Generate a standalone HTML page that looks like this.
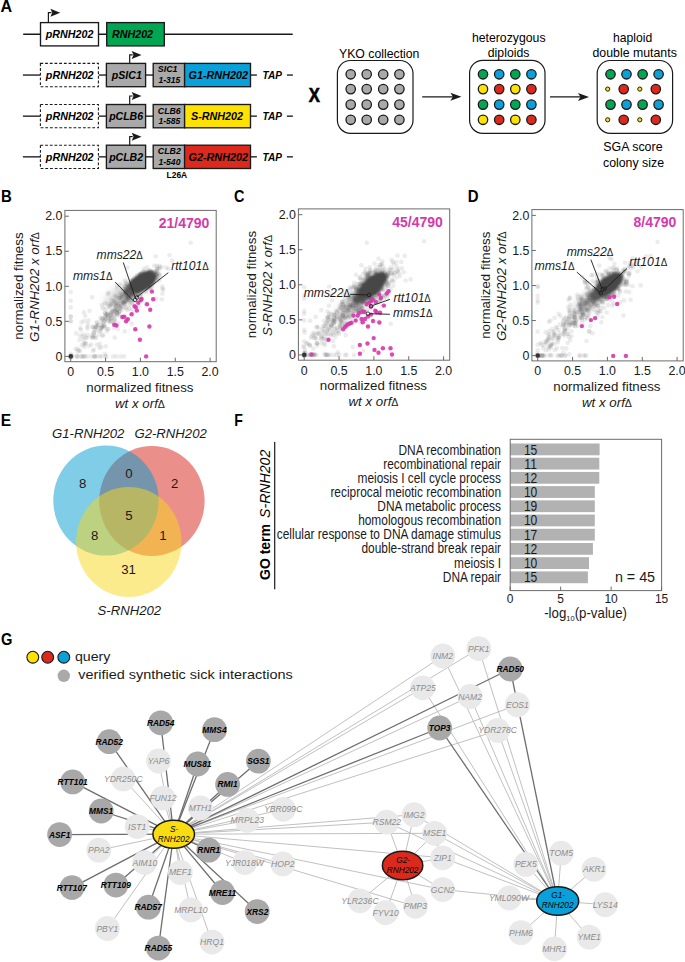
<!DOCTYPE html>
<html><head><meta charset="utf-8"><style>
html,body{margin:0;padding:0;background:#fff;}
svg{display:block;font-family:"Liberation Sans",sans-serif;}
</style></head><body>
<svg width="685" height="962" viewBox="0 0 685 962">
<text x="0.40" y="11.80" font-size="17.0" font-weight="bold" textLength="11.60" lengthAdjust="spacingAndGlyphs">A</text>
<line x1="23.20" y1="34.25" x2="292.70" y2="34.25" stroke="#1a1a1a" stroke-width="1.35" />
<rect x="40.50" y="22.60" width="58.00" height="23.30" fill="#fff" stroke="#1a1a1a" stroke-width="1.35" />
<rect x="106.70" y="22.60" width="57.60" height="23.30" fill="#00a651" stroke="#1a1a1a" stroke-width="1.35" />
<path d="M48.40 22.60V12.70H51.40" fill="none" stroke="#1a1a1a" stroke-width="1.2"/>
<path d="M50.40 8.70L60.20 12.70L50.40 16.70L52.20 12.70Z" fill="#1a1a1a"/>
<text x="45.84" y="37.90" font-size="11.2" font-weight="bold" font-style="italic" textLength="47.56" lengthAdjust="spacingAndGlyphs">pRNH202</text>
<text x="111.90" y="37.90" font-size="11.2" font-weight="bold" font-style="italic" textLength="41.20" lengthAdjust="spacingAndGlyphs">RNH202</text>
<line x1="22.90" y1="75.05" x2="40.40" y2="75.05" stroke="#1a1a1a" stroke-width="1.35" />
<line x1="98.40" y1="75.05" x2="106.50" y2="75.05" stroke="#1a1a1a" stroke-width="1.35" />
<line x1="145.60" y1="75.05" x2="153.20" y2="75.05" stroke="#1a1a1a" stroke-width="1.35" />
<line x1="250.50" y1="75.05" x2="256.90" y2="75.05" stroke="#1a1a1a" stroke-width="1.35" />
<line x1="286.90" y1="75.05" x2="292.90" y2="75.05" stroke="#1a1a1a" stroke-width="1.35" />
<rect x="40.40" y="63.40" width="58.00" height="23.30" fill="#fff" stroke="#1a1a1a" stroke-width="1.1" stroke-dasharray="2.8 1.9"/>
<rect x="106.40" y="63.40" width="39.20" height="23.30" fill="#a9a9a9" stroke="#1a1a1a" stroke-width="1.35" />
<rect x="153.20" y="63.40" width="31.40" height="23.30" fill="#a9a9a9" stroke="#1a1a1a" stroke-width="1.35" />
<rect x="184.60" y="63.40" width="65.90" height="23.30" fill="#0aa0da" stroke="#1a1a1a" stroke-width="1.35" />
<path d="M129.70 63.40V54.90H132.70" fill="none" stroke="#1a1a1a" stroke-width="1.2"/>
<path d="M131.70 50.90L141.50 54.90L131.70 58.90L133.50 54.90Z" fill="#1a1a1a"/>
<text x="45.84" y="78.80" font-size="11.2" font-weight="bold" font-style="italic" textLength="47.76" lengthAdjust="spacingAndGlyphs">pRNH202</text>
<text x="111.83" y="78.80" font-size="11.3" font-weight="bold" font-style="italic" textLength="29.97" lengthAdjust="spacingAndGlyphs">pSIC1</text>
<text x="157.80" y="72.40" font-size="9.0" font-weight="bold" font-style="italic" textLength="19.70" lengthAdjust="spacingAndGlyphs">SIC1</text>
<text x="158.50" y="83.20" font-size="9.0" font-weight="bold" font-style="italic" textLength="21.80" lengthAdjust="spacingAndGlyphs">1-315</text>
<text x="188.50" y="78.80" font-size="11.3" font-weight="bold" font-style="italic" textLength="59.50" lengthAdjust="spacingAndGlyphs">G1-RNH202</text>
<text x="262.60" y="78.80" font-size="11.2" font-weight="bold" font-style="italic" textLength="19.28" lengthAdjust="spacingAndGlyphs">TAP</text>
<line x1="22.90" y1="116.15" x2="40.40" y2="116.15" stroke="#1a1a1a" stroke-width="1.35" />
<line x1="98.40" y1="116.15" x2="106.50" y2="116.15" stroke="#1a1a1a" stroke-width="1.35" />
<line x1="145.60" y1="116.15" x2="153.20" y2="116.15" stroke="#1a1a1a" stroke-width="1.35" />
<line x1="250.50" y1="116.15" x2="256.90" y2="116.15" stroke="#1a1a1a" stroke-width="1.35" />
<line x1="286.90" y1="116.15" x2="292.90" y2="116.15" stroke="#1a1a1a" stroke-width="1.35" />
<rect x="40.40" y="104.50" width="58.00" height="23.30" fill="#fff" stroke="#1a1a1a" stroke-width="1.1" stroke-dasharray="2.8 1.9"/>
<rect x="106.40" y="104.50" width="39.20" height="23.30" fill="#a9a9a9" stroke="#1a1a1a" stroke-width="1.35" />
<rect x="153.20" y="104.50" width="31.40" height="23.30" fill="#a9a9a9" stroke="#1a1a1a" stroke-width="1.35" />
<rect x="184.60" y="104.50" width="65.90" height="23.30" fill="#ffe200" stroke="#1a1a1a" stroke-width="1.35" />
<path d="M129.70 104.50V96.00H132.70" fill="none" stroke="#1a1a1a" stroke-width="1.2"/>
<path d="M131.70 92.00L141.50 96.00L131.70 100.00L133.50 96.00Z" fill="#1a1a1a"/>
<text x="45.84" y="119.90" font-size="11.2" font-weight="bold" font-style="italic" textLength="47.76" lengthAdjust="spacingAndGlyphs">pRNH202</text>
<text x="109.13" y="119.90" font-size="11.3" font-weight="bold" font-style="italic" textLength="33.91" lengthAdjust="spacingAndGlyphs">pCLB6</text>
<text x="157.80" y="113.50" font-size="9.0" font-weight="bold" font-style="italic" textLength="22.95" lengthAdjust="spacingAndGlyphs">CLB6</text>
<text x="158.50" y="124.30" font-size="9.0" font-weight="bold" font-style="italic" textLength="21.80" lengthAdjust="spacingAndGlyphs">1-585</text>
<text x="191.00" y="119.90" font-size="11.3" font-weight="bold" font-style="italic" textLength="52.00" lengthAdjust="spacingAndGlyphs">S-RNH202</text>
<text x="262.60" y="119.90" font-size="11.2" font-weight="bold" font-style="italic" textLength="19.28" lengthAdjust="spacingAndGlyphs">TAP</text>
<line x1="22.90" y1="156.85" x2="40.40" y2="156.85" stroke="#1a1a1a" stroke-width="1.35" />
<line x1="98.40" y1="156.85" x2="106.50" y2="156.85" stroke="#1a1a1a" stroke-width="1.35" />
<line x1="145.60" y1="156.85" x2="153.20" y2="156.85" stroke="#1a1a1a" stroke-width="1.35" />
<line x1="250.50" y1="156.85" x2="256.90" y2="156.85" stroke="#1a1a1a" stroke-width="1.35" />
<line x1="286.90" y1="156.85" x2="292.90" y2="156.85" stroke="#1a1a1a" stroke-width="1.35" />
<rect x="40.40" y="145.20" width="58.00" height="23.30" fill="#fff" stroke="#1a1a1a" stroke-width="1.1" stroke-dasharray="2.8 1.9"/>
<rect x="106.40" y="145.20" width="39.20" height="23.30" fill="#a9a9a9" stroke="#1a1a1a" stroke-width="1.35" />
<rect x="153.20" y="145.20" width="31.40" height="23.30" fill="#a9a9a9" stroke="#1a1a1a" stroke-width="1.35" />
<rect x="184.60" y="145.20" width="65.90" height="23.30" fill="#db2a1d" stroke="#1a1a1a" stroke-width="1.35" />
<path d="M129.70 145.20V136.70H132.70" fill="none" stroke="#1a1a1a" stroke-width="1.2"/>
<path d="M131.70 132.70L141.50 136.70L131.70 140.70L133.50 136.70Z" fill="#1a1a1a"/>
<text x="45.84" y="160.60" font-size="11.2" font-weight="bold" font-style="italic" textLength="47.76" lengthAdjust="spacingAndGlyphs">pRNH202</text>
<text x="109.13" y="160.60" font-size="11.3" font-weight="bold" font-style="italic" textLength="33.97" lengthAdjust="spacingAndGlyphs">pCLB2</text>
<text x="157.80" y="154.20" font-size="9.0" font-weight="bold" font-style="italic" textLength="23.00" lengthAdjust="spacingAndGlyphs">CLB2</text>
<text x="158.50" y="165.00" font-size="9.0" font-weight="bold" font-style="italic" textLength="21.90" lengthAdjust="spacingAndGlyphs">1-540</text>
<text x="188.50" y="160.60" font-size="11.3" font-weight="bold" font-style="italic" textLength="59.50" lengthAdjust="spacingAndGlyphs">G2-RNH202</text>
<text x="262.60" y="160.60" font-size="11.2" font-weight="bold" font-style="italic" textLength="19.28" lengthAdjust="spacingAndGlyphs">TAP</text>
<text x="166.60" y="177.80" font-size="9.0" font-weight="bold" textLength="20.60" lengthAdjust="spacingAndGlyphs">L26A</text>
<text x="308.80" y="101.60" font-size="21.0" font-weight="bold" textLength="11.10" lengthAdjust="spacingAndGlyphs" stroke="#000" stroke-width="0.7">X</text>
<rect x="337.40" y="60.50" width="75.60" height="72.80" rx="13" ry="13" fill="#fff" stroke="#1a1a1a" stroke-width="1.2"/>
<rect x="469.60" y="60.30" width="75.40" height="73.00" rx="13" ry="13" fill="#fff" stroke="#1a1a1a" stroke-width="1.2"/>
<rect x="597.20" y="60.50" width="75.40" height="72.80" rx="13" ry="13" fill="#fff" stroke="#1a1a1a" stroke-width="1.2"/>
<circle cx="350.70" cy="74.30" r="4.70" fill="#a9a9a9" stroke="#1a1a1a" stroke-width="1.3" />
<circle cx="366.70" cy="74.30" r="4.70" fill="#a9a9a9" stroke="#1a1a1a" stroke-width="1.3" />
<circle cx="383.20" cy="74.30" r="4.70" fill="#a9a9a9" stroke="#1a1a1a" stroke-width="1.3" />
<circle cx="399.40" cy="74.30" r="4.70" fill="#a9a9a9" stroke="#1a1a1a" stroke-width="1.3" />
<circle cx="350.70" cy="89.10" r="4.70" fill="#a9a9a9" stroke="#1a1a1a" stroke-width="1.3" />
<circle cx="366.70" cy="89.10" r="4.70" fill="#a9a9a9" stroke="#1a1a1a" stroke-width="1.3" />
<circle cx="383.20" cy="89.10" r="4.70" fill="#a9a9a9" stroke="#1a1a1a" stroke-width="1.3" />
<circle cx="399.40" cy="89.10" r="4.70" fill="#a9a9a9" stroke="#1a1a1a" stroke-width="1.3" />
<circle cx="350.70" cy="104.60" r="4.70" fill="#a9a9a9" stroke="#1a1a1a" stroke-width="1.3" />
<circle cx="366.70" cy="104.60" r="4.70" fill="#a9a9a9" stroke="#1a1a1a" stroke-width="1.3" />
<circle cx="383.20" cy="104.60" r="4.70" fill="#a9a9a9" stroke="#1a1a1a" stroke-width="1.3" />
<circle cx="399.40" cy="104.60" r="4.70" fill="#a9a9a9" stroke="#1a1a1a" stroke-width="1.3" />
<circle cx="350.70" cy="119.80" r="4.70" fill="#a9a9a9" stroke="#1a1a1a" stroke-width="1.3" />
<circle cx="366.70" cy="119.80" r="4.70" fill="#a9a9a9" stroke="#1a1a1a" stroke-width="1.3" />
<circle cx="383.20" cy="119.80" r="4.70" fill="#a9a9a9" stroke="#1a1a1a" stroke-width="1.3" />
<circle cx="399.40" cy="119.80" r="4.70" fill="#a9a9a9" stroke="#1a1a1a" stroke-width="1.3" />
<circle cx="483.00" cy="74.30" r="4.70" fill="#00a651" stroke="#1a1a1a" stroke-width="1.3" />
<circle cx="499.20" cy="74.30" r="4.70" fill="#0aa0da" stroke="#1a1a1a" stroke-width="1.3" />
<circle cx="515.30" cy="74.30" r="4.70" fill="#00a651" stroke="#1a1a1a" stroke-width="1.3" />
<circle cx="531.40" cy="74.30" r="4.70" fill="#0aa0da" stroke="#1a1a1a" stroke-width="1.3" />
<circle cx="483.00" cy="89.10" r="4.70" fill="#ffe200" stroke="#1a1a1a" stroke-width="1.3" />
<circle cx="499.20" cy="89.10" r="4.70" fill="#db2a1d" stroke="#1a1a1a" stroke-width="1.3" />
<circle cx="515.30" cy="89.10" r="4.70" fill="#ffe200" stroke="#1a1a1a" stroke-width="1.3" />
<circle cx="531.40" cy="89.10" r="4.70" fill="#db2a1d" stroke="#1a1a1a" stroke-width="1.3" />
<circle cx="483.00" cy="104.60" r="4.70" fill="#00a651" stroke="#1a1a1a" stroke-width="1.3" />
<circle cx="499.20" cy="104.60" r="4.70" fill="#0aa0da" stroke="#1a1a1a" stroke-width="1.3" />
<circle cx="515.30" cy="104.60" r="4.70" fill="#00a651" stroke="#1a1a1a" stroke-width="1.3" />
<circle cx="531.40" cy="104.60" r="4.70" fill="#0aa0da" stroke="#1a1a1a" stroke-width="1.3" />
<circle cx="483.00" cy="119.80" r="4.70" fill="#ffe200" stroke="#1a1a1a" stroke-width="1.3" />
<circle cx="499.20" cy="119.80" r="4.70" fill="#db2a1d" stroke="#1a1a1a" stroke-width="1.3" />
<circle cx="515.30" cy="119.80" r="4.70" fill="#ffe200" stroke="#1a1a1a" stroke-width="1.3" />
<circle cx="531.40" cy="119.80" r="4.70" fill="#db2a1d" stroke="#1a1a1a" stroke-width="1.3" />
<circle cx="610.50" cy="74.30" r="4.70" fill="#00a651" stroke="#1a1a1a" stroke-width="1.3" />
<circle cx="626.50" cy="74.30" r="4.70" fill="#0aa0da" stroke="#1a1a1a" stroke-width="1.3" />
<circle cx="642.60" cy="74.30" r="4.70" fill="#00a651" stroke="#1a1a1a" stroke-width="1.3" />
<circle cx="658.60" cy="74.30" r="4.70" fill="#0aa0da" stroke="#1a1a1a" stroke-width="1.3" />
<circle cx="607.70" cy="89.10" r="2.10" fill="#ffe200" stroke="#1a1a1a" stroke-width="1.0" />
<circle cx="623.70" cy="89.10" r="4.70" fill="#db2a1d" stroke="#1a1a1a" stroke-width="1.3" />
<circle cx="639.80" cy="89.10" r="2.10" fill="#ffe200" stroke="#1a1a1a" stroke-width="1.0" />
<circle cx="655.80" cy="89.10" r="4.70" fill="#db2a1d" stroke="#1a1a1a" stroke-width="1.3" />
<circle cx="610.50" cy="104.60" r="4.70" fill="#00a651" stroke="#1a1a1a" stroke-width="1.3" />
<circle cx="626.50" cy="104.60" r="4.70" fill="#0aa0da" stroke="#1a1a1a" stroke-width="1.3" />
<circle cx="642.60" cy="104.60" r="4.70" fill="#00a651" stroke="#1a1a1a" stroke-width="1.3" />
<circle cx="658.60" cy="104.60" r="4.70" fill="#0aa0da" stroke="#1a1a1a" stroke-width="1.3" />
<circle cx="607.70" cy="119.80" r="2.10" fill="#ffe200" stroke="#1a1a1a" stroke-width="1.0" />
<circle cx="623.70" cy="119.80" r="4.70" fill="#db2a1d" stroke="#1a1a1a" stroke-width="1.3" />
<circle cx="639.80" cy="119.80" r="2.10" fill="#ffe200" stroke="#1a1a1a" stroke-width="1.0" />
<circle cx="655.80" cy="119.80" r="4.70" fill="#db2a1d" stroke="#1a1a1a" stroke-width="1.3" />
<line x1="422.20" y1="96.80" x2="455.40" y2="96.80" stroke="#1a1a1a" stroke-width="1.3" />
<path d="M450.40 92.80L461.40 96.80L450.40 100.80L452.90 96.80Z" fill="#1a1a1a"/>
<line x1="550.00" y1="96.90" x2="583.00" y2="96.90" stroke="#1a1a1a" stroke-width="1.3" />
<path d="M578.00 92.90L589.00 96.90L578.00 100.90L580.50 96.90Z" fill="#1a1a1a"/>
<text x="339.00" y="57.70" font-size="12.8" textLength="80.40" lengthAdjust="spacingAndGlyphs">YKO collection</text>
<text x="471.90" y="41.80" font-size="12.8" textLength="73.70" lengthAdjust="spacingAndGlyphs">heterozygous</text>
<text x="487.80" y="57.20" font-size="12.8" textLength="41.60" lengthAdjust="spacingAndGlyphs">diploids</text>
<text x="612.90" y="41.50" font-size="12.8" textLength="39.30" lengthAdjust="spacingAndGlyphs">haploid</text>
<text x="592.50" y="57.40" font-size="12.8" textLength="84.30" lengthAdjust="spacingAndGlyphs">double mutants</text>
<text x="603.20" y="151.00" font-size="12.8" textLength="59.40" lengthAdjust="spacingAndGlyphs">SGA score</text>
<text x="603.00" y="166.60" font-size="12.8" textLength="61.00" lengthAdjust="spacingAndGlyphs">colony size</text>
<defs><filter id="bl" x="-50%" y="-50%" width="200%" height="200%"><feGaussianBlur stdDeviation="1.2"/></filter><filter id="bl2" x="-50%" y="-50%" width="200%" height="200%"><feGaussianBlur stdDeviation="5"/></filter></defs>
<text x="1.00" y="202.40" font-size="16.5" font-weight="bold" textLength="10.80" lengthAdjust="spacingAndGlyphs">B</text>
<g fill="#404040" fill-opacity="0.1">
<circle cx="148.2" cy="273.6" r="2.3"/>
<circle cx="143.5" cy="284.5" r="2.3"/>
<circle cx="134.3" cy="287.4" r="2.3"/>
<circle cx="137.1" cy="290.9" r="2.3"/>
<circle cx="142.9" cy="281.6" r="2.3"/>
<circle cx="147.0" cy="282.8" r="2.3"/>
<circle cx="141.9" cy="282.9" r="2.3"/>
<circle cx="130.7" cy="287.8" r="2.3"/>
<circle cx="140.2" cy="275.3" r="2.3"/>
<circle cx="143.4" cy="282.3" r="2.3"/>
<circle cx="149.9" cy="277.0" r="2.3"/>
<circle cx="148.6" cy="279.9" r="2.3"/>
<circle cx="141.6" cy="279.2" r="2.3"/>
<circle cx="146.3" cy="279.5" r="2.3"/>
<circle cx="133.7" cy="286.3" r="2.3"/>
<circle cx="141.2" cy="280.6" r="2.3"/>
<circle cx="141.5" cy="279.1" r="2.3"/>
<circle cx="141.1" cy="282.5" r="2.3"/>
<circle cx="148.1" cy="282.7" r="2.3"/>
<circle cx="139.9" cy="285.8" r="2.3"/>
<circle cx="155.4" cy="274.6" r="2.3"/>
<circle cx="145.2" cy="278.4" r="2.3"/>
<circle cx="142.4" cy="288.0" r="2.3"/>
<circle cx="149.0" cy="279.7" r="2.3"/>
<circle cx="148.8" cy="283.1" r="2.3"/>
<circle cx="136.8" cy="281.4" r="2.3"/>
<circle cx="153.6" cy="280.0" r="2.3"/>
<circle cx="132.8" cy="288.6" r="2.3"/>
<circle cx="146.5" cy="279.3" r="2.3"/>
<circle cx="145.4" cy="284.0" r="2.3"/>
<circle cx="144.0" cy="277.4" r="2.3"/>
<circle cx="141.1" cy="288.3" r="2.3"/>
<circle cx="135.4" cy="284.1" r="2.3"/>
<circle cx="130.2" cy="290.4" r="2.3"/>
<circle cx="135.3" cy="287.4" r="2.3"/>
<circle cx="140.1" cy="283.8" r="2.3"/>
<circle cx="151.3" cy="275.3" r="2.3"/>
<circle cx="151.1" cy="277.5" r="2.3"/>
<circle cx="137.9" cy="283.9" r="2.3"/>
<circle cx="122.6" cy="295.0" r="2.3"/>
<circle cx="144.9" cy="285.3" r="2.3"/>
<circle cx="145.8" cy="282.2" r="2.3"/>
<circle cx="125.4" cy="293.8" r="2.3"/>
<circle cx="136.0" cy="288.3" r="2.3"/>
<circle cx="138.8" cy="280.2" r="2.3"/>
<circle cx="142.5" cy="282.4" r="2.3"/>
<circle cx="147.3" cy="285.8" r="2.3"/>
<circle cx="151.9" cy="280.3" r="2.3"/>
<circle cx="146.6" cy="283.8" r="2.3"/>
<circle cx="135.8" cy="288.0" r="2.3"/>
<circle cx="153.6" cy="272.9" r="2.3"/>
<circle cx="138.1" cy="286.1" r="2.3"/>
<circle cx="134.0" cy="287.8" r="2.3"/>
<circle cx="136.7" cy="283.4" r="2.3"/>
<circle cx="133.1" cy="289.5" r="2.3"/>
<circle cx="137.2" cy="288.2" r="2.3"/>
<circle cx="146.4" cy="279.4" r="2.3"/>
<circle cx="143.9" cy="277.2" r="2.3"/>
<circle cx="151.8" cy="281.4" r="2.3"/>
<circle cx="148.3" cy="285.0" r="2.3"/>
<circle cx="138.3" cy="278.1" r="2.3"/>
<circle cx="141.1" cy="284.6" r="2.3"/>
<circle cx="142.9" cy="282.0" r="2.3"/>
<circle cx="143.2" cy="284.6" r="2.3"/>
<circle cx="147.7" cy="275.9" r="2.3"/>
<circle cx="139.8" cy="282.9" r="2.3"/>
<circle cx="144.6" cy="277.3" r="2.3"/>
<circle cx="143.4" cy="279.3" r="2.3"/>
<circle cx="141.7" cy="286.7" r="2.3"/>
<circle cx="136.8" cy="282.3" r="2.3"/>
<circle cx="148.2" cy="278.2" r="2.3"/>
<circle cx="137.4" cy="284.4" r="2.3"/>
<circle cx="150.9" cy="272.2" r="2.3"/>
<circle cx="137.2" cy="285.8" r="2.3"/>
<circle cx="133.7" cy="291.9" r="2.3"/>
<circle cx="143.0" cy="281.9" r="2.3"/>
<circle cx="146.3" cy="275.4" r="2.3"/>
<circle cx="145.4" cy="275.8" r="2.3"/>
<circle cx="139.9" cy="288.0" r="2.3"/>
<circle cx="140.9" cy="273.8" r="2.3"/>
<circle cx="146.1" cy="284.2" r="2.3"/>
<circle cx="141.2" cy="278.1" r="2.3"/>
<circle cx="133.5" cy="285.2" r="2.3"/>
<circle cx="135.6" cy="282.1" r="2.3"/>
<circle cx="146.6" cy="278.7" r="2.3"/>
<circle cx="156.0" cy="275.3" r="2.3"/>
<circle cx="134.2" cy="281.0" r="2.3"/>
<circle cx="132.3" cy="280.9" r="2.3"/>
<circle cx="143.2" cy="285.6" r="2.3"/>
<circle cx="141.6" cy="282.5" r="2.3"/>
<circle cx="143.5" cy="282.4" r="2.3"/>
<circle cx="152.8" cy="284.1" r="2.3"/>
<circle cx="138.4" cy="285.8" r="2.3"/>
<circle cx="157.3" cy="280.1" r="2.3"/>
<circle cx="141.3" cy="287.2" r="2.3"/>
<circle cx="136.3" cy="284.0" r="2.3"/>
<circle cx="142.3" cy="277.3" r="2.3"/>
<circle cx="137.3" cy="284.7" r="2.3"/>
<circle cx="148.3" cy="275.5" r="2.3"/>
<circle cx="137.7" cy="281.3" r="2.3"/>
<circle cx="132.6" cy="282.1" r="2.3"/>
<circle cx="143.0" cy="282.4" r="2.3"/>
<circle cx="142.3" cy="279.5" r="2.3"/>
<circle cx="153.9" cy="275.7" r="2.3"/>
<circle cx="138.4" cy="282.9" r="2.3"/>
<circle cx="138.6" cy="290.9" r="2.3"/>
<circle cx="148.1" cy="280.2" r="2.3"/>
<circle cx="151.1" cy="280.6" r="2.3"/>
<circle cx="121.7" cy="294.4" r="2.3"/>
<circle cx="140.3" cy="278.0" r="2.3"/>
<circle cx="144.9" cy="279.8" r="2.3"/>
<circle cx="146.4" cy="281.2" r="2.3"/>
<circle cx="144.5" cy="285.9" r="2.3"/>
<circle cx="146.6" cy="282.6" r="2.3"/>
<circle cx="137.6" cy="282.9" r="2.3"/>
<circle cx="149.6" cy="281.5" r="2.3"/>
<circle cx="156.4" cy="275.8" r="2.3"/>
<circle cx="146.0" cy="276.8" r="2.3"/>
<circle cx="143.0" cy="281.4" r="2.3"/>
<circle cx="152.6" cy="272.8" r="2.3"/>
<circle cx="147.7" cy="285.6" r="2.3"/>
<circle cx="134.9" cy="283.0" r="2.3"/>
<circle cx="144.6" cy="284.4" r="2.3"/>
<circle cx="137.9" cy="286.3" r="2.3"/>
<circle cx="145.8" cy="278.9" r="2.3"/>
<circle cx="149.9" cy="280.6" r="2.3"/>
<circle cx="149.3" cy="279.9" r="2.3"/>
<circle cx="137.0" cy="279.6" r="2.3"/>
<circle cx="142.5" cy="282.8" r="2.3"/>
<circle cx="141.0" cy="284.7" r="2.3"/>
<circle cx="150.2" cy="272.6" r="2.3"/>
<circle cx="146.4" cy="279.3" r="2.3"/>
<circle cx="149.0" cy="278.5" r="2.3"/>
<circle cx="144.2" cy="279.8" r="2.3"/>
<circle cx="139.8" cy="278.2" r="2.3"/>
<circle cx="151.6" cy="271.9" r="2.3"/>
<circle cx="125.9" cy="286.3" r="2.3"/>
<circle cx="147.3" cy="281.0" r="2.3"/>
<circle cx="139.8" cy="280.0" r="2.3"/>
<circle cx="148.4" cy="275.6" r="2.3"/>
<circle cx="142.7" cy="282.1" r="2.3"/>
<circle cx="147.6" cy="279.5" r="2.3"/>
<circle cx="136.7" cy="288.2" r="2.3"/>
<circle cx="140.3" cy="282.5" r="2.3"/>
<circle cx="159.4" cy="276.6" r="2.3"/>
<circle cx="145.2" cy="281.0" r="2.3"/>
<circle cx="141.7" cy="278.0" r="2.3"/>
<circle cx="150.5" cy="277.9" r="2.3"/>
<circle cx="140.2" cy="288.7" r="2.3"/>
<circle cx="139.3" cy="279.9" r="2.3"/>
<circle cx="138.9" cy="282.1" r="2.3"/>
<circle cx="146.0" cy="278.7" r="2.3"/>
<circle cx="149.3" cy="278.5" r="2.3"/>
<circle cx="138.0" cy="289.3" r="2.3"/>
<circle cx="148.7" cy="279.8" r="2.3"/>
<circle cx="138.3" cy="282.0" r="2.3"/>
<circle cx="133.6" cy="281.6" r="2.3"/>
<circle cx="147.2" cy="281.3" r="2.3"/>
<circle cx="135.8" cy="282.7" r="2.3"/>
<circle cx="134.8" cy="289.5" r="2.3"/>
<circle cx="141.5" cy="282.2" r="2.3"/>
<circle cx="141.3" cy="281.7" r="2.3"/>
<circle cx="139.5" cy="284.7" r="2.3"/>
<circle cx="149.4" cy="275.7" r="2.3"/>
<circle cx="136.0" cy="280.3" r="2.3"/>
<circle cx="128.1" cy="291.1" r="2.3"/>
<circle cx="144.8" cy="277.4" r="2.3"/>
<circle cx="143.2" cy="283.3" r="2.3"/>
<circle cx="146.1" cy="280.8" r="2.3"/>
<circle cx="149.6" cy="288.1" r="2.3"/>
<circle cx="145.6" cy="283.2" r="2.3"/>
<circle cx="147.0" cy="276.9" r="2.3"/>
<circle cx="147.4" cy="280.7" r="2.3"/>
<circle cx="145.3" cy="281.8" r="2.3"/>
<circle cx="143.5" cy="282.2" r="2.3"/>
<circle cx="132.7" cy="281.4" r="2.3"/>
<circle cx="150.0" cy="285.0" r="2.3"/>
<circle cx="150.1" cy="282.6" r="2.3"/>
<circle cx="141.1" cy="285.3" r="2.3"/>
<circle cx="137.8" cy="284.5" r="2.3"/>
<circle cx="141.9" cy="287.9" r="2.3"/>
<circle cx="141.2" cy="281.9" r="2.3"/>
<circle cx="154.5" cy="276.3" r="2.3"/>
<circle cx="134.3" cy="288.9" r="2.3"/>
<circle cx="147.6" cy="282.3" r="2.3"/>
<circle cx="136.0" cy="284.5" r="2.3"/>
<circle cx="141.4" cy="282.3" r="2.3"/>
<circle cx="138.8" cy="287.6" r="2.3"/>
<circle cx="139.8" cy="284.6" r="2.3"/>
<circle cx="138.8" cy="283.1" r="2.3"/>
<circle cx="144.6" cy="279.0" r="2.3"/>
<circle cx="146.5" cy="283.0" r="2.3"/>
<circle cx="132.9" cy="285.5" r="2.3"/>
<circle cx="141.7" cy="282.4" r="2.3"/>
<circle cx="134.2" cy="288.3" r="2.3"/>
<circle cx="138.8" cy="287.7" r="2.3"/>
<circle cx="139.9" cy="289.3" r="2.3"/>
<circle cx="140.5" cy="279.4" r="2.3"/>
<circle cx="136.8" cy="285.6" r="2.3"/>
<circle cx="133.3" cy="285.7" r="2.3"/>
<circle cx="156.4" cy="278.0" r="2.3"/>
<circle cx="138.0" cy="280.1" r="2.3"/>
<circle cx="144.1" cy="280.9" r="2.3"/>
<circle cx="128.1" cy="291.9" r="2.3"/>
<circle cx="145.7" cy="275.2" r="2.3"/>
<circle cx="147.1" cy="281.5" r="2.3"/>
<circle cx="140.0" cy="290.4" r="2.3"/>
<circle cx="132.7" cy="284.5" r="2.3"/>
<circle cx="143.2" cy="286.7" r="2.3"/>
<circle cx="153.4" cy="281.5" r="2.3"/>
<circle cx="150.9" cy="278.2" r="2.3"/>
<circle cx="143.0" cy="279.6" r="2.3"/>
<circle cx="141.5" cy="278.4" r="2.3"/>
<circle cx="142.4" cy="283.6" r="2.3"/>
<circle cx="139.6" cy="289.3" r="2.3"/>
<circle cx="135.5" cy="283.2" r="2.3"/>
<circle cx="145.2" cy="275.7" r="2.3"/>
<circle cx="159.2" cy="269.3" r="2.3"/>
<circle cx="147.3" cy="284.0" r="2.3"/>
<circle cx="136.6" cy="278.2" r="2.3"/>
<circle cx="145.6" cy="280.9" r="2.3"/>
<circle cx="146.9" cy="286.3" r="2.3"/>
<circle cx="138.2" cy="289.7" r="2.3"/>
<circle cx="126.0" cy="290.0" r="2.3"/>
<circle cx="148.6" cy="279.1" r="2.3"/>
<circle cx="145.8" cy="283.9" r="2.3"/>
<circle cx="143.7" cy="278.9" r="2.3"/>
<circle cx="149.7" cy="272.2" r="2.3"/>
<circle cx="145.3" cy="281.0" r="2.3"/>
<circle cx="137.1" cy="287.9" r="2.3"/>
<circle cx="145.1" cy="278.7" r="2.3"/>
<circle cx="139.3" cy="278.4" r="2.3"/>
<circle cx="146.2" cy="280.0" r="2.3"/>
<circle cx="140.4" cy="283.4" r="2.3"/>
<circle cx="136.9" cy="289.4" r="2.3"/>
<circle cx="145.1" cy="282.8" r="2.3"/>
<circle cx="138.0" cy="280.8" r="2.3"/>
<circle cx="138.4" cy="280.2" r="2.3"/>
<circle cx="139.3" cy="278.9" r="2.3"/>
<circle cx="147.8" cy="285.3" r="2.3"/>
<circle cx="150.5" cy="278.0" r="2.3"/>
<circle cx="128.3" cy="290.9" r="2.3"/>
<circle cx="144.9" cy="285.4" r="2.3"/>
<circle cx="136.8" cy="284.0" r="2.3"/>
<circle cx="149.6" cy="273.8" r="2.3"/>
<circle cx="148.3" cy="274.7" r="2.3"/>
<circle cx="126.1" cy="295.3" r="2.3"/>
<circle cx="147.4" cy="288.9" r="2.3"/>
<circle cx="145.6" cy="277.2" r="2.3"/>
<circle cx="137.1" cy="287.1" r="2.3"/>
<circle cx="135.4" cy="286.9" r="2.3"/>
<circle cx="141.5" cy="283.0" r="2.3"/>
<circle cx="134.2" cy="286.2" r="2.3"/>
<circle cx="138.0" cy="281.8" r="2.3"/>
<circle cx="146.3" cy="285.3" r="2.3"/>
<circle cx="131.9" cy="288.8" r="2.3"/>
<circle cx="137.7" cy="283.7" r="2.3"/>
<circle cx="147.2" cy="279.3" r="2.3"/>
<circle cx="132.2" cy="293.1" r="2.3"/>
<circle cx="147.4" cy="283.0" r="2.3"/>
<circle cx="149.5" cy="278.3" r="2.3"/>
<circle cx="146.7" cy="282.8" r="2.3"/>
<circle cx="145.8" cy="290.8" r="2.3"/>
<circle cx="139.5" cy="282.2" r="2.3"/>
<circle cx="137.0" cy="288.8" r="2.3"/>
<circle cx="141.3" cy="282.9" r="2.3"/>
<circle cx="135.2" cy="284.5" r="2.3"/>
<circle cx="128.8" cy="287.0" r="2.3"/>
<circle cx="133.6" cy="290.9" r="2.3"/>
<circle cx="152.4" cy="279.7" r="2.3"/>
<circle cx="130.4" cy="289.7" r="2.3"/>
<circle cx="137.3" cy="289.6" r="2.3"/>
<circle cx="138.2" cy="287.7" r="2.3"/>
<circle cx="136.8" cy="289.6" r="2.3"/>
<circle cx="153.8" cy="277.6" r="2.3"/>
<circle cx="150.6" cy="282.3" r="2.3"/>
<circle cx="147.5" cy="283.7" r="2.3"/>
<circle cx="137.7" cy="283.1" r="2.3"/>
<circle cx="141.3" cy="290.1" r="2.3"/>
<circle cx="138.3" cy="285.6" r="2.3"/>
<circle cx="147.3" cy="282.9" r="2.3"/>
<circle cx="139.7" cy="283.9" r="2.3"/>
<circle cx="130.8" cy="290.1" r="2.3"/>
<circle cx="135.5" cy="285.2" r="2.3"/>
<circle cx="141.3" cy="283.7" r="2.3"/>
<circle cx="125.6" cy="293.4" r="2.3"/>
<circle cx="140.8" cy="286.8" r="2.3"/>
<circle cx="140.3" cy="288.2" r="2.3"/>
<circle cx="141.9" cy="280.4" r="2.3"/>
<circle cx="146.7" cy="281.6" r="2.3"/>
<circle cx="151.8" cy="273.4" r="2.3"/>
<circle cx="135.6" cy="287.2" r="2.3"/>
<circle cx="130.9" cy="290.1" r="2.3"/>
<circle cx="144.6" cy="276.5" r="2.3"/>
<circle cx="141.8" cy="289.2" r="2.3"/>
<circle cx="138.5" cy="280.0" r="2.3"/>
<circle cx="140.7" cy="278.9" r="2.3"/>
<circle cx="144.9" cy="275.3" r="2.3"/>
<circle cx="146.9" cy="281.9" r="2.3"/>
<circle cx="140.8" cy="274.4" r="2.3"/>
<circle cx="141.2" cy="289.8" r="2.3"/>
<circle cx="155.4" cy="272.8" r="2.3"/>
<circle cx="138.5" cy="287.0" r="2.3"/>
<circle cx="130.2" cy="287.6" r="2.3"/>
<circle cx="143.8" cy="283.8" r="2.3"/>
<circle cx="139.6" cy="285.7" r="2.3"/>
<circle cx="149.3" cy="278.7" r="2.3"/>
<circle cx="152.5" cy="279.1" r="2.3"/>
<circle cx="138.4" cy="286.6" r="2.3"/>
<circle cx="138.3" cy="285.3" r="2.3"/>
<circle cx="146.8" cy="275.3" r="2.3"/>
<circle cx="132.5" cy="284.1" r="2.3"/>
<circle cx="139.9" cy="278.3" r="2.3"/>
<circle cx="142.0" cy="285.7" r="2.3"/>
<circle cx="146.2" cy="277.8" r="2.3"/>
<circle cx="138.6" cy="284.7" r="2.3"/>
<circle cx="142.2" cy="281.4" r="2.3"/>
<circle cx="132.1" cy="293.2" r="2.3"/>
<circle cx="141.8" cy="281.9" r="2.3"/>
<circle cx="141.0" cy="289.6" r="2.3"/>
<circle cx="151.4" cy="277.8" r="2.3"/>
<circle cx="132.1" cy="283.2" r="2.3"/>
<circle cx="147.8" cy="275.3" r="2.3"/>
<circle cx="146.6" cy="277.8" r="2.3"/>
<circle cx="135.1" cy="286.9" r="2.3"/>
<circle cx="143.2" cy="279.7" r="2.3"/>
<circle cx="146.6" cy="283.4" r="2.3"/>
<circle cx="138.2" cy="286.2" r="2.3"/>
<circle cx="141.9" cy="285.9" r="2.3"/>
<circle cx="131.3" cy="293.7" r="2.3"/>
<circle cx="143.9" cy="281.5" r="2.3"/>
<circle cx="148.7" cy="285.2" r="2.3"/>
<circle cx="137.5" cy="282.3" r="2.3"/>
<circle cx="130.2" cy="294.0" r="2.3"/>
<circle cx="128.5" cy="286.8" r="2.3"/>
<circle cx="142.9" cy="284.1" r="2.3"/>
<circle cx="143.0" cy="282.4" r="2.3"/>
<circle cx="146.1" cy="275.9" r="2.3"/>
<circle cx="147.5" cy="278.0" r="2.3"/>
<circle cx="145.7" cy="277.4" r="2.3"/>
<circle cx="152.6" cy="282.5" r="2.3"/>
<circle cx="144.0" cy="281.1" r="2.3"/>
<circle cx="143.3" cy="282.8" r="2.3"/>
<circle cx="140.5" cy="281.8" r="2.3"/>
<circle cx="142.9" cy="281.6" r="2.3"/>
<circle cx="136.5" cy="290.6" r="2.3"/>
<circle cx="139.6" cy="290.6" r="2.3"/>
<circle cx="139.6" cy="287.2" r="2.3"/>
<circle cx="132.7" cy="295.4" r="2.3"/>
<circle cx="139.5" cy="286.3" r="2.3"/>
<circle cx="155.2" cy="271.3" r="2.3"/>
<circle cx="137.3" cy="287.4" r="2.3"/>
<circle cx="136.2" cy="289.1" r="2.3"/>
<circle cx="139.5" cy="284.4" r="2.3"/>
<circle cx="136.2" cy="283.3" r="2.3"/>
<circle cx="143.1" cy="275.0" r="2.3"/>
<circle cx="131.8" cy="286.7" r="2.3"/>
<circle cx="141.8" cy="288.5" r="2.3"/>
<circle cx="142.4" cy="288.3" r="2.3"/>
<circle cx="137.2" cy="275.9" r="2.3"/>
<circle cx="147.8" cy="272.5" r="2.3"/>
<circle cx="152.4" cy="281.7" r="2.3"/>
<circle cx="144.4" cy="280.7" r="2.3"/>
<circle cx="146.4" cy="283.6" r="2.3"/>
<circle cx="125.0" cy="285.9" r="2.3"/>
<circle cx="149.4" cy="276.9" r="2.3"/>
<circle cx="138.2" cy="284.4" r="2.3"/>
<circle cx="131.8" cy="285.6" r="2.3"/>
<circle cx="143.2" cy="282.5" r="2.3"/>
<circle cx="139.0" cy="284.8" r="2.3"/>
<circle cx="143.3" cy="283.3" r="2.3"/>
<circle cx="148.0" cy="278.1" r="2.3"/>
<circle cx="142.5" cy="285.4" r="2.3"/>
<circle cx="148.0" cy="274.3" r="2.3"/>
<circle cx="149.4" cy="284.6" r="2.3"/>
<circle cx="137.8" cy="281.7" r="2.3"/>
<circle cx="140.0" cy="279.4" r="2.3"/>
<circle cx="137.5" cy="282.6" r="2.3"/>
<circle cx="149.3" cy="286.8" r="2.3"/>
<circle cx="139.4" cy="285.1" r="2.3"/>
<circle cx="139.0" cy="287.8" r="2.3"/>
<circle cx="152.8" cy="276.3" r="2.3"/>
<circle cx="149.3" cy="282.9" r="2.3"/>
<circle cx="128.4" cy="292.9" r="2.3"/>
<circle cx="145.7" cy="282.9" r="2.3"/>
<circle cx="144.1" cy="278.5" r="2.3"/>
<circle cx="138.8" cy="284.9" r="2.3"/>
<circle cx="135.1" cy="283.2" r="2.3"/>
<circle cx="153.0" cy="274.0" r="2.3"/>
<circle cx="139.5" cy="286.8" r="2.3"/>
<circle cx="138.5" cy="281.7" r="2.3"/>
<circle cx="134.3" cy="282.2" r="2.3"/>
<circle cx="133.5" cy="288.0" r="2.3"/>
<circle cx="147.9" cy="272.6" r="2.3"/>
<circle cx="137.8" cy="282.5" r="2.3"/>
<circle cx="157.1" cy="269.0" r="2.3"/>
<circle cx="126.4" cy="291.4" r="2.3"/>
<circle cx="159.8" cy="275.6" r="2.3"/>
<circle cx="151.3" cy="284.3" r="2.3"/>
<circle cx="153.9" cy="278.2" r="2.3"/>
<circle cx="145.8" cy="277.0" r="2.3"/>
<circle cx="125.2" cy="298.4" r="2.3"/>
<circle cx="146.5" cy="285.3" r="2.3"/>
<circle cx="143.2" cy="285.3" r="2.3"/>
<circle cx="151.7" cy="278.4" r="2.3"/>
<circle cx="134.6" cy="285.1" r="2.3"/>
<circle cx="150.4" cy="278.0" r="2.3"/>
<circle cx="142.9" cy="280.3" r="2.3"/>
<circle cx="140.3" cy="288.0" r="2.3"/>
<circle cx="146.0" cy="281.4" r="2.3"/>
<circle cx="131.1" cy="286.4" r="2.3"/>
<circle cx="144.5" cy="280.6" r="2.3"/>
<circle cx="137.0" cy="286.6" r="2.3"/>
<circle cx="145.2" cy="278.9" r="2.3"/>
<circle cx="137.6" cy="288.6" r="2.3"/>
<circle cx="143.8" cy="280.9" r="2.3"/>
<circle cx="149.4" cy="282.1" r="2.3"/>
<circle cx="145.2" cy="274.3" r="2.3"/>
<circle cx="148.0" cy="278.4" r="2.3"/>
<circle cx="150.0" cy="282.2" r="2.3"/>
<circle cx="126.9" cy="284.1" r="2.3"/>
<circle cx="122.2" cy="309.4" r="2.3"/>
<circle cx="151.4" cy="277.8" r="2.3"/>
<circle cx="135.5" cy="296.2" r="2.3"/>
<circle cx="162.0" cy="267.1" r="2.3"/>
<circle cx="141.3" cy="295.0" r="2.3"/>
<circle cx="148.7" cy="276.3" r="2.3"/>
<circle cx="140.2" cy="274.3" r="2.3"/>
<circle cx="144.7" cy="287.7" r="2.3"/>
<circle cx="126.0" cy="297.7" r="2.3"/>
<circle cx="159.4" cy="273.5" r="2.3"/>
<circle cx="136.4" cy="289.1" r="2.3"/>
<circle cx="150.1" cy="280.6" r="2.3"/>
<circle cx="140.4" cy="279.2" r="2.3"/>
<circle cx="138.8" cy="286.4" r="2.3"/>
<circle cx="144.9" cy="276.1" r="2.3"/>
<circle cx="158.2" cy="273.9" r="2.3"/>
<circle cx="155.2" cy="271.4" r="2.3"/>
<circle cx="126.5" cy="301.3" r="2.3"/>
<circle cx="124.2" cy="301.3" r="2.3"/>
<circle cx="159.2" cy="280.5" r="2.3"/>
<circle cx="121.7" cy="297.4" r="2.3"/>
<circle cx="132.7" cy="286.6" r="2.3"/>
<circle cx="122.5" cy="301.9" r="2.3"/>
<circle cx="109.0" cy="320.1" r="2.3"/>
<circle cx="144.4" cy="272.5" r="2.3"/>
<circle cx="159.6" cy="265.9" r="2.3"/>
<circle cx="129.2" cy="297.6" r="2.3"/>
<circle cx="110.6" cy="304.4" r="2.3"/>
<circle cx="156.7" cy="274.3" r="2.3"/>
<circle cx="166.3" cy="267.8" r="2.3"/>
<circle cx="148.6" cy="281.5" r="2.3"/>
<circle cx="116.0" cy="305.4" r="2.3"/>
<circle cx="120.7" cy="295.7" r="2.3"/>
<circle cx="127.4" cy="296.2" r="2.3"/>
<circle cx="132.6" cy="291.0" r="2.3"/>
<circle cx="128.5" cy="290.6" r="2.3"/>
<circle cx="146.4" cy="277.9" r="2.3"/>
<circle cx="131.1" cy="280.6" r="2.3"/>
<circle cx="131.7" cy="295.5" r="2.3"/>
<circle cx="148.7" cy="276.2" r="2.3"/>
<circle cx="119.0" cy="306.0" r="2.3"/>
<circle cx="137.4" cy="293.6" r="2.3"/>
<circle cx="145.1" cy="287.0" r="2.3"/>
<circle cx="139.5" cy="292.4" r="2.3"/>
<circle cx="159.5" cy="267.5" r="2.3"/>
<circle cx="143.6" cy="279.3" r="2.3"/>
<circle cx="148.3" cy="277.5" r="2.3"/>
<circle cx="148.1" cy="276.0" r="2.3"/>
<circle cx="107.3" cy="314.3" r="2.3"/>
<circle cx="119.8" cy="298.2" r="2.3"/>
<circle cx="142.9" cy="284.2" r="2.3"/>
<circle cx="114.2" cy="323.4" r="2.3"/>
<circle cx="125.5" cy="301.2" r="2.3"/>
<circle cx="115.4" cy="295.8" r="2.3"/>
<circle cx="145.0" cy="280.3" r="2.3"/>
<circle cx="127.7" cy="298.7" r="2.3"/>
<circle cx="137.4" cy="290.0" r="2.3"/>
<circle cx="135.5" cy="283.9" r="2.3"/>
<circle cx="116.2" cy="306.3" r="2.3"/>
<circle cx="157.2" cy="276.7" r="2.3"/>
<circle cx="137.9" cy="289.2" r="2.3"/>
<circle cx="121.6" cy="296.4" r="2.3"/>
<circle cx="131.3" cy="285.8" r="2.3"/>
<circle cx="145.1" cy="281.5" r="2.3"/>
<circle cx="143.8" cy="283.4" r="2.3"/>
<circle cx="113.9" cy="300.8" r="2.3"/>
<circle cx="139.9" cy="277.3" r="2.3"/>
<circle cx="113.0" cy="304.2" r="2.3"/>
<circle cx="149.5" cy="275.7" r="2.3"/>
<circle cx="112.1" cy="311.1" r="2.3"/>
<circle cx="131.3" cy="294.4" r="2.3"/>
<circle cx="142.6" cy="287.9" r="2.3"/>
<circle cx="137.3" cy="287.2" r="2.3"/>
<circle cx="157.6" cy="268.2" r="2.3"/>
<circle cx="172.3" cy="260.9" r="2.3"/>
<circle cx="133.3" cy="283.1" r="2.3"/>
<circle cx="117.3" cy="302.7" r="2.3"/>
<circle cx="145.9" cy="282.8" r="2.3"/>
<circle cx="131.0" cy="283.4" r="2.3"/>
<circle cx="132.5" cy="290.1" r="2.3"/>
<circle cx="140.6" cy="276.3" r="2.3"/>
<circle cx="117.8" cy="315.7" r="2.3"/>
<circle cx="123.1" cy="302.9" r="2.3"/>
<circle cx="144.0" cy="275.4" r="2.3"/>
<circle cx="130.6" cy="284.1" r="2.3"/>
<circle cx="135.9" cy="284.2" r="2.3"/>
<circle cx="126.8" cy="292.1" r="2.3"/>
<circle cx="126.3" cy="290.5" r="2.3"/>
<circle cx="143.8" cy="268.9" r="2.3"/>
<circle cx="137.4" cy="294.6" r="2.3"/>
<circle cx="148.4" cy="274.4" r="2.3"/>
<circle cx="136.7" cy="296.5" r="2.3"/>
<circle cx="155.3" cy="282.4" r="2.3"/>
<circle cx="129.7" cy="287.7" r="2.3"/>
<circle cx="134.4" cy="287.1" r="2.3"/>
<circle cx="143.3" cy="277.7" r="2.3"/>
<circle cx="150.2" cy="270.5" r="2.3"/>
<circle cx="138.2" cy="294.3" r="2.3"/>
<circle cx="137.5" cy="291.3" r="2.3"/>
<circle cx="140.1" cy="276.6" r="2.3"/>
<circle cx="151.0" cy="278.4" r="2.3"/>
<circle cx="141.5" cy="283.1" r="2.3"/>
<circle cx="129.0" cy="287.0" r="2.3"/>
<circle cx="145.6" cy="276.9" r="2.3"/>
<circle cx="132.1" cy="309.2" r="2.3"/>
<circle cx="126.2" cy="290.7" r="2.3"/>
<circle cx="136.4" cy="288.3" r="2.3"/>
<circle cx="134.2" cy="287.2" r="2.3"/>
<circle cx="133.4" cy="280.0" r="2.3"/>
<circle cx="138.3" cy="287.9" r="2.3"/>
<circle cx="154.4" cy="265.8" r="2.3"/>
<circle cx="146.0" cy="275.4" r="2.3"/>
<circle cx="137.5" cy="285.0" r="2.3"/>
<circle cx="145.4" cy="278.7" r="2.3"/>
<circle cx="111.1" cy="303.9" r="2.3"/>
<circle cx="134.8" cy="293.3" r="2.3"/>
<circle cx="137.0" cy="292.2" r="2.3"/>
<circle cx="128.3" cy="296.6" r="2.3"/>
<circle cx="151.0" cy="275.8" r="2.3"/>
<circle cx="149.3" cy="284.3" r="2.3"/>
<circle cx="152.1" cy="280.2" r="2.3"/>
<circle cx="150.1" cy="279.6" r="2.3"/>
<circle cx="135.5" cy="297.1" r="2.3"/>
<circle cx="123.8" cy="301.8" r="2.3"/>
<circle cx="127.5" cy="298.2" r="2.3"/>
<circle cx="155.9" cy="274.6" r="2.3"/>
<circle cx="135.4" cy="289.8" r="2.3"/>
<circle cx="131.3" cy="293.3" r="2.3"/>
<circle cx="138.6" cy="279.3" r="2.3"/>
<circle cx="130.6" cy="295.2" r="2.3"/>
<circle cx="133.1" cy="283.5" r="2.3"/>
<circle cx="125.9" cy="297.2" r="2.3"/>
<circle cx="146.8" cy="274.3" r="2.3"/>
<circle cx="133.4" cy="297.7" r="2.3"/>
<circle cx="117.5" cy="309.9" r="2.3"/>
<circle cx="140.6" cy="293.7" r="2.3"/>
<circle cx="149.0" cy="274.8" r="2.3"/>
<circle cx="137.7" cy="290.3" r="2.3"/>
<circle cx="145.9" cy="280.8" r="2.3"/>
<circle cx="146.9" cy="281.0" r="2.3"/>
<circle cx="157.5" cy="278.2" r="2.3"/>
<circle cx="119.8" cy="292.7" r="2.3"/>
<circle cx="146.9" cy="267.4" r="2.3"/>
<circle cx="126.7" cy="292.8" r="2.3"/>
<circle cx="148.6" cy="270.4" r="2.3"/>
<circle cx="132.0" cy="282.9" r="2.3"/>
<circle cx="148.4" cy="284.9" r="2.3"/>
<circle cx="169.5" cy="255.2" r="2.3"/>
<circle cx="157.0" cy="272.6" r="2.3"/>
<circle cx="124.5" cy="294.0" r="2.3"/>
<circle cx="151.7" cy="278.1" r="2.3"/>
<circle cx="146.3" cy="287.0" r="2.3"/>
<circle cx="109.7" cy="307.0" r="2.3"/>
<circle cx="122.3" cy="297.1" r="2.3"/>
<circle cx="151.2" cy="271.4" r="2.3"/>
<circle cx="156.9" cy="265.9" r="2.3"/>
<circle cx="142.7" cy="282.0" r="2.3"/>
<circle cx="143.1" cy="279.3" r="2.3"/>
<circle cx="127.4" cy="297.2" r="2.3"/>
<circle cx="125.2" cy="280.7" r="2.3"/>
<circle cx="156.9" cy="273.3" r="2.3"/>
<circle cx="152.1" cy="284.2" r="2.3"/>
<circle cx="133.9" cy="278.9" r="2.3"/>
<circle cx="135.9" cy="280.3" r="2.3"/>
<circle cx="132.9" cy="288.6" r="2.3"/>
<circle cx="150.7" cy="288.4" r="2.3"/>
<circle cx="122.9" cy="289.1" r="2.3"/>
<circle cx="94.3" cy="335.4" r="2.3"/>
<circle cx="124.3" cy="304.1" r="2.3"/>
<circle cx="100.5" cy="317.6" r="2.3"/>
<circle cx="104.0" cy="325.4" r="2.3"/>
<circle cx="114.4" cy="314.9" r="2.3"/>
<circle cx="128.0" cy="295.9" r="2.3"/>
<circle cx="104.9" cy="313.5" r="2.3"/>
<circle cx="136.5" cy="296.1" r="2.3"/>
<circle cx="103.8" cy="325.5" r="2.3"/>
<circle cx="120.9" cy="305.9" r="2.3"/>
<circle cx="125.3" cy="302.5" r="2.3"/>
<circle cx="102.6" cy="318.8" r="2.3"/>
<circle cx="120.4" cy="307.7" r="2.3"/>
<circle cx="101.1" cy="321.8" r="2.3"/>
<circle cx="128.1" cy="300.7" r="2.3"/>
<circle cx="102.9" cy="323.4" r="2.3"/>
<circle cx="85.7" cy="337.5" r="2.3"/>
<circle cx="117.1" cy="312.8" r="2.3"/>
<circle cx="95.9" cy="338.1" r="2.3"/>
<circle cx="131.4" cy="297.8" r="2.3"/>
<circle cx="114.0" cy="319.3" r="2.3"/>
<circle cx="110.0" cy="315.6" r="2.3"/>
<circle cx="129.7" cy="304.9" r="2.3"/>
<circle cx="114.5" cy="308.0" r="2.3"/>
<circle cx="129.1" cy="308.9" r="2.3"/>
<circle cx="87.0" cy="337.8" r="2.3"/>
<circle cx="107.2" cy="329.3" r="2.3"/>
<circle cx="117.0" cy="312.6" r="2.3"/>
<circle cx="113.0" cy="311.2" r="2.3"/>
<circle cx="124.8" cy="301.6" r="2.3"/>
<circle cx="98.1" cy="325.2" r="2.3"/>
<circle cx="110.1" cy="319.1" r="2.3"/>
<circle cx="79.7" cy="350.5" r="2.3"/>
<circle cx="92.8" cy="326.9" r="2.3"/>
<circle cx="128.6" cy="299.7" r="2.3"/>
<circle cx="106.2" cy="314.7" r="2.3"/>
<circle cx="106.2" cy="318.6" r="2.3"/>
<circle cx="105.0" cy="317.0" r="2.3"/>
<circle cx="104.1" cy="321.0" r="2.3"/>
<circle cx="124.7" cy="307.3" r="2.3"/>
<circle cx="117.9" cy="305.5" r="2.3"/>
<circle cx="93.9" cy="328.3" r="2.3"/>
<circle cx="108.1" cy="317.7" r="2.3"/>
<circle cx="97.6" cy="324.7" r="2.3"/>
<circle cx="111.5" cy="312.3" r="2.3"/>
<circle cx="120.9" cy="303.4" r="2.3"/>
<circle cx="104.8" cy="318.4" r="2.3"/>
<circle cx="83.7" cy="344.1" r="2.3"/>
<circle cx="115.6" cy="302.9" r="2.3"/>
<circle cx="115.8" cy="310.2" r="2.3"/>
<circle cx="83.4" cy="339.6" r="2.3"/>
<circle cx="91.9" cy="337.8" r="2.3"/>
<circle cx="102.6" cy="327.1" r="2.3"/>
<circle cx="115.5" cy="304.5" r="2.3"/>
<circle cx="85.5" cy="344.1" r="2.3"/>
<circle cx="105.1" cy="313.1" r="2.3"/>
<circle cx="108.4" cy="317.3" r="2.3"/>
<circle cx="101.8" cy="328.3" r="2.3"/>
<circle cx="102.5" cy="335.5" r="2.3"/>
<circle cx="120.1" cy="307.4" r="2.3"/>
<circle cx="114.8" cy="309.0" r="2.3"/>
<circle cx="114.5" cy="311.9" r="2.3"/>
<circle cx="119.4" cy="311.4" r="2.3"/>
<circle cx="130.7" cy="294.9" r="2.3"/>
<circle cx="97.4" cy="330.6" r="2.3"/>
<circle cx="92.6" cy="337.4" r="2.3"/>
<circle cx="105.5" cy="320.4" r="2.3"/>
<circle cx="111.1" cy="318.3" r="2.3"/>
<circle cx="114.4" cy="324.9" r="2.3"/>
<circle cx="118.1" cy="304.2" r="2.3"/>
<circle cx="86.0" cy="342.8" r="2.3"/>
<circle cx="110.3" cy="314.5" r="2.3"/>
<circle cx="95.1" cy="337.1" r="2.3"/>
<circle cx="128.3" cy="300.0" r="2.3"/>
<circle cx="120.3" cy="308.5" r="2.3"/>
<circle cx="110.3" cy="321.8" r="2.3"/>
<circle cx="87.3" cy="334.9" r="2.3"/>
<circle cx="87.4" cy="328.6" r="2.3"/>
<circle cx="129.4" cy="298.1" r="2.3"/>
<circle cx="119.7" cy="298.1" r="2.3"/>
<circle cx="95.4" cy="329.3" r="2.3"/>
<circle cx="101.4" cy="327.7" r="2.3"/>
<circle cx="131.4" cy="299.6" r="2.3"/>
<circle cx="131.6" cy="303.0" r="2.3"/>
<circle cx="109.2" cy="306.1" r="2.3"/>
<circle cx="111.2" cy="320.9" r="2.3"/>
<circle cx="122.7" cy="299.2" r="2.3"/>
<circle cx="111.8" cy="311.6" r="2.3"/>
<circle cx="114.4" cy="315.8" r="2.3"/>
<circle cx="126.0" cy="307.5" r="2.3"/>
<circle cx="110.6" cy="321.9" r="2.3"/>
<circle cx="115.6" cy="311.0" r="2.3"/>
<circle cx="79.7" cy="351.2" r="2.3"/>
<circle cx="97.1" cy="325.9" r="2.3"/>
<circle cx="107.4" cy="313.3" r="2.3"/>
<circle cx="119.9" cy="300.9" r="2.3"/>
<circle cx="124.4" cy="303.7" r="2.3"/>
<circle cx="101.3" cy="319.2" r="2.3"/>
<circle cx="91.3" cy="335.5" r="2.3"/>
<circle cx="114.0" cy="327.9" r="2.3"/>
<circle cx="123.3" cy="302.7" r="2.3"/>
<circle cx="77.8" cy="348.9" r="2.3"/>
<circle cx="100.6" cy="330.9" r="2.3"/>
<circle cx="110.9" cy="315.1" r="2.3"/>
<circle cx="92.9" cy="337.0" r="2.3"/>
<circle cx="82.8" cy="336.7" r="2.3"/>
<circle cx="96.8" cy="327.4" r="2.3"/>
<circle cx="107.3" cy="321.6" r="2.3"/>
<circle cx="131.4" cy="302.2" r="2.3"/>
<circle cx="80.1" cy="335.6" r="2.3"/>
<circle cx="126.9" cy="298.9" r="2.3"/>
<circle cx="101.7" cy="325.4" r="2.3"/>
<circle cx="99.0" cy="334.6" r="2.3"/>
<circle cx="75.6" cy="349.0" r="2.3"/>
<circle cx="116.4" cy="296.8" r="2.3"/>
<circle cx="93.5" cy="332.9" r="2.3"/>
<circle cx="114.6" cy="311.6" r="2.3"/>
<circle cx="100.6" cy="331.1" r="2.3"/>
<circle cx="105.7" cy="327.4" r="2.3"/>
<circle cx="93.9" cy="333.0" r="2.3"/>
<circle cx="131.9" cy="296.3" r="2.3"/>
<circle cx="117.0" cy="314.8" r="2.3"/>
<circle cx="84.5" cy="343.1" r="2.3"/>
<circle cx="110.6" cy="313.5" r="2.3"/>
<circle cx="105.6" cy="315.6" r="2.3"/>
<circle cx="116.3" cy="308.4" r="2.3"/>
<circle cx="114.5" cy="301.2" r="2.3"/>
<circle cx="104.1" cy="321.2" r="2.3"/>
<circle cx="81.8" cy="345.4" r="2.3"/>
<circle cx="119.7" cy="311.2" r="2.3"/>
<circle cx="129.3" cy="289.8" r="2.3"/>
<circle cx="99.8" cy="343.7" r="2.3"/>
<circle cx="162.5" cy="288.7" r="2.3"/>
<circle cx="102.8" cy="308.3" r="2.3"/>
<circle cx="105.5" cy="309.4" r="2.3"/>
<circle cx="84.0" cy="312.2" r="2.3"/>
<circle cx="111.8" cy="300.0" r="2.3"/>
<circle cx="132.5" cy="292.6" r="2.3"/>
<circle cx="94.3" cy="331.8" r="2.3"/>
<circle cx="118.5" cy="322.7" r="2.3"/>
<circle cx="99.5" cy="347.8" r="2.3"/>
<circle cx="121.7" cy="305.2" r="2.3"/>
<circle cx="100.6" cy="328.3" r="2.3"/>
<circle cx="162.3" cy="286.4" r="2.3"/>
<circle cx="134.5" cy="289.1" r="2.3"/>
<circle cx="79.4" cy="339.9" r="2.3"/>
<circle cx="148.0" cy="274.5" r="2.3"/>
<circle cx="101.2" cy="347.3" r="2.3"/>
<circle cx="127.5" cy="267.5" r="2.3"/>
<circle cx="141.5" cy="273.2" r="2.3"/>
<circle cx="102.7" cy="318.2" r="2.3"/>
<circle cx="81.3" cy="322.4" r="2.3"/>
<circle cx="114.6" cy="320.1" r="2.3"/>
<circle cx="105.7" cy="346.3" r="2.3"/>
<circle cx="117.4" cy="309.9" r="2.3"/>
<circle cx="107.1" cy="314.0" r="2.3"/>
<circle cx="155.8" cy="298.5" r="2.3"/>
<circle cx="112.5" cy="315.9" r="2.3"/>
<circle cx="76.2" cy="333.4" r="2.3"/>
<circle cx="107.6" cy="294.0" r="2.3"/>
<circle cx="116.9" cy="288.2" r="2.3"/>
<circle cx="106.8" cy="331.3" r="2.3"/>
<circle cx="146.2" cy="303.5" r="2.3"/>
<circle cx="155.7" cy="256.2" r="2.3"/>
<circle cx="104.2" cy="326.1" r="2.3"/>
<circle cx="136.9" cy="288.5" r="2.3"/>
<circle cx="157.0" cy="270.2" r="2.3"/>
<circle cx="93.8" cy="349.6" r="2.3"/>
<circle cx="101.5" cy="327.0" r="2.3"/>
<circle cx="92.7" cy="326.7" r="2.3"/>
<circle cx="118.6" cy="297.9" r="2.3"/>
<circle cx="96.9" cy="344.7" r="2.3"/>
<circle cx="107.1" cy="304.1" r="2.3"/>
<circle cx="115.0" cy="319.9" r="2.3"/>
<circle cx="127.2" cy="310.1" r="2.3"/>
<circle cx="91.3" cy="344.5" r="2.3"/>
<circle cx="145.6" cy="292.2" r="2.3"/>
<circle cx="145.7" cy="280.0" r="2.3"/>
<circle cx="85.2" cy="315.8" r="2.3"/>
<circle cx="114.8" cy="337.6" r="2.3"/>
<circle cx="87.9" cy="323.8" r="2.3"/>
<circle cx="105.1" cy="353.8" r="2.3"/>
<circle cx="87.5" cy="326.7" r="2.3"/>
<circle cx="107.6" cy="315.8" r="2.3"/>
<circle cx="97.0" cy="322.1" r="2.3"/>
<circle cx="124.7" cy="331.2" r="2.3"/>
<circle cx="133.4" cy="312.9" r="2.3"/>
<circle cx="108.7" cy="292.7" r="2.3"/>
<circle cx="163.2" cy="289.7" r="2.3"/>
<circle cx="103.0" cy="335.4" r="2.3"/>
<circle cx="117.1" cy="285.2" r="2.3"/>
<circle cx="152.2" cy="288.3" r="2.3"/>
<circle cx="102.1" cy="305.1" r="2.3"/>
<circle cx="119.0" cy="314.3" r="2.3"/>
<circle cx="141.8" cy="281.5" r="2.3"/>
<circle cx="129.1" cy="297.1" r="2.3"/>
<circle cx="125.9" cy="282.7" r="2.3"/>
<circle cx="93.1" cy="350.9" r="2.3"/>
<circle cx="80.4" cy="327.9" r="2.3"/>
<circle cx="162.4" cy="293.7" r="2.3"/>
<circle cx="83.4" cy="334.3" r="2.3"/>
<circle cx="155.2" cy="279.1" r="2.3"/>
<circle cx="117.9" cy="329.1" r="2.3"/>
<circle cx="161.8" cy="299.2" r="2.3"/>
<circle cx="118.9" cy="312.5" r="2.3"/>
<circle cx="84.6" cy="347.0" r="2.3"/>
<circle cx="89.5" cy="310.8" r="2.3"/>
<circle cx="88.4" cy="320.2" r="2.3"/>
<circle cx="77.5" cy="351.5" r="2.3"/>
<circle cx="108.8" cy="329.0" r="2.3"/>
<circle cx="84.3" cy="320.9" r="2.3"/>
<circle cx="120.0" cy="284.9" r="2.3"/>
<circle cx="92.2" cy="297.2" r="2.3"/>
<circle cx="104.8" cy="302.9" r="2.3"/>
<circle cx="96.7" cy="323.0" r="2.3"/>
<circle cx="89.2" cy="345.9" r="2.3"/>
<circle cx="95.7" cy="326.8" r="2.3"/>
<circle cx="133.8" cy="301.4" r="2.3"/>
<circle cx="131.0" cy="287.9" r="2.3"/>
<circle cx="131.7" cy="323.8" r="2.3"/>
<circle cx="168.6" cy="268.7" r="2.3"/>
<circle cx="117.0" cy="313.3" r="2.3"/>
<circle cx="95.6" cy="327.0" r="2.3"/>
<circle cx="139.1" cy="307.1" r="2.3"/>
<circle cx="134.0" cy="285.5" r="2.3"/>
<circle cx="111.4" cy="317.8" r="2.3"/>
<circle cx="129.8" cy="300.8" r="2.3"/>
<circle cx="80.8" cy="329.9" r="2.3"/>
<circle cx="143.2" cy="271.3" r="2.3"/>
<circle cx="124.3" cy="317.2" r="2.3"/>
<circle cx="140.0" cy="296.4" r="2.3"/>
<circle cx="120.5" cy="356.4" r="2.3"/>
<circle cx="76.4" cy="356.4" r="2.3"/>
<circle cx="82.6" cy="356.4" r="2.3"/>
<circle cx="100.2" cy="356.4" r="2.3"/>
<circle cx="94.4" cy="356.4" r="2.3"/>
<circle cx="95.1" cy="356.4" r="2.3"/>
<circle cx="97.2" cy="356.4" r="2.3"/>
<circle cx="101.6" cy="356.4" r="2.3"/>
<circle cx="80.9" cy="356.4" r="2.3"/>
<circle cx="82.3" cy="356.4" r="2.3"/>
<circle cx="84.6" cy="356.4" r="2.3"/>
<circle cx="91.7" cy="356.4" r="2.3"/>
<circle cx="94.5" cy="356.4" r="2.3"/>
<circle cx="116.3" cy="356.4" r="2.3"/>
<circle cx="84.6" cy="356.4" r="2.3"/>
<circle cx="87.5" cy="356.4" r="2.3"/>
<circle cx="113.1" cy="356.4" r="2.3"/>
<circle cx="124.1" cy="356.4" r="2.3"/>
<circle cx="77.4" cy="356.4" r="2.3"/>
<circle cx="105.5" cy="356.4" r="2.3"/>
<circle cx="77.6" cy="356.4" r="2.3"/>
<circle cx="106.3" cy="356.4" r="2.3"/>
<circle cx="70.7" cy="353.7" r="2.3"/>
<circle cx="70.7" cy="320.9" r="2.3"/>
<circle cx="70.7" cy="316.4" r="2.3"/>
<circle cx="70.7" cy="307.4" r="2.3"/>
<circle cx="70.7" cy="292.1" r="2.3"/>
<circle cx="70.7" cy="300.7" r="2.3"/>
<circle cx="70.7" cy="316.9" r="2.3"/>
<circle cx="70.7" cy="321.5" r="2.3"/>
<circle cx="72.0" cy="356.3" r="2.3"/>
<circle cx="71.4" cy="355.2" r="2.3"/>
<circle cx="72.3" cy="355.9" r="2.3"/>
<circle cx="71.2" cy="357.4" r="2.3"/>
<circle cx="70.6" cy="356.0" r="2.3"/>
<circle cx="70.7" cy="357.4" r="2.3"/>
<circle cx="190.6" cy="242.8" r="2.3"/>
</g>
<g transform="translate(143.19,281.39) rotate(-32)"><ellipse cx="-22" cy="1" rx="21.8" ry="7.2" fill="#505050" fill-opacity="0.35" filter="url(#bl2)"/><ellipse cx="-10" cy="0.5" rx="13.1" ry="6.8" fill="#4a4a4a" fill-opacity="0.7" filter="url(#bl)"/><ellipse rx="14.5" ry="8.5" fill="#474747" filter="url(#bl)"/></g>
<circle cx="70.7" cy="356.4" r="2.3" fill="#333"/>
<g fill="#d43aab" fill-opacity="0.9">
<circle cx="151.9" cy="291.6" r="2.2"/>
<circle cx="153.2" cy="299.2" r="2.2"/>
<circle cx="141.6" cy="298.9" r="2.2"/>
<circle cx="140.8" cy="300.2" r="2.2"/>
<circle cx="138.3" cy="302.7" r="2.2"/>
<circle cx="147.0" cy="304.3" r="2.2"/>
<circle cx="134.5" cy="306.1" r="2.2"/>
<circle cx="135.8" cy="307.2" r="2.2"/>
<circle cx="136.9" cy="310.6" r="2.2"/>
<circle cx="150.2" cy="309.7" r="2.2"/>
<circle cx="131.6" cy="314.3" r="2.2"/>
<circle cx="122.3" cy="317.0" r="2.2"/>
<circle cx="124.2" cy="316.8" r="2.2"/>
<circle cx="127.8" cy="319.3" r="2.2"/>
<circle cx="126.1" cy="321.2" r="2.2"/>
<circle cx="114.3" cy="324.8" r="2.2"/>
<circle cx="116.5" cy="325.5" r="2.2"/>
<circle cx="149.4" cy="326.5" r="2.2"/>
<circle cx="135.3" cy="329.3" r="2.2"/>
<circle cx="139.9" cy="339.8" r="2.2"/>
<circle cx="146.1" cy="356.4" r="2.2"/>
</g>
<circle cx="135.10" cy="299.90" r="1.80" fill="none" stroke="#1a1a1a" stroke-width="0.8" />
<circle cx="137.00" cy="297.50" r="1.80" fill="none" stroke="#1a1a1a" stroke-width="0.8" />
<rect x="64.90" y="210.40" width="151.30" height="151.30" fill="none" stroke="#6b6b6b" stroke-width="1.0" />
<line x1="70.70" y1="361.70" x2="70.70" y2="357.70" stroke="#6b6b6b" stroke-width="1.0" />
<line x1="64.90" y1="356.40" x2="68.90" y2="356.40" stroke="#6b6b6b" stroke-width="1.0" />
<line x1="105.55" y1="361.70" x2="105.55" y2="357.70" stroke="#6b6b6b" stroke-width="1.0" />
<line x1="64.90" y1="321.35" x2="68.90" y2="321.35" stroke="#6b6b6b" stroke-width="1.0" />
<line x1="140.40" y1="361.70" x2="140.40" y2="357.70" stroke="#6b6b6b" stroke-width="1.0" />
<line x1="64.90" y1="286.30" x2="68.90" y2="286.30" stroke="#6b6b6b" stroke-width="1.0" />
<line x1="175.25" y1="361.70" x2="175.25" y2="357.70" stroke="#6b6b6b" stroke-width="1.0" />
<line x1="64.90" y1="251.25" x2="68.90" y2="251.25" stroke="#6b6b6b" stroke-width="1.0" />
<line x1="210.10" y1="361.70" x2="210.10" y2="357.70" stroke="#6b6b6b" stroke-width="1.0" />
<line x1="64.90" y1="216.20" x2="68.90" y2="216.20" stroke="#6b6b6b" stroke-width="1.0" />
<text x="67.25" y="376.00" font-size="12.4" fill="#1a1a1a">0</text>
<text x="55.51" y="360.60" font-size="12.4" fill="#1a1a1a">0</text>
<text x="96.93" y="376.00" font-size="12.4" fill="#1a1a1a">0.5</text>
<text x="45.16" y="325.55" font-size="12.4" fill="#1a1a1a">0.5</text>
<text x="131.78" y="376.00" font-size="12.4" fill="#1a1a1a">1.0</text>
<text x="45.16" y="290.50" font-size="12.4" fill="#1a1a1a">1.0</text>
<text x="166.63" y="376.00" font-size="12.4" fill="#1a1a1a">1.5</text>
<text x="45.16" y="255.45" font-size="12.4" fill="#1a1a1a">1.5</text>
<text x="201.48" y="376.00" font-size="12.4" fill="#1a1a1a">2.0</text>
<text x="45.16" y="220.40" font-size="12.4" fill="#1a1a1a">2.0</text>
<text x="86.31" y="391.50" font-size="13.3" fill="#1a1a1a">normalized fitness</text>
<text x="115.00" y="407.50" font-size="13.3" font-style="italic" fill="#1a1a1a">wt x orf<tspan font-style="normal" font-weight="normal" font-size="10.64">Δ</tspan></text>
<text x="-53.59" y="0.00" font-size="13.3" fill="#1a1a1a" transform="translate(22.90,286.05) rotate(-90)">normalized fitness</text>
<text x="-55.83" y="0.00" font-size="13.3" font-style="italic" fill="#1a1a1a" transform="translate(38.90,286.05) rotate(-90)">G1-RNH202 x orf<tspan font-style="normal" font-weight="normal" font-size="10.64">Δ</tspan></text>
<text x="158.79" y="228.00" font-size="14.0" font-weight="bold" fill="#d43aab">21/4790</text>
<text x="96.60" y="259.30" font-size="13.0" font-style="italic" fill="#1a1a1a" textLength="46.20" lengthAdjust="spacingAndGlyphs">mms22<tspan font-style="normal" font-weight="normal" font-size="10.40">Δ</tspan></text>
<line x1="123.30" y1="262.50" x2="135.60" y2="298.90" stroke="#1a1a1a" stroke-width="0.9" />
<text x="72.90" y="279.90" font-size="13.0" font-style="italic" fill="#1a1a1a" textLength="39.50" lengthAdjust="spacingAndGlyphs">mms1<tspan font-style="normal" font-weight="normal" font-size="10.40">Δ</tspan></text>
<line x1="115.20" y1="282.10" x2="133.70" y2="301.30" stroke="#1a1a1a" stroke-width="0.9" />
<text x="171.20" y="269.50" font-size="13.0" font-style="italic" fill="#1a1a1a" textLength="37.50" lengthAdjust="spacingAndGlyphs">rtt101<tspan font-style="normal" font-weight="normal" font-size="10.40">Δ</tspan></text>
<line x1="168.30" y1="272.70" x2="137.00" y2="297.00" stroke="#1a1a1a" stroke-width="0.9" />
<text x="233.90" y="202.40" font-size="16.5" font-weight="bold" textLength="10.40" lengthAdjust="spacingAndGlyphs">C</text>
<g fill="#404040" fill-opacity="0.1">
<circle cx="387.6" cy="276.4" r="2.3"/>
<circle cx="373.3" cy="283.9" r="2.3"/>
<circle cx="381.1" cy="287.3" r="2.3"/>
<circle cx="371.5" cy="291.6" r="2.3"/>
<circle cx="367.9" cy="295.5" r="2.3"/>
<circle cx="369.4" cy="290.4" r="2.3"/>
<circle cx="364.6" cy="289.9" r="2.3"/>
<circle cx="378.9" cy="301.5" r="2.3"/>
<circle cx="379.9" cy="281.6" r="2.3"/>
<circle cx="366.1" cy="289.6" r="2.3"/>
<circle cx="372.7" cy="285.1" r="2.3"/>
<circle cx="365.7" cy="290.4" r="2.3"/>
<circle cx="357.5" cy="289.4" r="2.3"/>
<circle cx="364.6" cy="294.2" r="2.3"/>
<circle cx="370.8" cy="285.6" r="2.3"/>
<circle cx="368.4" cy="286.1" r="2.3"/>
<circle cx="350.6" cy="307.0" r="2.3"/>
<circle cx="371.6" cy="290.2" r="2.3"/>
<circle cx="383.5" cy="283.1" r="2.3"/>
<circle cx="377.5" cy="295.8" r="2.3"/>
<circle cx="378.2" cy="292.4" r="2.3"/>
<circle cx="353.8" cy="287.4" r="2.3"/>
<circle cx="375.4" cy="284.0" r="2.3"/>
<circle cx="377.0" cy="292.3" r="2.3"/>
<circle cx="363.4" cy="291.9" r="2.3"/>
<circle cx="357.5" cy="298.3" r="2.3"/>
<circle cx="360.3" cy="296.8" r="2.3"/>
<circle cx="358.4" cy="287.2" r="2.3"/>
<circle cx="379.0" cy="284.2" r="2.3"/>
<circle cx="362.4" cy="301.1" r="2.3"/>
<circle cx="374.2" cy="291.8" r="2.3"/>
<circle cx="369.5" cy="282.4" r="2.3"/>
<circle cx="372.3" cy="289.7" r="2.3"/>
<circle cx="376.9" cy="284.6" r="2.3"/>
<circle cx="377.3" cy="284.3" r="2.3"/>
<circle cx="381.8" cy="280.0" r="2.3"/>
<circle cx="364.4" cy="293.2" r="2.3"/>
<circle cx="370.5" cy="294.8" r="2.3"/>
<circle cx="367.8" cy="285.6" r="2.3"/>
<circle cx="358.2" cy="299.8" r="2.3"/>
<circle cx="370.7" cy="289.1" r="2.3"/>
<circle cx="380.4" cy="288.3" r="2.3"/>
<circle cx="375.9" cy="285.0" r="2.3"/>
<circle cx="372.6" cy="287.9" r="2.3"/>
<circle cx="370.9" cy="291.5" r="2.3"/>
<circle cx="366.5" cy="277.4" r="2.3"/>
<circle cx="374.6" cy="278.6" r="2.3"/>
<circle cx="376.2" cy="286.3" r="2.3"/>
<circle cx="367.8" cy="276.3" r="2.3"/>
<circle cx="360.6" cy="291.4" r="2.3"/>
<circle cx="376.4" cy="280.8" r="2.3"/>
<circle cx="371.2" cy="277.8" r="2.3"/>
<circle cx="380.2" cy="270.3" r="2.3"/>
<circle cx="380.1" cy="277.0" r="2.3"/>
<circle cx="375.7" cy="282.1" r="2.3"/>
<circle cx="374.6" cy="287.4" r="2.3"/>
<circle cx="370.4" cy="277.9" r="2.3"/>
<circle cx="369.5" cy="287.0" r="2.3"/>
<circle cx="375.0" cy="283.6" r="2.3"/>
<circle cx="376.1" cy="280.9" r="2.3"/>
<circle cx="367.8" cy="297.3" r="2.3"/>
<circle cx="373.6" cy="280.6" r="2.3"/>
<circle cx="377.1" cy="280.0" r="2.3"/>
<circle cx="377.9" cy="291.8" r="2.3"/>
<circle cx="382.9" cy="282.8" r="2.3"/>
<circle cx="381.5" cy="285.5" r="2.3"/>
<circle cx="366.9" cy="289.9" r="2.3"/>
<circle cx="371.2" cy="291.8" r="2.3"/>
<circle cx="374.5" cy="279.4" r="2.3"/>
<circle cx="374.9" cy="286.0" r="2.3"/>
<circle cx="368.0" cy="293.1" r="2.3"/>
<circle cx="368.3" cy="289.7" r="2.3"/>
<circle cx="376.6" cy="283.2" r="2.3"/>
<circle cx="368.7" cy="293.4" r="2.3"/>
<circle cx="378.5" cy="279.2" r="2.3"/>
<circle cx="371.9" cy="284.4" r="2.3"/>
<circle cx="374.5" cy="283.0" r="2.3"/>
<circle cx="375.7" cy="277.2" r="2.3"/>
<circle cx="354.9" cy="302.5" r="2.3"/>
<circle cx="393.4" cy="275.5" r="2.3"/>
<circle cx="368.6" cy="281.9" r="2.3"/>
<circle cx="366.9" cy="281.6" r="2.3"/>
<circle cx="368.1" cy="298.2" r="2.3"/>
<circle cx="372.8" cy="290.4" r="2.3"/>
<circle cx="363.1" cy="290.3" r="2.3"/>
<circle cx="373.0" cy="285.1" r="2.3"/>
<circle cx="368.1" cy="287.8" r="2.3"/>
<circle cx="373.2" cy="290.0" r="2.3"/>
<circle cx="373.3" cy="282.4" r="2.3"/>
<circle cx="369.6" cy="283.5" r="2.3"/>
<circle cx="365.3" cy="293.1" r="2.3"/>
<circle cx="363.9" cy="284.4" r="2.3"/>
<circle cx="367.4" cy="275.9" r="2.3"/>
<circle cx="382.1" cy="279.5" r="2.3"/>
<circle cx="363.3" cy="290.6" r="2.3"/>
<circle cx="370.3" cy="288.7" r="2.3"/>
<circle cx="363.1" cy="290.0" r="2.3"/>
<circle cx="371.2" cy="284.0" r="2.3"/>
<circle cx="376.3" cy="288.3" r="2.3"/>
<circle cx="359.0" cy="299.7" r="2.3"/>
<circle cx="369.5" cy="292.0" r="2.3"/>
<circle cx="377.5" cy="281.7" r="2.3"/>
<circle cx="379.8" cy="277.7" r="2.3"/>
<circle cx="373.9" cy="280.9" r="2.3"/>
<circle cx="380.5" cy="286.9" r="2.3"/>
<circle cx="377.6" cy="280.3" r="2.3"/>
<circle cx="363.6" cy="289.5" r="2.3"/>
<circle cx="369.2" cy="279.9" r="2.3"/>
<circle cx="374.6" cy="281.2" r="2.3"/>
<circle cx="356.1" cy="289.1" r="2.3"/>
<circle cx="377.7" cy="275.6" r="2.3"/>
<circle cx="370.1" cy="279.5" r="2.3"/>
<circle cx="363.9" cy="288.6" r="2.3"/>
<circle cx="375.0" cy="290.2" r="2.3"/>
<circle cx="372.5" cy="283.2" r="2.3"/>
<circle cx="378.4" cy="273.8" r="2.3"/>
<circle cx="368.5" cy="302.6" r="2.3"/>
<circle cx="371.7" cy="287.8" r="2.3"/>
<circle cx="370.8" cy="297.1" r="2.3"/>
<circle cx="374.2" cy="291.9" r="2.3"/>
<circle cx="364.4" cy="287.0" r="2.3"/>
<circle cx="375.4" cy="288.1" r="2.3"/>
<circle cx="365.4" cy="293.3" r="2.3"/>
<circle cx="383.5" cy="279.1" r="2.3"/>
<circle cx="384.4" cy="280.2" r="2.3"/>
<circle cx="367.9" cy="285.1" r="2.3"/>
<circle cx="366.7" cy="290.5" r="2.3"/>
<circle cx="361.2" cy="291.4" r="2.3"/>
<circle cx="380.5" cy="282.7" r="2.3"/>
<circle cx="373.9" cy="287.1" r="2.3"/>
<circle cx="349.4" cy="287.9" r="2.3"/>
<circle cx="372.4" cy="280.1" r="2.3"/>
<circle cx="373.2" cy="283.8" r="2.3"/>
<circle cx="391.7" cy="280.6" r="2.3"/>
<circle cx="371.0" cy="289.8" r="2.3"/>
<circle cx="367.9" cy="285.1" r="2.3"/>
<circle cx="371.6" cy="295.4" r="2.3"/>
<circle cx="363.2" cy="290.9" r="2.3"/>
<circle cx="374.4" cy="278.4" r="2.3"/>
<circle cx="382.7" cy="279.9" r="2.3"/>
<circle cx="375.1" cy="278.6" r="2.3"/>
<circle cx="373.0" cy="290.3" r="2.3"/>
<circle cx="379.0" cy="284.4" r="2.3"/>
<circle cx="373.0" cy="291.8" r="2.3"/>
<circle cx="382.0" cy="277.3" r="2.3"/>
<circle cx="369.3" cy="290.2" r="2.3"/>
<circle cx="369.8" cy="287.5" r="2.3"/>
<circle cx="365.2" cy="300.1" r="2.3"/>
<circle cx="370.8" cy="279.8" r="2.3"/>
<circle cx="365.1" cy="291.6" r="2.3"/>
<circle cx="375.7" cy="298.2" r="2.3"/>
<circle cx="373.2" cy="292.3" r="2.3"/>
<circle cx="377.4" cy="282.7" r="2.3"/>
<circle cx="376.1" cy="292.3" r="2.3"/>
<circle cx="378.9" cy="293.1" r="2.3"/>
<circle cx="368.1" cy="280.2" r="2.3"/>
<circle cx="361.4" cy="289.9" r="2.3"/>
<circle cx="380.5" cy="279.7" r="2.3"/>
<circle cx="377.8" cy="280.2" r="2.3"/>
<circle cx="375.3" cy="296.8" r="2.3"/>
<circle cx="370.0" cy="298.0" r="2.3"/>
<circle cx="384.8" cy="272.7" r="2.3"/>
<circle cx="375.0" cy="292.6" r="2.3"/>
<circle cx="385.6" cy="281.6" r="2.3"/>
<circle cx="376.7" cy="274.5" r="2.3"/>
<circle cx="374.1" cy="288.7" r="2.3"/>
<circle cx="375.6" cy="291.8" r="2.3"/>
<circle cx="369.7" cy="276.7" r="2.3"/>
<circle cx="373.2" cy="277.8" r="2.3"/>
<circle cx="366.3" cy="289.2" r="2.3"/>
<circle cx="366.9" cy="293.8" r="2.3"/>
<circle cx="367.4" cy="273.2" r="2.3"/>
<circle cx="371.8" cy="286.0" r="2.3"/>
<circle cx="359.6" cy="296.1" r="2.3"/>
<circle cx="370.7" cy="296.7" r="2.3"/>
<circle cx="362.1" cy="294.1" r="2.3"/>
<circle cx="366.8" cy="286.2" r="2.3"/>
<circle cx="370.1" cy="287.8" r="2.3"/>
<circle cx="377.5" cy="275.6" r="2.3"/>
<circle cx="371.1" cy="276.9" r="2.3"/>
<circle cx="376.1" cy="289.1" r="2.3"/>
<circle cx="372.0" cy="296.7" r="2.3"/>
<circle cx="374.9" cy="286.2" r="2.3"/>
<circle cx="371.7" cy="280.7" r="2.3"/>
<circle cx="366.0" cy="290.3" r="2.3"/>
<circle cx="378.8" cy="279.4" r="2.3"/>
<circle cx="377.7" cy="282.2" r="2.3"/>
<circle cx="366.6" cy="292.6" r="2.3"/>
<circle cx="357.8" cy="294.1" r="2.3"/>
<circle cx="363.8" cy="284.3" r="2.3"/>
<circle cx="363.7" cy="292.8" r="2.3"/>
<circle cx="374.2" cy="285.5" r="2.3"/>
<circle cx="376.3" cy="287.3" r="2.3"/>
<circle cx="369.8" cy="297.7" r="2.3"/>
<circle cx="370.8" cy="292.7" r="2.3"/>
<circle cx="374.1" cy="286.7" r="2.3"/>
<circle cx="370.0" cy="292.9" r="2.3"/>
<circle cx="361.3" cy="298.3" r="2.3"/>
<circle cx="378.5" cy="289.3" r="2.3"/>
<circle cx="367.6" cy="285.4" r="2.3"/>
<circle cx="366.6" cy="289.6" r="2.3"/>
<circle cx="360.6" cy="279.6" r="2.3"/>
<circle cx="375.8" cy="274.5" r="2.3"/>
<circle cx="365.1" cy="287.8" r="2.3"/>
<circle cx="369.2" cy="286.1" r="2.3"/>
<circle cx="367.5" cy="289.1" r="2.3"/>
<circle cx="365.8" cy="289.6" r="2.3"/>
<circle cx="386.7" cy="282.2" r="2.3"/>
<circle cx="361.8" cy="291.8" r="2.3"/>
<circle cx="377.5" cy="283.6" r="2.3"/>
<circle cx="373.6" cy="281.7" r="2.3"/>
<circle cx="370.1" cy="278.3" r="2.3"/>
<circle cx="365.3" cy="287.6" r="2.3"/>
<circle cx="375.0" cy="288.1" r="2.3"/>
<circle cx="378.9" cy="288.8" r="2.3"/>
<circle cx="358.8" cy="290.6" r="2.3"/>
<circle cx="359.0" cy="286.2" r="2.3"/>
<circle cx="379.5" cy="282.8" r="2.3"/>
<circle cx="373.7" cy="299.9" r="2.3"/>
<circle cx="376.6" cy="293.2" r="2.3"/>
<circle cx="386.7" cy="284.4" r="2.3"/>
<circle cx="381.2" cy="296.6" r="2.3"/>
<circle cx="364.8" cy="283.4" r="2.3"/>
<circle cx="371.6" cy="292.2" r="2.3"/>
<circle cx="367.3" cy="287.8" r="2.3"/>
<circle cx="377.7" cy="282.6" r="2.3"/>
<circle cx="357.9" cy="296.7" r="2.3"/>
<circle cx="369.5" cy="272.4" r="2.3"/>
<circle cx="371.9" cy="285.0" r="2.3"/>
<circle cx="365.6" cy="286.7" r="2.3"/>
<circle cx="385.6" cy="280.7" r="2.3"/>
<circle cx="375.5" cy="290.1" r="2.3"/>
<circle cx="367.9" cy="291.1" r="2.3"/>
<circle cx="377.3" cy="287.1" r="2.3"/>
<circle cx="365.0" cy="283.0" r="2.3"/>
<circle cx="372.1" cy="281.1" r="2.3"/>
<circle cx="374.5" cy="285.1" r="2.3"/>
<circle cx="372.2" cy="282.3" r="2.3"/>
<circle cx="367.9" cy="282.7" r="2.3"/>
<circle cx="368.4" cy="283.1" r="2.3"/>
<circle cx="369.1" cy="283.7" r="2.3"/>
<circle cx="369.3" cy="292.5" r="2.3"/>
<circle cx="360.2" cy="288.4" r="2.3"/>
<circle cx="373.8" cy="283.0" r="2.3"/>
<circle cx="378.1" cy="286.4" r="2.3"/>
<circle cx="373.8" cy="288.0" r="2.3"/>
<circle cx="361.0" cy="297.9" r="2.3"/>
<circle cx="361.2" cy="285.9" r="2.3"/>
<circle cx="369.0" cy="293.1" r="2.3"/>
<circle cx="377.5" cy="281.2" r="2.3"/>
<circle cx="362.5" cy="293.1" r="2.3"/>
<circle cx="361.0" cy="284.2" r="2.3"/>
<circle cx="367.5" cy="295.3" r="2.3"/>
<circle cx="357.0" cy="304.3" r="2.3"/>
<circle cx="383.3" cy="276.7" r="2.3"/>
<circle cx="364.6" cy="290.8" r="2.3"/>
<circle cx="369.8" cy="288.4" r="2.3"/>
<circle cx="379.7" cy="265.1" r="2.3"/>
<circle cx="375.5" cy="271.4" r="2.3"/>
<circle cx="372.5" cy="299.2" r="2.3"/>
<circle cx="374.6" cy="281.0" r="2.3"/>
<circle cx="372.1" cy="286.8" r="2.3"/>
<circle cx="373.9" cy="280.5" r="2.3"/>
<circle cx="371.3" cy="283.3" r="2.3"/>
<circle cx="371.5" cy="289.1" r="2.3"/>
<circle cx="380.8" cy="279.8" r="2.3"/>
<circle cx="381.4" cy="273.1" r="2.3"/>
<circle cx="368.0" cy="281.9" r="2.3"/>
<circle cx="369.1" cy="290.0" r="2.3"/>
<circle cx="369.4" cy="288.5" r="2.3"/>
<circle cx="368.5" cy="274.8" r="2.3"/>
<circle cx="378.3" cy="287.8" r="2.3"/>
<circle cx="372.6" cy="298.1" r="2.3"/>
<circle cx="372.9" cy="279.2" r="2.3"/>
<circle cx="372.2" cy="283.4" r="2.3"/>
<circle cx="373.2" cy="282.0" r="2.3"/>
<circle cx="374.6" cy="282.1" r="2.3"/>
<circle cx="362.2" cy="288.4" r="2.3"/>
<circle cx="385.2" cy="285.5" r="2.3"/>
<circle cx="373.9" cy="292.2" r="2.3"/>
<circle cx="375.5" cy="284.9" r="2.3"/>
<circle cx="376.3" cy="274.4" r="2.3"/>
<circle cx="370.3" cy="291.0" r="2.3"/>
<circle cx="365.9" cy="287.6" r="2.3"/>
<circle cx="364.3" cy="290.1" r="2.3"/>
<circle cx="359.3" cy="290.3" r="2.3"/>
<circle cx="378.3" cy="288.4" r="2.3"/>
<circle cx="366.2" cy="290.4" r="2.3"/>
<circle cx="383.0" cy="296.0" r="2.3"/>
<circle cx="367.5" cy="279.7" r="2.3"/>
<circle cx="373.4" cy="294.3" r="2.3"/>
<circle cx="378.1" cy="278.9" r="2.3"/>
<circle cx="370.5" cy="283.1" r="2.3"/>
<circle cx="366.3" cy="296.0" r="2.3"/>
<circle cx="368.5" cy="297.2" r="2.3"/>
<circle cx="373.1" cy="292.4" r="2.3"/>
<circle cx="379.5" cy="275.8" r="2.3"/>
<circle cx="382.2" cy="288.4" r="2.3"/>
<circle cx="370.6" cy="288.4" r="2.3"/>
<circle cx="370.9" cy="284.0" r="2.3"/>
<circle cx="369.7" cy="294.5" r="2.3"/>
<circle cx="369.5" cy="272.7" r="2.3"/>
<circle cx="385.1" cy="276.2" r="2.3"/>
<circle cx="366.0" cy="290.2" r="2.3"/>
<circle cx="368.2" cy="277.2" r="2.3"/>
<circle cx="372.6" cy="290.8" r="2.3"/>
<circle cx="380.3" cy="283.6" r="2.3"/>
<circle cx="364.4" cy="289.3" r="2.3"/>
<circle cx="373.9" cy="291.7" r="2.3"/>
<circle cx="371.3" cy="289.6" r="2.3"/>
<circle cx="372.6" cy="290.7" r="2.3"/>
<circle cx="376.2" cy="284.8" r="2.3"/>
<circle cx="364.1" cy="285.9" r="2.3"/>
<circle cx="363.2" cy="288.8" r="2.3"/>
<circle cx="376.0" cy="284.5" r="2.3"/>
<circle cx="377.8" cy="291.1" r="2.3"/>
<circle cx="376.5" cy="289.2" r="2.3"/>
<circle cx="365.3" cy="290.3" r="2.3"/>
<circle cx="366.5" cy="290.1" r="2.3"/>
<circle cx="370.4" cy="280.4" r="2.3"/>
<circle cx="370.3" cy="280.4" r="2.3"/>
<circle cx="368.2" cy="292.1" r="2.3"/>
<circle cx="371.3" cy="278.5" r="2.3"/>
<circle cx="376.0" cy="286.2" r="2.3"/>
<circle cx="368.2" cy="296.1" r="2.3"/>
<circle cx="381.6" cy="284.2" r="2.3"/>
<circle cx="367.9" cy="285.5" r="2.3"/>
<circle cx="376.5" cy="286.9" r="2.3"/>
<circle cx="382.9" cy="275.1" r="2.3"/>
<circle cx="370.4" cy="282.0" r="2.3"/>
<circle cx="367.2" cy="285.7" r="2.3"/>
<circle cx="373.6" cy="290.7" r="2.3"/>
<circle cx="364.4" cy="290.4" r="2.3"/>
<circle cx="372.6" cy="286.7" r="2.3"/>
<circle cx="369.5" cy="290.0" r="2.3"/>
<circle cx="372.5" cy="278.1" r="2.3"/>
<circle cx="369.0" cy="287.0" r="2.3"/>
<circle cx="364.1" cy="301.1" r="2.3"/>
<circle cx="370.3" cy="293.9" r="2.3"/>
<circle cx="382.7" cy="290.7" r="2.3"/>
<circle cx="372.1" cy="281.3" r="2.3"/>
<circle cx="386.4" cy="276.4" r="2.3"/>
<circle cx="369.2" cy="278.5" r="2.3"/>
<circle cx="380.3" cy="285.0" r="2.3"/>
<circle cx="373.2" cy="292.9" r="2.3"/>
<circle cx="369.5" cy="283.6" r="2.3"/>
<circle cx="377.7" cy="277.1" r="2.3"/>
<circle cx="373.2" cy="277.7" r="2.3"/>
<circle cx="364.2" cy="288.5" r="2.3"/>
<circle cx="377.9" cy="282.0" r="2.3"/>
<circle cx="365.2" cy="291.2" r="2.3"/>
<circle cx="370.0" cy="283.1" r="2.3"/>
<circle cx="362.0" cy="297.7" r="2.3"/>
<circle cx="379.2" cy="270.7" r="2.3"/>
<circle cx="371.5" cy="288.5" r="2.3"/>
<circle cx="373.1" cy="291.7" r="2.3"/>
<circle cx="368.9" cy="289.2" r="2.3"/>
<circle cx="364.5" cy="293.4" r="2.3"/>
<circle cx="377.4" cy="290.0" r="2.3"/>
<circle cx="374.0" cy="294.9" r="2.3"/>
<circle cx="371.0" cy="285.5" r="2.3"/>
<circle cx="368.1" cy="289.1" r="2.3"/>
<circle cx="372.5" cy="281.0" r="2.3"/>
<circle cx="364.5" cy="295.0" r="2.3"/>
<circle cx="369.2" cy="301.5" r="2.3"/>
<circle cx="375.0" cy="278.2" r="2.3"/>
<circle cx="376.5" cy="276.8" r="2.3"/>
<circle cx="367.7" cy="288.5" r="2.3"/>
<circle cx="363.6" cy="284.4" r="2.3"/>
<circle cx="356.0" cy="297.8" r="2.3"/>
<circle cx="365.7" cy="286.9" r="2.3"/>
<circle cx="380.8" cy="282.4" r="2.3"/>
<circle cx="376.0" cy="275.1" r="2.3"/>
<circle cx="355.8" cy="288.2" r="2.3"/>
<circle cx="369.0" cy="298.1" r="2.3"/>
<circle cx="379.5" cy="284.2" r="2.3"/>
<circle cx="372.9" cy="285.5" r="2.3"/>
<circle cx="360.0" cy="286.1" r="2.3"/>
<circle cx="380.1" cy="278.2" r="2.3"/>
<circle cx="380.9" cy="278.0" r="2.3"/>
<circle cx="374.0" cy="286.3" r="2.3"/>
<circle cx="364.7" cy="295.0" r="2.3"/>
<circle cx="364.4" cy="290.2" r="2.3"/>
<circle cx="374.3" cy="287.9" r="2.3"/>
<circle cx="377.9" cy="278.2" r="2.3"/>
<circle cx="383.7" cy="278.1" r="2.3"/>
<circle cx="371.6" cy="291.4" r="2.3"/>
<circle cx="373.4" cy="285.9" r="2.3"/>
<circle cx="365.8" cy="279.7" r="2.3"/>
<circle cx="378.3" cy="284.6" r="2.3"/>
<circle cx="374.8" cy="285.3" r="2.3"/>
<circle cx="370.4" cy="289.0" r="2.3"/>
<circle cx="369.7" cy="283.8" r="2.3"/>
<circle cx="377.4" cy="280.9" r="2.3"/>
<circle cx="366.6" cy="290.9" r="2.3"/>
<circle cx="371.2" cy="288.6" r="2.3"/>
<circle cx="364.7" cy="293.6" r="2.3"/>
<circle cx="356.4" cy="291.6" r="2.3"/>
<circle cx="373.3" cy="279.7" r="2.3"/>
<circle cx="365.1" cy="290.7" r="2.3"/>
<circle cx="379.8" cy="280.4" r="2.3"/>
<circle cx="365.5" cy="292.7" r="2.3"/>
<circle cx="354.8" cy="295.3" r="2.3"/>
<circle cx="378.7" cy="289.3" r="2.3"/>
<circle cx="371.8" cy="278.5" r="2.3"/>
<circle cx="373.1" cy="280.6" r="2.3"/>
<circle cx="379.9" cy="277.4" r="2.3"/>
<circle cx="380.5" cy="279.7" r="2.3"/>
<circle cx="368.4" cy="291.5" r="2.3"/>
<circle cx="363.9" cy="290.7" r="2.3"/>
<circle cx="366.0" cy="289.0" r="2.3"/>
<circle cx="367.9" cy="278.7" r="2.3"/>
<circle cx="383.9" cy="279.0" r="2.3"/>
<circle cx="371.0" cy="288.1" r="2.3"/>
<circle cx="361.7" cy="283.1" r="2.3"/>
<circle cx="379.6" cy="280.7" r="2.3"/>
<circle cx="365.4" cy="296.4" r="2.3"/>
<circle cx="366.3" cy="280.5" r="2.3"/>
<circle cx="358.9" cy="288.0" r="2.3"/>
<circle cx="361.7" cy="293.0" r="2.3"/>
<circle cx="356.4" cy="305.9" r="2.3"/>
<circle cx="335.5" cy="315.1" r="2.3"/>
<circle cx="374.6" cy="294.8" r="2.3"/>
<circle cx="342.3" cy="315.7" r="2.3"/>
<circle cx="376.1" cy="297.8" r="2.3"/>
<circle cx="375.4" cy="284.2" r="2.3"/>
<circle cx="358.7" cy="307.7" r="2.3"/>
<circle cx="333.9" cy="315.4" r="2.3"/>
<circle cx="382.0" cy="278.6" r="2.3"/>
<circle cx="358.8" cy="311.1" r="2.3"/>
<circle cx="369.5" cy="298.2" r="2.3"/>
<circle cx="376.8" cy="290.9" r="2.3"/>
<circle cx="373.6" cy="272.0" r="2.3"/>
<circle cx="365.5" cy="301.3" r="2.3"/>
<circle cx="331.3" cy="325.4" r="2.3"/>
<circle cx="378.3" cy="290.2" r="2.3"/>
<circle cx="386.2" cy="279.7" r="2.3"/>
<circle cx="349.4" cy="299.4" r="2.3"/>
<circle cx="385.3" cy="295.5" r="2.3"/>
<circle cx="366.7" cy="305.2" r="2.3"/>
<circle cx="364.9" cy="291.3" r="2.3"/>
<circle cx="362.0" cy="294.3" r="2.3"/>
<circle cx="381.6" cy="280.4" r="2.3"/>
<circle cx="357.9" cy="310.5" r="2.3"/>
<circle cx="369.9" cy="269.9" r="2.3"/>
<circle cx="364.4" cy="289.6" r="2.3"/>
<circle cx="361.5" cy="302.7" r="2.3"/>
<circle cx="383.4" cy="280.7" r="2.3"/>
<circle cx="370.1" cy="286.8" r="2.3"/>
<circle cx="381.8" cy="274.2" r="2.3"/>
<circle cx="369.4" cy="292.0" r="2.3"/>
<circle cx="356.5" cy="290.5" r="2.3"/>
<circle cx="403.8" cy="272.3" r="2.3"/>
<circle cx="386.7" cy="282.7" r="2.3"/>
<circle cx="362.5" cy="298.8" r="2.3"/>
<circle cx="365.0" cy="297.1" r="2.3"/>
<circle cx="351.5" cy="287.0" r="2.3"/>
<circle cx="353.9" cy="310.9" r="2.3"/>
<circle cx="357.8" cy="298.0" r="2.3"/>
<circle cx="352.5" cy="305.4" r="2.3"/>
<circle cx="359.7" cy="277.4" r="2.3"/>
<circle cx="376.9" cy="282.1" r="2.3"/>
<circle cx="360.1" cy="278.1" r="2.3"/>
<circle cx="370.8" cy="294.8" r="2.3"/>
<circle cx="362.8" cy="299.2" r="2.3"/>
<circle cx="384.9" cy="284.4" r="2.3"/>
<circle cx="361.5" cy="296.8" r="2.3"/>
<circle cx="353.5" cy="297.3" r="2.3"/>
<circle cx="361.0" cy="291.6" r="2.3"/>
<circle cx="367.1" cy="275.2" r="2.3"/>
<circle cx="394.9" cy="273.3" r="2.3"/>
<circle cx="358.3" cy="312.0" r="2.3"/>
<circle cx="371.7" cy="280.9" r="2.3"/>
<circle cx="368.8" cy="289.8" r="2.3"/>
<circle cx="382.8" cy="266.2" r="2.3"/>
<circle cx="368.1" cy="283.5" r="2.3"/>
<circle cx="343.6" cy="301.3" r="2.3"/>
<circle cx="393.6" cy="263.7" r="2.3"/>
<circle cx="356.6" cy="287.9" r="2.3"/>
<circle cx="361.9" cy="295.0" r="2.3"/>
<circle cx="377.1" cy="282.9" r="2.3"/>
<circle cx="387.7" cy="291.6" r="2.3"/>
<circle cx="334.3" cy="315.0" r="2.3"/>
<circle cx="374.1" cy="281.8" r="2.3"/>
<circle cx="363.5" cy="293.9" r="2.3"/>
<circle cx="380.2" cy="290.4" r="2.3"/>
<circle cx="376.0" cy="290.7" r="2.3"/>
<circle cx="392.7" cy="262.1" r="2.3"/>
<circle cx="366.7" cy="280.5" r="2.3"/>
<circle cx="375.4" cy="272.7" r="2.3"/>
<circle cx="359.8" cy="296.4" r="2.3"/>
<circle cx="378.5" cy="277.4" r="2.3"/>
<circle cx="373.2" cy="291.0" r="2.3"/>
<circle cx="363.7" cy="279.4" r="2.3"/>
<circle cx="360.9" cy="311.4" r="2.3"/>
<circle cx="361.9" cy="312.4" r="2.3"/>
<circle cx="374.6" cy="263.6" r="2.3"/>
<circle cx="374.4" cy="282.8" r="2.3"/>
<circle cx="380.3" cy="266.8" r="2.3"/>
<circle cx="340.8" cy="317.2" r="2.3"/>
<circle cx="401.3" cy="261.9" r="2.3"/>
<circle cx="363.1" cy="301.3" r="2.3"/>
<circle cx="390.6" cy="272.7" r="2.3"/>
<circle cx="367.6" cy="277.6" r="2.3"/>
<circle cx="370.9" cy="287.0" r="2.3"/>
<circle cx="362.3" cy="308.6" r="2.3"/>
<circle cx="389.0" cy="283.4" r="2.3"/>
<circle cx="375.4" cy="269.5" r="2.3"/>
<circle cx="388.3" cy="272.2" r="2.3"/>
<circle cx="357.7" cy="298.9" r="2.3"/>
<circle cx="381.9" cy="270.6" r="2.3"/>
<circle cx="375.3" cy="284.2" r="2.3"/>
<circle cx="390.5" cy="288.9" r="2.3"/>
<circle cx="345.9" cy="294.9" r="2.3"/>
<circle cx="370.9" cy="279.7" r="2.3"/>
<circle cx="349.5" cy="316.9" r="2.3"/>
<circle cx="363.9" cy="295.0" r="2.3"/>
<circle cx="386.4" cy="278.1" r="2.3"/>
<circle cx="374.1" cy="291.7" r="2.3"/>
<circle cx="363.9" cy="290.0" r="2.3"/>
<circle cx="368.6" cy="278.8" r="2.3"/>
<circle cx="349.0" cy="300.1" r="2.3"/>
<circle cx="378.5" cy="288.2" r="2.3"/>
<circle cx="388.4" cy="277.2" r="2.3"/>
<circle cx="361.4" cy="290.8" r="2.3"/>
<circle cx="388.4" cy="274.4" r="2.3"/>
<circle cx="384.9" cy="269.3" r="2.3"/>
<circle cx="355.4" cy="294.5" r="2.3"/>
<circle cx="373.3" cy="292.4" r="2.3"/>
<circle cx="360.3" cy="284.2" r="2.3"/>
<circle cx="374.3" cy="286.4" r="2.3"/>
<circle cx="386.1" cy="287.2" r="2.3"/>
<circle cx="369.8" cy="274.1" r="2.3"/>
<circle cx="360.2" cy="309.2" r="2.3"/>
<circle cx="359.2" cy="300.7" r="2.3"/>
<circle cx="359.5" cy="298.4" r="2.3"/>
<circle cx="354.9" cy="299.7" r="2.3"/>
<circle cx="373.4" cy="279.9" r="2.3"/>
<circle cx="357.2" cy="291.6" r="2.3"/>
<circle cx="352.9" cy="311.5" r="2.3"/>
<circle cx="361.0" cy="283.2" r="2.3"/>
<circle cx="360.7" cy="290.5" r="2.3"/>
<circle cx="378.6" cy="258.8" r="2.3"/>
<circle cx="394.3" cy="272.8" r="2.3"/>
<circle cx="369.4" cy="283.3" r="2.3"/>
<circle cx="374.3" cy="278.3" r="2.3"/>
<circle cx="367.0" cy="290.4" r="2.3"/>
<circle cx="347.9" cy="301.8" r="2.3"/>
<circle cx="375.8" cy="288.5" r="2.3"/>
<circle cx="390.9" cy="267.6" r="2.3"/>
<circle cx="357.6" cy="293.8" r="2.3"/>
<circle cx="370.8" cy="280.3" r="2.3"/>
<circle cx="363.6" cy="286.1" r="2.3"/>
<circle cx="363.9" cy="281.1" r="2.3"/>
<circle cx="377.1" cy="289.7" r="2.3"/>
<circle cx="353.1" cy="298.3" r="2.3"/>
<circle cx="388.0" cy="285.9" r="2.3"/>
<circle cx="376.7" cy="282.2" r="2.3"/>
<circle cx="376.4" cy="290.2" r="2.3"/>
<circle cx="358.1" cy="305.7" r="2.3"/>
<circle cx="360.9" cy="301.1" r="2.3"/>
<circle cx="369.8" cy="287.7" r="2.3"/>
<circle cx="397.0" cy="271.6" r="2.3"/>
<circle cx="362.8" cy="293.9" r="2.3"/>
<circle cx="381.8" cy="287.4" r="2.3"/>
<circle cx="349.7" cy="305.0" r="2.3"/>
<circle cx="370.4" cy="281.4" r="2.3"/>
<circle cx="384.7" cy="289.8" r="2.3"/>
<circle cx="382.5" cy="277.1" r="2.3"/>
<circle cx="396.5" cy="266.3" r="2.3"/>
<circle cx="342.8" cy="315.6" r="2.3"/>
<circle cx="369.4" cy="285.1" r="2.3"/>
<circle cx="374.1" cy="289.5" r="2.3"/>
<circle cx="349.1" cy="310.0" r="2.3"/>
<circle cx="368.3" cy="296.6" r="2.3"/>
<circle cx="371.1" cy="290.1" r="2.3"/>
<circle cx="348.2" cy="317.9" r="2.3"/>
<circle cx="359.8" cy="300.6" r="2.3"/>
<circle cx="389.0" cy="269.9" r="2.3"/>
<circle cx="386.5" cy="294.1" r="2.3"/>
<circle cx="386.5" cy="277.6" r="2.3"/>
<circle cx="381.0" cy="288.7" r="2.3"/>
<circle cx="364.1" cy="285.2" r="2.3"/>
<circle cx="367.3" cy="288.3" r="2.3"/>
<circle cx="363.1" cy="302.2" r="2.3"/>
<circle cx="373.0" cy="287.0" r="2.3"/>
<circle cx="373.8" cy="291.3" r="2.3"/>
<circle cx="360.0" cy="289.8" r="2.3"/>
<circle cx="388.1" cy="274.6" r="2.3"/>
<circle cx="360.1" cy="296.2" r="2.3"/>
<circle cx="378.6" cy="276.7" r="2.3"/>
<circle cx="383.0" cy="277.3" r="2.3"/>
<circle cx="366.8" cy="310.9" r="2.3"/>
<circle cx="377.8" cy="277.7" r="2.3"/>
<circle cx="359.0" cy="295.0" r="2.3"/>
<circle cx="349.2" cy="297.4" r="2.3"/>
<circle cx="375.3" cy="270.5" r="2.3"/>
<circle cx="355.9" cy="286.7" r="2.3"/>
<circle cx="370.5" cy="270.8" r="2.3"/>
<circle cx="343.1" cy="304.4" r="2.3"/>
<circle cx="386.3" cy="275.1" r="2.3"/>
<circle cx="379.9" cy="277.1" r="2.3"/>
<circle cx="387.8" cy="273.1" r="2.3"/>
<circle cx="375.5" cy="294.9" r="2.3"/>
<circle cx="398.3" cy="269.1" r="2.3"/>
<circle cx="360.6" cy="306.5" r="2.3"/>
<circle cx="369.5" cy="287.8" r="2.3"/>
<circle cx="366.0" cy="275.5" r="2.3"/>
<circle cx="388.5" cy="285.2" r="2.3"/>
<circle cx="371.9" cy="288.0" r="2.3"/>
<circle cx="377.4" cy="279.4" r="2.3"/>
<circle cx="384.4" cy="272.5" r="2.3"/>
<circle cx="397.8" cy="270.9" r="2.3"/>
<circle cx="378.3" cy="270.2" r="2.3"/>
<circle cx="366.8" cy="305.0" r="2.3"/>
<circle cx="358.8" cy="294.8" r="2.3"/>
<circle cx="396.7" cy="277.3" r="2.3"/>
<circle cx="371.9" cy="299.3" r="2.3"/>
<circle cx="377.7" cy="278.9" r="2.3"/>
<circle cx="365.3" cy="284.6" r="2.3"/>
<circle cx="364.9" cy="277.5" r="2.3"/>
<circle cx="368.3" cy="295.7" r="2.3"/>
<circle cx="369.1" cy="289.1" r="2.3"/>
<circle cx="386.5" cy="275.9" r="2.3"/>
<circle cx="365.9" cy="299.0" r="2.3"/>
<circle cx="369.6" cy="308.9" r="2.3"/>
<circle cx="367.8" cy="284.7" r="2.3"/>
<circle cx="374.8" cy="291.3" r="2.3"/>
<circle cx="376.4" cy="274.2" r="2.3"/>
<circle cx="368.6" cy="282.5" r="2.3"/>
<circle cx="365.4" cy="288.2" r="2.3"/>
<circle cx="381.7" cy="289.3" r="2.3"/>
<circle cx="366.4" cy="298.9" r="2.3"/>
<circle cx="387.1" cy="298.4" r="2.3"/>
<circle cx="372.4" cy="285.8" r="2.3"/>
<circle cx="364.5" cy="289.1" r="2.3"/>
<circle cx="349.3" cy="305.7" r="2.3"/>
<circle cx="362.7" cy="301.5" r="2.3"/>
<circle cx="387.4" cy="274.5" r="2.3"/>
<circle cx="382.0" cy="276.7" r="2.3"/>
<circle cx="367.1" cy="294.8" r="2.3"/>
<circle cx="352.8" cy="308.3" r="2.3"/>
<circle cx="363.1" cy="279.8" r="2.3"/>
<circle cx="373.7" cy="275.7" r="2.3"/>
<circle cx="361.3" cy="304.2" r="2.3"/>
<circle cx="370.6" cy="281.8" r="2.3"/>
<circle cx="350.3" cy="296.2" r="2.3"/>
<circle cx="359.6" cy="295.3" r="2.3"/>
<circle cx="359.1" cy="290.8" r="2.3"/>
<circle cx="374.1" cy="273.2" r="2.3"/>
<circle cx="356.9" cy="299.1" r="2.3"/>
<circle cx="396.3" cy="262.3" r="2.3"/>
<circle cx="373.9" cy="282.8" r="2.3"/>
<circle cx="353.6" cy="285.8" r="2.3"/>
<circle cx="391.7" cy="274.1" r="2.3"/>
<circle cx="365.4" cy="272.8" r="2.3"/>
<circle cx="374.1" cy="283.0" r="2.3"/>
<circle cx="376.6" cy="272.8" r="2.3"/>
<circle cx="358.2" cy="307.9" r="2.3"/>
<circle cx="391.4" cy="273.1" r="2.3"/>
<circle cx="371.6" cy="293.1" r="2.3"/>
<circle cx="398.8" cy="272.9" r="2.3"/>
<circle cx="373.0" cy="289.0" r="2.3"/>
<circle cx="371.6" cy="299.2" r="2.3"/>
<circle cx="360.0" cy="299.7" r="2.3"/>
<circle cx="381.5" cy="296.1" r="2.3"/>
<circle cx="374.5" cy="292.8" r="2.3"/>
<circle cx="370.5" cy="292.2" r="2.3"/>
<circle cx="368.6" cy="291.9" r="2.3"/>
<circle cx="374.5" cy="283.5" r="2.3"/>
<circle cx="360.6" cy="322.4" r="2.3"/>
<circle cx="349.5" cy="304.9" r="2.3"/>
<circle cx="353.3" cy="314.9" r="2.3"/>
<circle cx="393.2" cy="269.2" r="2.3"/>
<circle cx="364.5" cy="289.8" r="2.3"/>
<circle cx="379.3" cy="284.4" r="2.3"/>
<circle cx="380.7" cy="299.1" r="2.3"/>
<circle cx="369.7" cy="282.2" r="2.3"/>
<circle cx="342.5" cy="305.1" r="2.3"/>
<circle cx="405.7" cy="280.5" r="2.3"/>
<circle cx="358.8" cy="284.1" r="2.3"/>
<circle cx="380.9" cy="285.0" r="2.3"/>
<circle cx="363.0" cy="298.8" r="2.3"/>
<circle cx="381.6" cy="285.9" r="2.3"/>
<circle cx="349.8" cy="306.4" r="2.3"/>
<circle cx="350.2" cy="289.5" r="2.3"/>
<circle cx="354.4" cy="300.3" r="2.3"/>
<circle cx="373.6" cy="300.2" r="2.3"/>
<circle cx="372.8" cy="306.5" r="2.3"/>
<circle cx="378.4" cy="290.1" r="2.3"/>
<circle cx="361.5" cy="313.1" r="2.3"/>
<circle cx="383.3" cy="269.8" r="2.3"/>
<circle cx="357.1" cy="302.5" r="2.3"/>
<circle cx="373.3" cy="278.9" r="2.3"/>
<circle cx="379.7" cy="300.9" r="2.3"/>
<circle cx="390.4" cy="269.8" r="2.3"/>
<circle cx="392.6" cy="279.8" r="2.3"/>
<circle cx="371.4" cy="272.5" r="2.3"/>
<circle cx="389.4" cy="282.3" r="2.3"/>
<circle cx="357.3" cy="284.0" r="2.3"/>
<circle cx="327.8" cy="317.7" r="2.3"/>
<circle cx="355.6" cy="301.6" r="2.3"/>
<circle cx="318.4" cy="332.2" r="2.3"/>
<circle cx="359.7" cy="288.0" r="2.3"/>
<circle cx="319.1" cy="333.6" r="2.3"/>
<circle cx="310.7" cy="337.7" r="2.3"/>
<circle cx="361.4" cy="297.6" r="2.3"/>
<circle cx="310.1" cy="345.0" r="2.3"/>
<circle cx="360.0" cy="303.4" r="2.3"/>
<circle cx="334.3" cy="318.1" r="2.3"/>
<circle cx="363.4" cy="296.7" r="2.3"/>
<circle cx="329.0" cy="322.3" r="2.3"/>
<circle cx="344.6" cy="317.2" r="2.3"/>
<circle cx="341.9" cy="321.3" r="2.3"/>
<circle cx="321.6" cy="336.5" r="2.3"/>
<circle cx="346.9" cy="311.3" r="2.3"/>
<circle cx="335.3" cy="332.7" r="2.3"/>
<circle cx="342.9" cy="315.4" r="2.3"/>
<circle cx="355.6" cy="300.3" r="2.3"/>
<circle cx="316.1" cy="334.3" r="2.3"/>
<circle cx="361.1" cy="298.3" r="2.3"/>
<circle cx="357.6" cy="294.6" r="2.3"/>
<circle cx="334.6" cy="329.2" r="2.3"/>
<circle cx="334.0" cy="322.6" r="2.3"/>
<circle cx="341.9" cy="309.1" r="2.3"/>
<circle cx="343.6" cy="310.1" r="2.3"/>
<circle cx="350.7" cy="294.3" r="2.3"/>
<circle cx="340.1" cy="305.6" r="2.3"/>
<circle cx="344.9" cy="324.6" r="2.3"/>
<circle cx="352.3" cy="318.2" r="2.3"/>
<circle cx="330.2" cy="317.1" r="2.3"/>
<circle cx="356.4" cy="289.9" r="2.3"/>
<circle cx="361.7" cy="295.2" r="2.3"/>
<circle cx="320.8" cy="338.3" r="2.3"/>
<circle cx="371.9" cy="289.7" r="2.3"/>
<circle cx="339.4" cy="326.2" r="2.3"/>
<circle cx="317.4" cy="343.1" r="2.3"/>
<circle cx="363.1" cy="301.1" r="2.3"/>
<circle cx="331.8" cy="319.8" r="2.3"/>
<circle cx="323.1" cy="331.5" r="2.3"/>
<circle cx="340.2" cy="314.2" r="2.3"/>
<circle cx="321.3" cy="310.1" r="2.3"/>
<circle cx="347.7" cy="311.4" r="2.3"/>
<circle cx="352.9" cy="306.4" r="2.3"/>
<circle cx="326.8" cy="317.1" r="2.3"/>
<circle cx="339.2" cy="333.9" r="2.3"/>
<circle cx="303.9" cy="347.0" r="2.3"/>
<circle cx="351.1" cy="312.7" r="2.3"/>
<circle cx="367.8" cy="300.9" r="2.3"/>
<circle cx="340.2" cy="327.0" r="2.3"/>
<circle cx="356.7" cy="304.4" r="2.3"/>
<circle cx="337.0" cy="312.5" r="2.3"/>
<circle cx="355.1" cy="296.6" r="2.3"/>
<circle cx="328.9" cy="316.3" r="2.3"/>
<circle cx="313.1" cy="348.5" r="2.3"/>
<circle cx="345.7" cy="307.6" r="2.3"/>
<circle cx="357.0" cy="312.3" r="2.3"/>
<circle cx="316.4" cy="343.2" r="2.3"/>
<circle cx="318.5" cy="333.7" r="2.3"/>
<circle cx="371.4" cy="297.2" r="2.3"/>
<circle cx="336.2" cy="318.9" r="2.3"/>
<circle cx="344.2" cy="312.7" r="2.3"/>
<circle cx="348.5" cy="296.6" r="2.3"/>
<circle cx="361.4" cy="305.3" r="2.3"/>
<circle cx="333.4" cy="334.7" r="2.3"/>
<circle cx="325.4" cy="339.0" r="2.3"/>
<circle cx="359.5" cy="292.0" r="2.3"/>
<circle cx="327.6" cy="325.4" r="2.3"/>
<circle cx="359.0" cy="299.2" r="2.3"/>
<circle cx="324.5" cy="325.6" r="2.3"/>
<circle cx="335.5" cy="328.2" r="2.3"/>
<circle cx="327.7" cy="333.6" r="2.3"/>
<circle cx="336.8" cy="317.1" r="2.3"/>
<circle cx="356.1" cy="308.0" r="2.3"/>
<circle cx="325.0" cy="325.9" r="2.3"/>
<circle cx="349.0" cy="315.4" r="2.3"/>
<circle cx="359.7" cy="296.6" r="2.3"/>
<circle cx="334.5" cy="320.7" r="2.3"/>
<circle cx="352.8" cy="303.5" r="2.3"/>
<circle cx="334.0" cy="323.9" r="2.3"/>
<circle cx="344.9" cy="317.8" r="2.3"/>
<circle cx="314.3" cy="354.7" r="2.3"/>
<circle cx="338.8" cy="309.5" r="2.3"/>
<circle cx="356.5" cy="299.3" r="2.3"/>
<circle cx="346.8" cy="322.7" r="2.3"/>
<circle cx="351.5" cy="296.2" r="2.3"/>
<circle cx="327.1" cy="330.8" r="2.3"/>
<circle cx="341.8" cy="327.5" r="2.3"/>
<circle cx="344.0" cy="319.8" r="2.3"/>
<circle cx="305.0" cy="350.0" r="2.3"/>
<circle cx="328.7" cy="327.2" r="2.3"/>
<circle cx="354.5" cy="293.1" r="2.3"/>
<circle cx="344.9" cy="317.4" r="2.3"/>
<circle cx="340.8" cy="319.0" r="2.3"/>
<circle cx="356.7" cy="300.0" r="2.3"/>
<circle cx="344.7" cy="306.7" r="2.3"/>
<circle cx="321.5" cy="339.8" r="2.3"/>
<circle cx="317.2" cy="343.6" r="2.3"/>
<circle cx="327.9" cy="317.7" r="2.3"/>
<circle cx="353.3" cy="305.1" r="2.3"/>
<circle cx="316.3" cy="338.8" r="2.3"/>
<circle cx="354.1" cy="297.0" r="2.3"/>
<circle cx="334.2" cy="319.7" r="2.3"/>
<circle cx="346.0" cy="304.8" r="2.3"/>
<circle cx="364.1" cy="300.1" r="2.3"/>
<circle cx="333.7" cy="313.8" r="2.3"/>
<circle cx="323.1" cy="326.4" r="2.3"/>
<circle cx="321.4" cy="336.2" r="2.3"/>
<circle cx="325.5" cy="333.4" r="2.3"/>
<circle cx="354.3" cy="282.9" r="2.3"/>
<circle cx="323.5" cy="333.3" r="2.3"/>
<circle cx="349.0" cy="308.7" r="2.3"/>
<circle cx="331.6" cy="320.5" r="2.3"/>
<circle cx="353.7" cy="306.9" r="2.3"/>
<circle cx="336.9" cy="327.8" r="2.3"/>
<circle cx="359.1" cy="310.0" r="2.3"/>
<circle cx="340.9" cy="328.6" r="2.3"/>
<circle cx="338.3" cy="317.1" r="2.3"/>
<circle cx="341.4" cy="303.9" r="2.3"/>
<circle cx="337.4" cy="333.3" r="2.3"/>
<circle cx="351.1" cy="304.4" r="2.3"/>
<circle cx="327.0" cy="329.9" r="2.3"/>
<circle cx="329.1" cy="313.8" r="2.3"/>
<circle cx="316.7" cy="327.2" r="2.3"/>
<circle cx="308.9" cy="344.8" r="2.3"/>
<circle cx="353.1" cy="300.8" r="2.3"/>
<circle cx="322.1" cy="329.6" r="2.3"/>
<circle cx="324.3" cy="337.2" r="2.3"/>
<circle cx="312.6" cy="354.6" r="2.3"/>
<circle cx="342.7" cy="313.2" r="2.3"/>
<circle cx="352.1" cy="298.8" r="2.3"/>
<circle cx="363.5" cy="286.0" r="2.3"/>
<circle cx="333.1" cy="320.5" r="2.3"/>
<circle cx="349.7" cy="307.1" r="2.3"/>
<circle cx="356.6" cy="296.4" r="2.3"/>
<circle cx="332.7" cy="322.8" r="2.3"/>
<circle cx="314.1" cy="332.5" r="2.3"/>
<circle cx="341.0" cy="307.0" r="2.3"/>
<circle cx="357.5" cy="301.9" r="2.3"/>
<circle cx="312.5" cy="334.1" r="2.3"/>
<circle cx="326.6" cy="323.2" r="2.3"/>
<circle cx="328.5" cy="329.4" r="2.3"/>
<circle cx="363.0" cy="302.1" r="2.3"/>
<circle cx="326.8" cy="340.7" r="2.3"/>
<circle cx="339.6" cy="318.7" r="2.3"/>
<circle cx="358.2" cy="290.6" r="2.3"/>
<circle cx="331.0" cy="327.4" r="2.3"/>
<circle cx="352.1" cy="305.3" r="2.3"/>
<circle cx="327.5" cy="334.8" r="2.3"/>
<circle cx="375.3" cy="294.4" r="2.3"/>
<circle cx="331.8" cy="326.0" r="2.3"/>
<circle cx="340.4" cy="320.2" r="2.3"/>
<circle cx="346.1" cy="307.5" r="2.3"/>
<circle cx="346.2" cy="316.6" r="2.3"/>
<circle cx="348.6" cy="315.7" r="2.3"/>
<circle cx="331.0" cy="335.5" r="2.3"/>
<circle cx="321.7" cy="343.5" r="2.3"/>
<circle cx="359.9" cy="296.5" r="2.3"/>
<circle cx="334.2" cy="318.2" r="2.3"/>
<circle cx="342.1" cy="301.9" r="2.3"/>
<circle cx="347.5" cy="309.2" r="2.3"/>
<circle cx="331.2" cy="324.7" r="2.3"/>
<circle cx="328.2" cy="320.5" r="2.3"/>
<circle cx="306.5" cy="343.6" r="2.3"/>
<circle cx="363.5" cy="294.7" r="2.3"/>
<circle cx="343.4" cy="294.2" r="2.3"/>
<circle cx="324.0" cy="329.0" r="2.3"/>
<circle cx="339.9" cy="323.2" r="2.3"/>
<circle cx="352.6" cy="314.8" r="2.3"/>
<circle cx="317.2" cy="345.4" r="2.3"/>
<circle cx="344.1" cy="306.2" r="2.3"/>
<circle cx="361.1" cy="308.1" r="2.3"/>
<circle cx="356.1" cy="304.6" r="2.3"/>
<circle cx="303.5" cy="346.2" r="2.3"/>
<circle cx="314.1" cy="354.2" r="2.3"/>
<circle cx="362.3" cy="307.8" r="2.3"/>
<circle cx="348.5" cy="310.5" r="2.3"/>
<circle cx="355.0" cy="309.0" r="2.3"/>
<circle cx="359.9" cy="296.6" r="2.3"/>
<circle cx="362.8" cy="285.5" r="2.3"/>
<circle cx="340.8" cy="320.3" r="2.3"/>
<circle cx="314.6" cy="335.7" r="2.3"/>
<circle cx="352.6" cy="301.8" r="2.3"/>
<circle cx="326.6" cy="322.3" r="2.3"/>
<circle cx="353.1" cy="292.6" r="2.3"/>
<circle cx="334.2" cy="322.0" r="2.3"/>
<circle cx="331.8" cy="325.4" r="2.3"/>
<circle cx="340.3" cy="325.2" r="2.3"/>
<circle cx="337.1" cy="312.4" r="2.3"/>
<circle cx="324.0" cy="321.1" r="2.3"/>
<circle cx="332.9" cy="331.8" r="2.3"/>
<circle cx="315.4" cy="337.7" r="2.3"/>
<circle cx="329.0" cy="305.8" r="2.3"/>
<circle cx="340.7" cy="322.0" r="2.3"/>
<circle cx="343.6" cy="310.3" r="2.3"/>
<circle cx="354.6" cy="306.0" r="2.3"/>
<circle cx="335.3" cy="321.6" r="2.3"/>
<circle cx="356.4" cy="311.1" r="2.3"/>
<circle cx="345.7" cy="312.7" r="2.3"/>
<circle cx="341.9" cy="324.0" r="2.3"/>
<circle cx="356.7" cy="308.7" r="2.3"/>
<circle cx="365.2" cy="320.5" r="2.3"/>
<circle cx="364.7" cy="289.4" r="2.3"/>
<circle cx="381.7" cy="306.1" r="2.3"/>
<circle cx="380.9" cy="264.8" r="2.3"/>
<circle cx="304.6" cy="332.4" r="2.3"/>
<circle cx="329.1" cy="286.6" r="2.3"/>
<circle cx="356.6" cy="318.5" r="2.3"/>
<circle cx="362.6" cy="274.2" r="2.3"/>
<circle cx="333.8" cy="346.3" r="2.3"/>
<circle cx="370.3" cy="286.2" r="2.3"/>
<circle cx="310.0" cy="345.7" r="2.3"/>
<circle cx="401.2" cy="300.9" r="2.3"/>
<circle cx="356.1" cy="274.7" r="2.3"/>
<circle cx="323.3" cy="338.7" r="2.3"/>
<circle cx="368.1" cy="287.8" r="2.3"/>
<circle cx="372.6" cy="302.5" r="2.3"/>
<circle cx="362.8" cy="311.4" r="2.3"/>
<circle cx="324.5" cy="353.9" r="2.3"/>
<circle cx="345.1" cy="298.0" r="2.3"/>
<circle cx="380.5" cy="289.7" r="2.3"/>
<circle cx="374.2" cy="280.8" r="2.3"/>
<circle cx="383.9" cy="295.9" r="2.3"/>
<circle cx="340.4" cy="308.1" r="2.3"/>
<circle cx="332.0" cy="300.2" r="2.3"/>
<circle cx="369.8" cy="274.7" r="2.3"/>
<circle cx="336.1" cy="310.5" r="2.3"/>
<circle cx="347.0" cy="323.5" r="2.3"/>
<circle cx="365.5" cy="268.7" r="2.3"/>
<circle cx="356.2" cy="299.8" r="2.3"/>
<circle cx="380.4" cy="300.4" r="2.3"/>
<circle cx="402.0" cy="268.2" r="2.3"/>
<circle cx="330.3" cy="330.3" r="2.3"/>
<circle cx="370.2" cy="280.9" r="2.3"/>
<circle cx="327.5" cy="311.6" r="2.3"/>
<circle cx="368.5" cy="273.9" r="2.3"/>
<circle cx="383.5" cy="298.4" r="2.3"/>
<circle cx="363.3" cy="350.7" r="2.3"/>
<circle cx="404.6" cy="255.9" r="2.3"/>
<circle cx="315.6" cy="316.9" r="2.3"/>
<circle cx="370.0" cy="285.1" r="2.3"/>
<circle cx="342.6" cy="302.0" r="2.3"/>
<circle cx="352.8" cy="347.1" r="2.3"/>
<circle cx="366.8" cy="274.1" r="2.3"/>
<circle cx="365.4" cy="314.6" r="2.3"/>
<circle cx="376.8" cy="321.7" r="2.3"/>
<circle cx="363.4" cy="302.2" r="2.3"/>
<circle cx="382.5" cy="261.4" r="2.3"/>
<circle cx="397.5" cy="255.6" r="2.3"/>
<circle cx="345.7" cy="335.1" r="2.3"/>
<circle cx="376.9" cy="302.7" r="2.3"/>
<circle cx="348.0" cy="325.7" r="2.3"/>
<circle cx="357.8" cy="300.0" r="2.3"/>
<circle cx="342.9" cy="323.1" r="2.3"/>
<circle cx="337.5" cy="330.4" r="2.3"/>
<circle cx="378.7" cy="293.0" r="2.3"/>
<circle cx="381.9" cy="263.7" r="2.3"/>
<circle cx="327.6" cy="319.7" r="2.3"/>
<circle cx="333.1" cy="340.9" r="2.3"/>
<circle cx="324.3" cy="343.1" r="2.3"/>
<circle cx="343.0" cy="316.2" r="2.3"/>
<circle cx="369.7" cy="267.3" r="2.3"/>
<circle cx="313.8" cy="338.3" r="2.3"/>
<circle cx="410.6" cy="279.4" r="2.3"/>
<circle cx="391.6" cy="259.7" r="2.3"/>
<circle cx="335.4" cy="336.7" r="2.3"/>
<circle cx="361.9" cy="319.6" r="2.3"/>
<circle cx="312.0" cy="336.1" r="2.3"/>
<circle cx="337.7" cy="352.2" r="2.3"/>
<circle cx="380.9" cy="274.6" r="2.3"/>
<circle cx="381.4" cy="273.7" r="2.3"/>
<circle cx="353.6" cy="287.4" r="2.3"/>
<circle cx="325.0" cy="345.3" r="2.3"/>
<circle cx="307.2" cy="343.0" r="2.3"/>
<circle cx="310.2" cy="320.7" r="2.3"/>
<circle cx="318.8" cy="327.8" r="2.3"/>
<circle cx="393.7" cy="281.4" r="2.3"/>
<circle cx="400.1" cy="275.9" r="2.3"/>
<circle cx="338.7" cy="331.1" r="2.3"/>
<circle cx="376.8" cy="292.1" r="2.3"/>
<circle cx="361.3" cy="265.2" r="2.3"/>
<circle cx="362.5" cy="322.1" r="2.3"/>
<circle cx="390.8" cy="323.8" r="2.3"/>
<circle cx="379.9" cy="297.3" r="2.3"/>
<circle cx="330.8" cy="313.8" r="2.3"/>
<circle cx="377.3" cy="267.2" r="2.3"/>
<circle cx="354.6" cy="298.2" r="2.3"/>
<circle cx="365.0" cy="271.8" r="2.3"/>
<circle cx="316.8" cy="326.7" r="2.3"/>
<circle cx="366.8" cy="242.7" r="2.3"/>
<circle cx="331.7" cy="294.2" r="2.3"/>
<circle cx="387.9" cy="295.0" r="2.3"/>
<circle cx="362.4" cy="308.7" r="2.3"/>
<circle cx="393.3" cy="285.8" r="2.3"/>
<circle cx="358.5" cy="303.2" r="2.3"/>
<circle cx="331.2" cy="333.9" r="2.3"/>
<circle cx="361.9" cy="283.7" r="2.3"/>
<circle cx="304.8" cy="354.9" r="2.3"/>
<circle cx="312.7" cy="354.9" r="2.3"/>
<circle cx="316.6" cy="354.9" r="2.3"/>
<circle cx="333.6" cy="354.9" r="2.3"/>
<circle cx="345.1" cy="354.9" r="2.3"/>
<circle cx="330.1" cy="354.9" r="2.3"/>
<circle cx="307.5" cy="354.9" r="2.3"/>
<circle cx="325.4" cy="354.9" r="2.3"/>
<circle cx="354.0" cy="354.9" r="2.3"/>
<circle cx="310.5" cy="354.9" r="2.3"/>
<circle cx="336.7" cy="354.9" r="2.3"/>
<circle cx="310.0" cy="354.9" r="2.3"/>
<circle cx="313.5" cy="354.9" r="2.3"/>
<circle cx="326.5" cy="354.9" r="2.3"/>
<circle cx="346.6" cy="354.9" r="2.3"/>
<circle cx="326.2" cy="354.9" r="2.3"/>
<circle cx="308.9" cy="354.9" r="2.3"/>
<circle cx="328.5" cy="354.9" r="2.3"/>
<circle cx="304.9" cy="354.9" r="2.3"/>
<circle cx="339.2" cy="354.9" r="2.3"/>
<circle cx="327.4" cy="354.9" r="2.3"/>
<circle cx="314.9" cy="354.9" r="2.3"/>
<circle cx="304.2" cy="310.9" r="2.3"/>
<circle cx="304.2" cy="329.9" r="2.3"/>
<circle cx="304.2" cy="320.4" r="2.3"/>
<circle cx="304.2" cy="313.8" r="2.3"/>
<circle cx="304.2" cy="298.8" r="2.3"/>
<circle cx="304.2" cy="341.4" r="2.3"/>
<circle cx="304.2" cy="287.3" r="2.3"/>
<circle cx="304.2" cy="295.4" r="2.3"/>
<circle cx="305.1" cy="352.8" r="2.3"/>
<circle cx="304.0" cy="352.9" r="2.3"/>
<circle cx="304.7" cy="352.9" r="2.3"/>
<circle cx="305.1" cy="355.9" r="2.3"/>
<circle cx="303.6" cy="355.6" r="2.3"/>
<circle cx="424.1" cy="241.3" r="2.3"/>
</g>
<g transform="translate(372.85,285.15) rotate(-42)"><ellipse cx="-22" cy="1" rx="26.2" ry="6.8" fill="#505050" fill-opacity="0.35" filter="url(#bl2)"/><ellipse cx="-10" cy="0.5" rx="15.8" ry="6.4" fill="#4a4a4a" fill-opacity="0.7" filter="url(#bl)"/><ellipse rx="17.5" ry="8.0" fill="#474747" filter="url(#bl)"/></g>
<circle cx="304.2" cy="354.9" r="2.3" fill="#333"/>
<g fill="#d43aab" fill-opacity="0.9">
<circle cx="388.6" cy="291.2" r="2.2"/>
<circle cx="386.7" cy="293.6" r="2.2"/>
<circle cx="379.1" cy="294.4" r="2.2"/>
<circle cx="380.8" cy="298.0" r="2.2"/>
<circle cx="371.1" cy="301.1" r="2.2"/>
<circle cx="369.2" cy="302.8" r="2.2"/>
<circle cx="375.8" cy="302.0" r="2.2"/>
<circle cx="383.9" cy="305.6" r="2.2"/>
<circle cx="370.9" cy="306.6" r="2.2"/>
<circle cx="362.5" cy="311.8" r="2.2"/>
<circle cx="364.4" cy="311.8" r="2.2"/>
<circle cx="375.3" cy="310.8" r="2.2"/>
<circle cx="376.7" cy="312.3" r="2.2"/>
<circle cx="380.1" cy="312.7" r="2.2"/>
<circle cx="368.0" cy="316.5" r="2.2"/>
<circle cx="371.0" cy="314.6" r="2.2"/>
<circle cx="353.5" cy="315.6" r="2.2"/>
<circle cx="357.8" cy="315.6" r="2.2"/>
<circle cx="361.6" cy="318.9" r="2.2"/>
<circle cx="362.7" cy="322.2" r="2.2"/>
<circle cx="355.7" cy="320.6" r="2.2"/>
<circle cx="373.0" cy="321.0" r="2.2"/>
<circle cx="379.4" cy="322.5" r="2.2"/>
<circle cx="350.2" cy="323.2" r="2.2"/>
<circle cx="348.3" cy="324.1" r="2.2"/>
<circle cx="345.0" cy="327.0" r="2.2"/>
<circle cx="343.1" cy="329.3" r="2.2"/>
<circle cx="368.0" cy="326.5" r="2.2"/>
<circle cx="373.7" cy="338.1" r="2.2"/>
<circle cx="367.5" cy="343.5" r="2.2"/>
<circle cx="359.9" cy="345.0" r="2.2"/>
<circle cx="328.5" cy="339.7" r="2.2"/>
<circle cx="382.9" cy="348.2" r="2.2"/>
<circle cx="390.5" cy="348.2" r="2.2"/>
<circle cx="374.5" cy="349.9" r="2.2"/>
<circle cx="378.5" cy="352.8" r="2.2"/>
<circle cx="392.0" cy="354.5" r="2.2"/>
<circle cx="359.9" cy="353.7" r="2.2"/>
<circle cx="311.4" cy="354.5" r="2.2"/>
<circle cx="366.5" cy="304.0" r="2.2"/>
<circle cx="372.5" cy="299.5" r="2.2"/>
<circle cx="359.0" cy="313.0" r="2.2"/>
<circle cx="365.0" cy="319.0" r="2.2"/>
<circle cx="351.5" cy="322.8" r="2.2"/>
<circle cx="346.5" cy="325.5" r="2.2"/>
</g>
<circle cx="369.10" cy="294.90" r="1.80" fill="none" stroke="#1a1a1a" stroke-width="0.8" />
<circle cx="371.10" cy="306.20" r="1.80" fill="none" stroke="#1a1a1a" stroke-width="0.8" />
<circle cx="367.90" cy="313.70" r="1.80" fill="none" stroke="#1a1a1a" stroke-width="0.8" />
<rect x="298.40" y="208.90" width="151.30" height="151.30" fill="none" stroke="#6b6b6b" stroke-width="1.0" />
<line x1="304.20" y1="360.20" x2="304.20" y2="356.20" stroke="#6b6b6b" stroke-width="1.0" />
<line x1="298.40" y1="354.90" x2="302.40" y2="354.90" stroke="#6b6b6b" stroke-width="1.0" />
<line x1="339.05" y1="360.20" x2="339.05" y2="356.20" stroke="#6b6b6b" stroke-width="1.0" />
<line x1="298.40" y1="319.85" x2="302.40" y2="319.85" stroke="#6b6b6b" stroke-width="1.0" />
<line x1="373.90" y1="360.20" x2="373.90" y2="356.20" stroke="#6b6b6b" stroke-width="1.0" />
<line x1="298.40" y1="284.80" x2="302.40" y2="284.80" stroke="#6b6b6b" stroke-width="1.0" />
<line x1="408.75" y1="360.20" x2="408.75" y2="356.20" stroke="#6b6b6b" stroke-width="1.0" />
<line x1="298.40" y1="249.75" x2="302.40" y2="249.75" stroke="#6b6b6b" stroke-width="1.0" />
<line x1="443.60" y1="360.20" x2="443.60" y2="356.20" stroke="#6b6b6b" stroke-width="1.0" />
<line x1="298.40" y1="214.70" x2="302.40" y2="214.70" stroke="#6b6b6b" stroke-width="1.0" />
<text x="300.75" y="374.50" font-size="12.4" fill="#1a1a1a">0</text>
<text x="289.01" y="359.10" font-size="12.4" fill="#1a1a1a">0</text>
<text x="330.43" y="374.50" font-size="12.4" fill="#1a1a1a">0.5</text>
<text x="278.66" y="324.05" font-size="12.4" fill="#1a1a1a">0.5</text>
<text x="365.28" y="374.50" font-size="12.4" fill="#1a1a1a">1.0</text>
<text x="278.66" y="289.00" font-size="12.4" fill="#1a1a1a">1.0</text>
<text x="400.13" y="374.50" font-size="12.4" fill="#1a1a1a">1.5</text>
<text x="278.66" y="253.95" font-size="12.4" fill="#1a1a1a">1.5</text>
<text x="434.98" y="374.50" font-size="12.4" fill="#1a1a1a">2.0</text>
<text x="278.66" y="218.90" font-size="12.4" fill="#1a1a1a">2.0</text>
<text x="319.81" y="390.00" font-size="13.3" fill="#1a1a1a">normalized fitness</text>
<text x="348.50" y="406.00" font-size="13.3" font-style="italic" fill="#1a1a1a">wt x orf<tspan font-style="normal" font-weight="normal" font-size="10.64">Δ</tspan></text>
<text x="-53.59" y="0.00" font-size="13.3" fill="#1a1a1a" transform="translate(256.40,284.55) rotate(-90)">normalized fitness</text>
<text x="-51.40" y="0.00" font-size="13.3" font-style="italic" fill="#1a1a1a" transform="translate(272.40,284.55) rotate(-90)">S-RNH202 x orf<tspan font-style="normal" font-weight="normal" font-size="10.64">Δ</tspan></text>
<text x="392.29" y="226.50" font-size="14.0" font-weight="bold" fill="#d43aab">45/4790</text>
<text x="303.70" y="297.00" font-size="13.0" font-style="italic" fill="#1a1a1a" textLength="46.40" lengthAdjust="spacingAndGlyphs">mms22<tspan font-style="normal" font-weight="normal" font-size="10.40">Δ</tspan></text>
<line x1="350.10" y1="294.30" x2="367.40" y2="294.90" stroke="#1a1a1a" stroke-width="0.9" />
<text x="393.60" y="301.60" font-size="13.0" font-style="italic" fill="#1a1a1a" textLength="37.20" lengthAdjust="spacingAndGlyphs">rtt101<tspan font-style="normal" font-weight="normal" font-size="10.40">Δ</tspan></text>
<line x1="372.60" y1="305.50" x2="389.90" y2="299.40" stroke="#1a1a1a" stroke-width="0.9" />
<text x="393.00" y="317.30" font-size="13.0" font-style="italic" fill="#1a1a1a" textLength="39.60" lengthAdjust="spacingAndGlyphs">mms1<tspan font-style="normal" font-weight="normal" font-size="10.40">Δ</tspan></text>
<line x1="369.50" y1="313.70" x2="389.90" y2="314.30" stroke="#1a1a1a" stroke-width="0.9" />
<text x="467.80" y="202.40" font-size="16.5" font-weight="bold" textLength="10.80" lengthAdjust="spacingAndGlyphs">D</text>
<g fill="#404040" fill-opacity="0.1">
<circle cx="605.4" cy="280.8" r="2.3"/>
<circle cx="599.6" cy="286.8" r="2.3"/>
<circle cx="607.1" cy="287.7" r="2.3"/>
<circle cx="619.7" cy="275.5" r="2.3"/>
<circle cx="605.9" cy="283.2" r="2.3"/>
<circle cx="615.3" cy="280.0" r="2.3"/>
<circle cx="614.4" cy="285.9" r="2.3"/>
<circle cx="606.9" cy="288.8" r="2.3"/>
<circle cx="603.6" cy="297.2" r="2.3"/>
<circle cx="598.4" cy="294.4" r="2.3"/>
<circle cx="607.8" cy="287.4" r="2.3"/>
<circle cx="612.0" cy="289.7" r="2.3"/>
<circle cx="607.0" cy="285.1" r="2.3"/>
<circle cx="615.1" cy="284.6" r="2.3"/>
<circle cx="610.9" cy="294.3" r="2.3"/>
<circle cx="610.7" cy="295.4" r="2.3"/>
<circle cx="596.2" cy="288.8" r="2.3"/>
<circle cx="592.1" cy="293.7" r="2.3"/>
<circle cx="611.0" cy="284.9" r="2.3"/>
<circle cx="609.6" cy="281.4" r="2.3"/>
<circle cx="615.3" cy="281.1" r="2.3"/>
<circle cx="605.9" cy="290.5" r="2.3"/>
<circle cx="602.0" cy="290.5" r="2.3"/>
<circle cx="600.3" cy="285.8" r="2.3"/>
<circle cx="599.2" cy="298.5" r="2.3"/>
<circle cx="607.6" cy="297.3" r="2.3"/>
<circle cx="626.4" cy="284.2" r="2.3"/>
<circle cx="607.7" cy="288.7" r="2.3"/>
<circle cx="623.8" cy="284.0" r="2.3"/>
<circle cx="616.8" cy="282.7" r="2.3"/>
<circle cx="608.9" cy="288.5" r="2.3"/>
<circle cx="615.1" cy="286.2" r="2.3"/>
<circle cx="606.7" cy="284.7" r="2.3"/>
<circle cx="626.0" cy="284.5" r="2.3"/>
<circle cx="615.2" cy="274.7" r="2.3"/>
<circle cx="604.2" cy="286.9" r="2.3"/>
<circle cx="600.8" cy="282.2" r="2.3"/>
<circle cx="610.0" cy="285.2" r="2.3"/>
<circle cx="607.2" cy="287.3" r="2.3"/>
<circle cx="609.3" cy="289.3" r="2.3"/>
<circle cx="626.1" cy="281.7" r="2.3"/>
<circle cx="585.6" cy="303.8" r="2.3"/>
<circle cx="606.2" cy="285.0" r="2.3"/>
<circle cx="607.2" cy="287.0" r="2.3"/>
<circle cx="607.7" cy="280.6" r="2.3"/>
<circle cx="606.2" cy="289.0" r="2.3"/>
<circle cx="619.0" cy="274.1" r="2.3"/>
<circle cx="595.8" cy="282.5" r="2.3"/>
<circle cx="614.5" cy="283.6" r="2.3"/>
<circle cx="599.9" cy="290.3" r="2.3"/>
<circle cx="605.6" cy="293.2" r="2.3"/>
<circle cx="601.2" cy="293.6" r="2.3"/>
<circle cx="616.2" cy="281.5" r="2.3"/>
<circle cx="597.2" cy="290.4" r="2.3"/>
<circle cx="606.3" cy="282.3" r="2.3"/>
<circle cx="616.1" cy="280.1" r="2.3"/>
<circle cx="607.3" cy="286.4" r="2.3"/>
<circle cx="599.2" cy="288.9" r="2.3"/>
<circle cx="616.3" cy="278.1" r="2.3"/>
<circle cx="607.3" cy="287.6" r="2.3"/>
<circle cx="605.3" cy="292.1" r="2.3"/>
<circle cx="607.8" cy="290.3" r="2.3"/>
<circle cx="609.5" cy="293.0" r="2.3"/>
<circle cx="610.2" cy="283.6" r="2.3"/>
<circle cx="606.9" cy="299.0" r="2.3"/>
<circle cx="605.1" cy="281.8" r="2.3"/>
<circle cx="604.7" cy="290.8" r="2.3"/>
<circle cx="602.8" cy="286.1" r="2.3"/>
<circle cx="599.7" cy="286.7" r="2.3"/>
<circle cx="603.8" cy="283.9" r="2.3"/>
<circle cx="608.9" cy="286.1" r="2.3"/>
<circle cx="600.6" cy="295.2" r="2.3"/>
<circle cx="604.7" cy="284.6" r="2.3"/>
<circle cx="611.5" cy="286.6" r="2.3"/>
<circle cx="608.1" cy="280.1" r="2.3"/>
<circle cx="608.3" cy="287.7" r="2.3"/>
<circle cx="603.5" cy="284.7" r="2.3"/>
<circle cx="613.9" cy="286.0" r="2.3"/>
<circle cx="611.7" cy="285.3" r="2.3"/>
<circle cx="600.1" cy="285.0" r="2.3"/>
<circle cx="615.2" cy="283.9" r="2.3"/>
<circle cx="607.3" cy="283.4" r="2.3"/>
<circle cx="604.4" cy="289.1" r="2.3"/>
<circle cx="617.0" cy="288.2" r="2.3"/>
<circle cx="608.2" cy="281.4" r="2.3"/>
<circle cx="614.8" cy="287.5" r="2.3"/>
<circle cx="612.4" cy="286.8" r="2.3"/>
<circle cx="610.1" cy="280.6" r="2.3"/>
<circle cx="611.5" cy="287.0" r="2.3"/>
<circle cx="602.1" cy="285.5" r="2.3"/>
<circle cx="601.1" cy="288.3" r="2.3"/>
<circle cx="612.1" cy="283.9" r="2.3"/>
<circle cx="623.0" cy="273.4" r="2.3"/>
<circle cx="626.9" cy="281.7" r="2.3"/>
<circle cx="591.3" cy="293.3" r="2.3"/>
<circle cx="612.9" cy="283.4" r="2.3"/>
<circle cx="612.8" cy="292.2" r="2.3"/>
<circle cx="606.8" cy="292.1" r="2.3"/>
<circle cx="604.4" cy="283.6" r="2.3"/>
<circle cx="607.5" cy="284.0" r="2.3"/>
<circle cx="604.8" cy="290.4" r="2.3"/>
<circle cx="609.5" cy="285.9" r="2.3"/>
<circle cx="618.4" cy="282.2" r="2.3"/>
<circle cx="622.6" cy="279.4" r="2.3"/>
<circle cx="616.8" cy="282.9" r="2.3"/>
<circle cx="618.1" cy="276.9" r="2.3"/>
<circle cx="608.7" cy="281.0" r="2.3"/>
<circle cx="606.8" cy="292.2" r="2.3"/>
<circle cx="592.1" cy="291.4" r="2.3"/>
<circle cx="605.3" cy="291.0" r="2.3"/>
<circle cx="602.7" cy="278.9" r="2.3"/>
<circle cx="596.5" cy="293.2" r="2.3"/>
<circle cx="604.2" cy="285.7" r="2.3"/>
<circle cx="597.8" cy="295.8" r="2.3"/>
<circle cx="609.3" cy="276.1" r="2.3"/>
<circle cx="620.4" cy="280.5" r="2.3"/>
<circle cx="608.7" cy="285.6" r="2.3"/>
<circle cx="603.2" cy="297.2" r="2.3"/>
<circle cx="612.2" cy="280.9" r="2.3"/>
<circle cx="604.0" cy="282.1" r="2.3"/>
<circle cx="600.4" cy="288.7" r="2.3"/>
<circle cx="608.3" cy="285.7" r="2.3"/>
<circle cx="610.7" cy="282.5" r="2.3"/>
<circle cx="609.1" cy="283.3" r="2.3"/>
<circle cx="621.2" cy="276.9" r="2.3"/>
<circle cx="612.9" cy="278.4" r="2.3"/>
<circle cx="603.8" cy="284.5" r="2.3"/>
<circle cx="599.6" cy="285.8" r="2.3"/>
<circle cx="604.3" cy="291.2" r="2.3"/>
<circle cx="608.0" cy="281.1" r="2.3"/>
<circle cx="611.5" cy="278.0" r="2.3"/>
<circle cx="609.3" cy="289.8" r="2.3"/>
<circle cx="610.8" cy="281.8" r="2.3"/>
<circle cx="599.5" cy="286.9" r="2.3"/>
<circle cx="611.9" cy="287.7" r="2.3"/>
<circle cx="614.4" cy="287.8" r="2.3"/>
<circle cx="601.5" cy="288.5" r="2.3"/>
<circle cx="598.2" cy="293.1" r="2.3"/>
<circle cx="597.6" cy="289.7" r="2.3"/>
<circle cx="603.0" cy="288.5" r="2.3"/>
<circle cx="599.5" cy="294.1" r="2.3"/>
<circle cx="612.9" cy="279.3" r="2.3"/>
<circle cx="594.1" cy="291.5" r="2.3"/>
<circle cx="614.7" cy="282.3" r="2.3"/>
<circle cx="619.8" cy="282.0" r="2.3"/>
<circle cx="604.6" cy="282.2" r="2.3"/>
<circle cx="613.0" cy="274.7" r="2.3"/>
<circle cx="605.9" cy="296.9" r="2.3"/>
<circle cx="614.3" cy="288.4" r="2.3"/>
<circle cx="610.6" cy="290.5" r="2.3"/>
<circle cx="612.7" cy="277.5" r="2.3"/>
<circle cx="611.6" cy="282.7" r="2.3"/>
<circle cx="609.2" cy="286.3" r="2.3"/>
<circle cx="609.9" cy="282.8" r="2.3"/>
<circle cx="612.1" cy="284.7" r="2.3"/>
<circle cx="619.3" cy="275.1" r="2.3"/>
<circle cx="613.4" cy="274.1" r="2.3"/>
<circle cx="607.0" cy="295.6" r="2.3"/>
<circle cx="617.1" cy="280.6" r="2.3"/>
<circle cx="609.3" cy="286.0" r="2.3"/>
<circle cx="612.0" cy="288.9" r="2.3"/>
<circle cx="608.7" cy="287.6" r="2.3"/>
<circle cx="614.1" cy="293.5" r="2.3"/>
<circle cx="612.4" cy="280.3" r="2.3"/>
<circle cx="599.1" cy="296.6" r="2.3"/>
<circle cx="606.6" cy="283.2" r="2.3"/>
<circle cx="604.5" cy="280.8" r="2.3"/>
<circle cx="610.9" cy="288.8" r="2.3"/>
<circle cx="601.9" cy="286.3" r="2.3"/>
<circle cx="602.0" cy="285.7" r="2.3"/>
<circle cx="613.0" cy="278.4" r="2.3"/>
<circle cx="615.0" cy="281.0" r="2.3"/>
<circle cx="609.6" cy="287.5" r="2.3"/>
<circle cx="608.4" cy="293.8" r="2.3"/>
<circle cx="607.4" cy="291.9" r="2.3"/>
<circle cx="598.7" cy="292.1" r="2.3"/>
<circle cx="611.9" cy="284.4" r="2.3"/>
<circle cx="614.3" cy="275.5" r="2.3"/>
<circle cx="616.3" cy="282.4" r="2.3"/>
<circle cx="597.2" cy="291.0" r="2.3"/>
<circle cx="608.1" cy="281.5" r="2.3"/>
<circle cx="607.4" cy="279.2" r="2.3"/>
<circle cx="604.5" cy="284.7" r="2.3"/>
<circle cx="608.5" cy="297.7" r="2.3"/>
<circle cx="601.4" cy="282.6" r="2.3"/>
<circle cx="594.8" cy="290.4" r="2.3"/>
<circle cx="604.9" cy="290.2" r="2.3"/>
<circle cx="607.8" cy="284.6" r="2.3"/>
<circle cx="601.6" cy="289.9" r="2.3"/>
<circle cx="608.7" cy="280.5" r="2.3"/>
<circle cx="599.3" cy="284.0" r="2.3"/>
<circle cx="613.8" cy="267.9" r="2.3"/>
<circle cx="599.2" cy="291.6" r="2.3"/>
<circle cx="595.4" cy="293.4" r="2.3"/>
<circle cx="614.6" cy="286.6" r="2.3"/>
<circle cx="597.6" cy="292.7" r="2.3"/>
<circle cx="614.1" cy="285.1" r="2.3"/>
<circle cx="613.1" cy="295.3" r="2.3"/>
<circle cx="603.2" cy="288.5" r="2.3"/>
<circle cx="604.9" cy="279.4" r="2.3"/>
<circle cx="606.8" cy="298.8" r="2.3"/>
<circle cx="612.5" cy="285.3" r="2.3"/>
<circle cx="608.0" cy="281.6" r="2.3"/>
<circle cx="608.1" cy="277.6" r="2.3"/>
<circle cx="621.0" cy="284.4" r="2.3"/>
<circle cx="602.4" cy="279.0" r="2.3"/>
<circle cx="603.0" cy="284.3" r="2.3"/>
<circle cx="608.8" cy="287.2" r="2.3"/>
<circle cx="615.4" cy="274.1" r="2.3"/>
<circle cx="604.2" cy="283.6" r="2.3"/>
<circle cx="601.7" cy="294.5" r="2.3"/>
<circle cx="613.7" cy="280.9" r="2.3"/>
<circle cx="600.2" cy="289.3" r="2.3"/>
<circle cx="606.8" cy="279.5" r="2.3"/>
<circle cx="614.9" cy="281.7" r="2.3"/>
<circle cx="605.4" cy="288.4" r="2.3"/>
<circle cx="602.8" cy="281.7" r="2.3"/>
<circle cx="614.6" cy="273.0" r="2.3"/>
<circle cx="611.1" cy="284.4" r="2.3"/>
<circle cx="614.7" cy="282.2" r="2.3"/>
<circle cx="614.0" cy="290.0" r="2.3"/>
<circle cx="601.6" cy="282.7" r="2.3"/>
<circle cx="605.5" cy="295.6" r="2.3"/>
<circle cx="602.7" cy="280.7" r="2.3"/>
<circle cx="618.2" cy="279.5" r="2.3"/>
<circle cx="605.4" cy="288.2" r="2.3"/>
<circle cx="602.1" cy="290.0" r="2.3"/>
<circle cx="610.1" cy="292.0" r="2.3"/>
<circle cx="605.1" cy="289.2" r="2.3"/>
<circle cx="605.6" cy="293.6" r="2.3"/>
<circle cx="608.8" cy="274.6" r="2.3"/>
<circle cx="607.4" cy="288.4" r="2.3"/>
<circle cx="611.9" cy="283.8" r="2.3"/>
<circle cx="599.5" cy="284.7" r="2.3"/>
<circle cx="603.4" cy="293.1" r="2.3"/>
<circle cx="606.2" cy="291.8" r="2.3"/>
<circle cx="605.1" cy="284.7" r="2.3"/>
<circle cx="615.5" cy="276.1" r="2.3"/>
<circle cx="611.6" cy="289.6" r="2.3"/>
<circle cx="610.2" cy="289.0" r="2.3"/>
<circle cx="604.9" cy="282.7" r="2.3"/>
<circle cx="609.9" cy="285.2" r="2.3"/>
<circle cx="603.4" cy="289.3" r="2.3"/>
<circle cx="611.2" cy="288.1" r="2.3"/>
<circle cx="602.6" cy="285.0" r="2.3"/>
<circle cx="598.8" cy="295.2" r="2.3"/>
<circle cx="596.7" cy="286.1" r="2.3"/>
<circle cx="610.6" cy="280.8" r="2.3"/>
<circle cx="609.8" cy="282.6" r="2.3"/>
<circle cx="614.1" cy="289.4" r="2.3"/>
<circle cx="608.2" cy="282.2" r="2.3"/>
<circle cx="596.9" cy="289.8" r="2.3"/>
<circle cx="616.3" cy="287.3" r="2.3"/>
<circle cx="605.9" cy="288.9" r="2.3"/>
<circle cx="603.7" cy="286.8" r="2.3"/>
<circle cx="600.6" cy="292.6" r="2.3"/>
<circle cx="607.6" cy="281.9" r="2.3"/>
<circle cx="609.0" cy="286.1" r="2.3"/>
<circle cx="617.7" cy="288.8" r="2.3"/>
<circle cx="614.8" cy="281.9" r="2.3"/>
<circle cx="601.3" cy="293.2" r="2.3"/>
<circle cx="601.9" cy="301.5" r="2.3"/>
<circle cx="608.1" cy="289.8" r="2.3"/>
<circle cx="615.1" cy="284.9" r="2.3"/>
<circle cx="602.4" cy="295.2" r="2.3"/>
<circle cx="618.9" cy="276.9" r="2.3"/>
<circle cx="606.8" cy="291.9" r="2.3"/>
<circle cx="601.6" cy="291.5" r="2.3"/>
<circle cx="607.8" cy="279.5" r="2.3"/>
<circle cx="614.6" cy="278.9" r="2.3"/>
<circle cx="606.2" cy="291.7" r="2.3"/>
<circle cx="596.2" cy="300.4" r="2.3"/>
<circle cx="611.6" cy="284.6" r="2.3"/>
<circle cx="614.0" cy="288.2" r="2.3"/>
<circle cx="613.0" cy="280.0" r="2.3"/>
<circle cx="607.3" cy="283.9" r="2.3"/>
<circle cx="595.4" cy="298.5" r="2.3"/>
<circle cx="597.7" cy="283.8" r="2.3"/>
<circle cx="608.3" cy="288.1" r="2.3"/>
<circle cx="616.3" cy="284.8" r="2.3"/>
<circle cx="618.9" cy="280.8" r="2.3"/>
<circle cx="610.1" cy="288.9" r="2.3"/>
<circle cx="618.9" cy="288.8" r="2.3"/>
<circle cx="614.6" cy="284.8" r="2.3"/>
<circle cx="611.4" cy="289.1" r="2.3"/>
<circle cx="609.1" cy="283.7" r="2.3"/>
<circle cx="611.0" cy="281.5" r="2.3"/>
<circle cx="609.4" cy="279.0" r="2.3"/>
<circle cx="608.7" cy="291.4" r="2.3"/>
<circle cx="598.2" cy="289.5" r="2.3"/>
<circle cx="603.0" cy="283.8" r="2.3"/>
<circle cx="611.0" cy="288.7" r="2.3"/>
<circle cx="608.7" cy="274.4" r="2.3"/>
<circle cx="609.4" cy="289.6" r="2.3"/>
<circle cx="600.4" cy="286.7" r="2.3"/>
<circle cx="605.5" cy="289.8" r="2.3"/>
<circle cx="612.4" cy="282.1" r="2.3"/>
<circle cx="610.3" cy="286.8" r="2.3"/>
<circle cx="603.6" cy="288.1" r="2.3"/>
<circle cx="607.5" cy="282.7" r="2.3"/>
<circle cx="604.0" cy="286.8" r="2.3"/>
<circle cx="610.9" cy="282.9" r="2.3"/>
<circle cx="609.0" cy="279.3" r="2.3"/>
<circle cx="609.1" cy="284.3" r="2.3"/>
<circle cx="601.1" cy="289.2" r="2.3"/>
<circle cx="608.3" cy="287.0" r="2.3"/>
<circle cx="601.4" cy="287.7" r="2.3"/>
<circle cx="623.1" cy="271.3" r="2.3"/>
<circle cx="607.5" cy="283.6" r="2.3"/>
<circle cx="604.1" cy="288.1" r="2.3"/>
<circle cx="605.6" cy="291.0" r="2.3"/>
<circle cx="609.0" cy="283.6" r="2.3"/>
<circle cx="609.5" cy="288.7" r="2.3"/>
<circle cx="612.6" cy="287.9" r="2.3"/>
<circle cx="613.9" cy="282.8" r="2.3"/>
<circle cx="606.0" cy="282.8" r="2.3"/>
<circle cx="615.0" cy="287.1" r="2.3"/>
<circle cx="605.6" cy="285.5" r="2.3"/>
<circle cx="607.5" cy="299.0" r="2.3"/>
<circle cx="607.8" cy="286.0" r="2.3"/>
<circle cx="610.6" cy="283.1" r="2.3"/>
<circle cx="608.3" cy="284.0" r="2.3"/>
<circle cx="615.5" cy="277.0" r="2.3"/>
<circle cx="612.6" cy="284.1" r="2.3"/>
<circle cx="615.7" cy="280.6" r="2.3"/>
<circle cx="618.3" cy="289.0" r="2.3"/>
<circle cx="609.9" cy="284.6" r="2.3"/>
<circle cx="601.8" cy="283.4" r="2.3"/>
<circle cx="611.0" cy="284.0" r="2.3"/>
<circle cx="599.9" cy="281.8" r="2.3"/>
<circle cx="611.1" cy="279.6" r="2.3"/>
<circle cx="599.9" cy="284.9" r="2.3"/>
<circle cx="612.3" cy="283.6" r="2.3"/>
<circle cx="611.7" cy="291.5" r="2.3"/>
<circle cx="615.1" cy="286.0" r="2.3"/>
<circle cx="614.6" cy="282.8" r="2.3"/>
<circle cx="603.2" cy="287.3" r="2.3"/>
<circle cx="612.4" cy="288.3" r="2.3"/>
<circle cx="606.0" cy="283.8" r="2.3"/>
<circle cx="610.0" cy="291.3" r="2.3"/>
<circle cx="609.1" cy="289.9" r="2.3"/>
<circle cx="604.3" cy="288.2" r="2.3"/>
<circle cx="608.3" cy="286.5" r="2.3"/>
<circle cx="596.8" cy="292.5" r="2.3"/>
<circle cx="607.9" cy="287.9" r="2.3"/>
<circle cx="604.0" cy="278.2" r="2.3"/>
<circle cx="604.2" cy="297.3" r="2.3"/>
<circle cx="615.0" cy="284.4" r="2.3"/>
<circle cx="618.9" cy="282.4" r="2.3"/>
<circle cx="602.9" cy="285.1" r="2.3"/>
<circle cx="612.7" cy="279.5" r="2.3"/>
<circle cx="611.3" cy="283.7" r="2.3"/>
<circle cx="605.9" cy="288.4" r="2.3"/>
<circle cx="614.2" cy="276.8" r="2.3"/>
<circle cx="607.4" cy="284.3" r="2.3"/>
<circle cx="610.2" cy="277.4" r="2.3"/>
<circle cx="607.5" cy="286.4" r="2.3"/>
<circle cx="603.4" cy="275.1" r="2.3"/>
<circle cx="606.3" cy="280.0" r="2.3"/>
<circle cx="596.2" cy="290.2" r="2.3"/>
<circle cx="602.1" cy="296.1" r="2.3"/>
<circle cx="604.5" cy="289.1" r="2.3"/>
<circle cx="608.3" cy="283.4" r="2.3"/>
<circle cx="610.6" cy="285.9" r="2.3"/>
<circle cx="623.3" cy="271.4" r="2.3"/>
<circle cx="607.0" cy="275.4" r="2.3"/>
<circle cx="612.7" cy="278.8" r="2.3"/>
<circle cx="605.3" cy="277.6" r="2.3"/>
<circle cx="603.8" cy="294.0" r="2.3"/>
<circle cx="614.3" cy="291.6" r="2.3"/>
<circle cx="600.3" cy="285.5" r="2.3"/>
<circle cx="604.8" cy="287.2" r="2.3"/>
<circle cx="615.5" cy="286.0" r="2.3"/>
<circle cx="611.4" cy="286.3" r="2.3"/>
<circle cx="602.0" cy="291.8" r="2.3"/>
<circle cx="608.8" cy="287.1" r="2.3"/>
<circle cx="601.5" cy="285.5" r="2.3"/>
<circle cx="613.9" cy="278.0" r="2.3"/>
<circle cx="610.2" cy="289.5" r="2.3"/>
<circle cx="605.8" cy="293.2" r="2.3"/>
<circle cx="607.0" cy="281.4" r="2.3"/>
<circle cx="613.9" cy="281.1" r="2.3"/>
<circle cx="605.2" cy="286.8" r="2.3"/>
<circle cx="607.3" cy="282.9" r="2.3"/>
<circle cx="619.1" cy="280.5" r="2.3"/>
<circle cx="626.6" cy="282.2" r="2.3"/>
<circle cx="600.9" cy="299.3" r="2.3"/>
<circle cx="602.3" cy="291.3" r="2.3"/>
<circle cx="622.8" cy="277.7" r="2.3"/>
<circle cx="615.9" cy="281.3" r="2.3"/>
<circle cx="611.7" cy="288.2" r="2.3"/>
<circle cx="622.4" cy="274.5" r="2.3"/>
<circle cx="598.3" cy="280.9" r="2.3"/>
<circle cx="608.1" cy="283.2" r="2.3"/>
<circle cx="609.3" cy="289.0" r="2.3"/>
<circle cx="599.6" cy="293.1" r="2.3"/>
<circle cx="617.1" cy="276.1" r="2.3"/>
<circle cx="604.2" cy="282.8" r="2.3"/>
<circle cx="598.7" cy="285.5" r="2.3"/>
<circle cx="610.2" cy="288.4" r="2.3"/>
<circle cx="611.0" cy="280.4" r="2.3"/>
<circle cx="605.4" cy="286.5" r="2.3"/>
<circle cx="610.6" cy="276.0" r="2.3"/>
<circle cx="609.6" cy="298.5" r="2.3"/>
<circle cx="621.6" cy="276.3" r="2.3"/>
<circle cx="604.4" cy="286.1" r="2.3"/>
<circle cx="602.7" cy="284.1" r="2.3"/>
<circle cx="600.8" cy="292.3" r="2.3"/>
<circle cx="596.3" cy="286.6" r="2.3"/>
<circle cx="603.7" cy="283.0" r="2.3"/>
<circle cx="619.9" cy="282.7" r="2.3"/>
<circle cx="604.8" cy="284.2" r="2.3"/>
<circle cx="608.8" cy="285.7" r="2.3"/>
<circle cx="611.0" cy="278.3" r="2.3"/>
<circle cx="604.7" cy="288.9" r="2.3"/>
<circle cx="611.6" cy="281.6" r="2.3"/>
<circle cx="611.9" cy="288.6" r="2.3"/>
<circle cx="619.7" cy="277.6" r="2.3"/>
<circle cx="609.9" cy="284.3" r="2.3"/>
<circle cx="608.1" cy="284.7" r="2.3"/>
<circle cx="593.2" cy="296.6" r="2.3"/>
<circle cx="618.5" cy="271.9" r="2.3"/>
<circle cx="612.1" cy="277.3" r="2.3"/>
<circle cx="597.6" cy="279.4" r="2.3"/>
<circle cx="595.1" cy="294.7" r="2.3"/>
<circle cx="616.8" cy="274.5" r="2.3"/>
<circle cx="597.1" cy="306.1" r="2.3"/>
<circle cx="629.0" cy="273.9" r="2.3"/>
<circle cx="603.0" cy="285.6" r="2.3"/>
<circle cx="614.4" cy="295.5" r="2.3"/>
<circle cx="582.2" cy="311.7" r="2.3"/>
<circle cx="596.9" cy="298.9" r="2.3"/>
<circle cx="605.7" cy="286.4" r="2.3"/>
<circle cx="596.2" cy="312.3" r="2.3"/>
<circle cx="619.8" cy="279.9" r="2.3"/>
<circle cx="599.7" cy="311.8" r="2.3"/>
<circle cx="617.6" cy="287.7" r="2.3"/>
<circle cx="589.5" cy="298.0" r="2.3"/>
<circle cx="606.6" cy="282.0" r="2.3"/>
<circle cx="602.4" cy="317.0" r="2.3"/>
<circle cx="594.4" cy="301.6" r="2.3"/>
<circle cx="593.1" cy="292.2" r="2.3"/>
<circle cx="614.5" cy="288.8" r="2.3"/>
<circle cx="613.0" cy="282.2" r="2.3"/>
<circle cx="594.2" cy="288.9" r="2.3"/>
<circle cx="579.9" cy="303.7" r="2.3"/>
<circle cx="628.2" cy="284.7" r="2.3"/>
<circle cx="603.7" cy="291.4" r="2.3"/>
<circle cx="593.8" cy="304.7" r="2.3"/>
<circle cx="594.9" cy="297.8" r="2.3"/>
<circle cx="608.0" cy="305.1" r="2.3"/>
<circle cx="616.2" cy="269.6" r="2.3"/>
<circle cx="591.0" cy="294.3" r="2.3"/>
<circle cx="637.6" cy="271.1" r="2.3"/>
<circle cx="602.5" cy="295.7" r="2.3"/>
<circle cx="613.6" cy="283.0" r="2.3"/>
<circle cx="582.1" cy="299.4" r="2.3"/>
<circle cx="598.0" cy="288.8" r="2.3"/>
<circle cx="637.3" cy="264.0" r="2.3"/>
<circle cx="596.0" cy="289.0" r="2.3"/>
<circle cx="601.6" cy="287.1" r="2.3"/>
<circle cx="592.6" cy="275.1" r="2.3"/>
<circle cx="611.7" cy="278.9" r="2.3"/>
<circle cx="605.1" cy="284.9" r="2.3"/>
<circle cx="586.2" cy="309.4" r="2.3"/>
<circle cx="620.1" cy="284.9" r="2.3"/>
<circle cx="606.3" cy="288.2" r="2.3"/>
<circle cx="587.6" cy="282.8" r="2.3"/>
<circle cx="612.8" cy="278.0" r="2.3"/>
<circle cx="595.1" cy="297.5" r="2.3"/>
<circle cx="602.0" cy="292.3" r="2.3"/>
<circle cx="596.8" cy="273.8" r="2.3"/>
<circle cx="614.4" cy="263.9" r="2.3"/>
<circle cx="609.8" cy="258.2" r="2.3"/>
<circle cx="602.9" cy="302.4" r="2.3"/>
<circle cx="606.8" cy="284.5" r="2.3"/>
<circle cx="608.6" cy="290.8" r="2.3"/>
<circle cx="606.1" cy="271.8" r="2.3"/>
<circle cx="609.1" cy="286.6" r="2.3"/>
<circle cx="621.7" cy="275.1" r="2.3"/>
<circle cx="599.4" cy="291.1" r="2.3"/>
<circle cx="568.2" cy="307.2" r="2.3"/>
<circle cx="601.7" cy="287.1" r="2.3"/>
<circle cx="607.4" cy="282.5" r="2.3"/>
<circle cx="580.6" cy="296.1" r="2.3"/>
<circle cx="611.2" cy="279.8" r="2.3"/>
<circle cx="650.6" cy="255.9" r="2.3"/>
<circle cx="615.1" cy="279.7" r="2.3"/>
<circle cx="577.7" cy="297.4" r="2.3"/>
<circle cx="585.2" cy="306.5" r="2.3"/>
<circle cx="603.4" cy="288.4" r="2.3"/>
<circle cx="587.4" cy="293.2" r="2.3"/>
<circle cx="614.3" cy="291.1" r="2.3"/>
<circle cx="588.9" cy="301.7" r="2.3"/>
<circle cx="588.8" cy="300.3" r="2.3"/>
<circle cx="612.1" cy="287.0" r="2.3"/>
<circle cx="587.0" cy="317.9" r="2.3"/>
<circle cx="612.2" cy="286.3" r="2.3"/>
<circle cx="630.7" cy="267.7" r="2.3"/>
<circle cx="607.1" cy="280.4" r="2.3"/>
<circle cx="605.1" cy="285.6" r="2.3"/>
<circle cx="618.7" cy="276.6" r="2.3"/>
<circle cx="611.2" cy="285.8" r="2.3"/>
<circle cx="629.7" cy="263.0" r="2.3"/>
<circle cx="629.3" cy="292.1" r="2.3"/>
<circle cx="604.4" cy="299.5" r="2.3"/>
<circle cx="607.8" cy="289.8" r="2.3"/>
<circle cx="593.4" cy="302.3" r="2.3"/>
<circle cx="610.7" cy="273.2" r="2.3"/>
<circle cx="593.9" cy="289.7" r="2.3"/>
<circle cx="594.8" cy="292.8" r="2.3"/>
<circle cx="589.8" cy="293.7" r="2.3"/>
<circle cx="635.8" cy="261.3" r="2.3"/>
<circle cx="627.3" cy="280.1" r="2.3"/>
<circle cx="585.3" cy="283.4" r="2.3"/>
<circle cx="602.2" cy="286.7" r="2.3"/>
<circle cx="585.0" cy="308.1" r="2.3"/>
<circle cx="590.1" cy="292.1" r="2.3"/>
<circle cx="587.1" cy="282.7" r="2.3"/>
<circle cx="590.1" cy="300.0" r="2.3"/>
<circle cx="582.1" cy="314.5" r="2.3"/>
<circle cx="621.1" cy="273.9" r="2.3"/>
<circle cx="586.8" cy="301.7" r="2.3"/>
<circle cx="615.3" cy="274.6" r="2.3"/>
<circle cx="624.2" cy="282.9" r="2.3"/>
<circle cx="625.0" cy="262.7" r="2.3"/>
<circle cx="570.4" cy="305.1" r="2.3"/>
<circle cx="597.1" cy="291.5" r="2.3"/>
<circle cx="583.3" cy="315.3" r="2.3"/>
<circle cx="578.6" cy="306.5" r="2.3"/>
<circle cx="606.6" cy="295.4" r="2.3"/>
<circle cx="595.6" cy="287.5" r="2.3"/>
<circle cx="593.0" cy="295.1" r="2.3"/>
<circle cx="598.0" cy="310.5" r="2.3"/>
<circle cx="600.5" cy="295.5" r="2.3"/>
<circle cx="603.3" cy="281.6" r="2.3"/>
<circle cx="601.8" cy="295.0" r="2.3"/>
<circle cx="613.0" cy="276.9" r="2.3"/>
<circle cx="603.6" cy="287.8" r="2.3"/>
<circle cx="580.3" cy="317.5" r="2.3"/>
<circle cx="586.9" cy="309.4" r="2.3"/>
<circle cx="624.2" cy="285.2" r="2.3"/>
<circle cx="619.4" cy="279.7" r="2.3"/>
<circle cx="604.8" cy="293.0" r="2.3"/>
<circle cx="617.2" cy="282.8" r="2.3"/>
<circle cx="577.8" cy="312.1" r="2.3"/>
<circle cx="600.6" cy="287.1" r="2.3"/>
<circle cx="618.3" cy="286.7" r="2.3"/>
<circle cx="607.3" cy="285.2" r="2.3"/>
<circle cx="603.9" cy="288.7" r="2.3"/>
<circle cx="611.8" cy="287.1" r="2.3"/>
<circle cx="599.0" cy="285.5" r="2.3"/>
<circle cx="592.4" cy="301.6" r="2.3"/>
<circle cx="597.4" cy="305.7" r="2.3"/>
<circle cx="599.3" cy="292.5" r="2.3"/>
<circle cx="625.3" cy="270.7" r="2.3"/>
<circle cx="614.6" cy="274.4" r="2.3"/>
<circle cx="620.2" cy="302.1" r="2.3"/>
<circle cx="606.6" cy="286.5" r="2.3"/>
<circle cx="591.7" cy="300.3" r="2.3"/>
<circle cx="629.0" cy="275.8" r="2.3"/>
<circle cx="594.8" cy="290.2" r="2.3"/>
<circle cx="587.4" cy="315.1" r="2.3"/>
<circle cx="604.7" cy="280.2" r="2.3"/>
<circle cx="617.1" cy="269.9" r="2.3"/>
<circle cx="632.5" cy="258.4" r="2.3"/>
<circle cx="590.0" cy="304.9" r="2.3"/>
<circle cx="611.5" cy="278.9" r="2.3"/>
<circle cx="579.3" cy="310.1" r="2.3"/>
<circle cx="596.3" cy="298.9" r="2.3"/>
<circle cx="624.4" cy="271.3" r="2.3"/>
<circle cx="597.6" cy="296.9" r="2.3"/>
<circle cx="588.0" cy="286.5" r="2.3"/>
<circle cx="611.5" cy="273.9" r="2.3"/>
<circle cx="599.7" cy="299.6" r="2.3"/>
<circle cx="618.4" cy="295.4" r="2.3"/>
<circle cx="623.9" cy="281.9" r="2.3"/>
<circle cx="605.1" cy="285.5" r="2.3"/>
<circle cx="593.8" cy="296.2" r="2.3"/>
<circle cx="605.5" cy="270.8" r="2.3"/>
<circle cx="602.0" cy="274.9" r="2.3"/>
<circle cx="612.0" cy="283.5" r="2.3"/>
<circle cx="618.5" cy="280.3" r="2.3"/>
<circle cx="604.4" cy="283.5" r="2.3"/>
<circle cx="618.4" cy="273.1" r="2.3"/>
<circle cx="581.1" cy="300.0" r="2.3"/>
<circle cx="608.8" cy="287.6" r="2.3"/>
<circle cx="592.6" cy="295.4" r="2.3"/>
<circle cx="606.4" cy="281.0" r="2.3"/>
<circle cx="596.7" cy="282.6" r="2.3"/>
<circle cx="600.2" cy="289.5" r="2.3"/>
<circle cx="603.0" cy="280.9" r="2.3"/>
<circle cx="598.0" cy="298.1" r="2.3"/>
<circle cx="605.6" cy="294.1" r="2.3"/>
<circle cx="602.6" cy="302.0" r="2.3"/>
<circle cx="608.0" cy="272.2" r="2.3"/>
<circle cx="589.5" cy="296.6" r="2.3"/>
<circle cx="594.6" cy="306.1" r="2.3"/>
<circle cx="600.8" cy="291.6" r="2.3"/>
<circle cx="619.7" cy="291.9" r="2.3"/>
<circle cx="588.5" cy="303.9" r="2.3"/>
<circle cx="592.6" cy="281.3" r="2.3"/>
<circle cx="604.8" cy="294.8" r="2.3"/>
<circle cx="632.5" cy="286.2" r="2.3"/>
<circle cx="569.7" cy="298.2" r="2.3"/>
<circle cx="597.2" cy="295.6" r="2.3"/>
<circle cx="607.0" cy="294.8" r="2.3"/>
<circle cx="609.4" cy="296.3" r="2.3"/>
<circle cx="613.8" cy="273.1" r="2.3"/>
<circle cx="617.9" cy="284.4" r="2.3"/>
<circle cx="583.3" cy="314.1" r="2.3"/>
<circle cx="589.8" cy="299.9" r="2.3"/>
<circle cx="589.2" cy="312.4" r="2.3"/>
<circle cx="605.0" cy="284.7" r="2.3"/>
<circle cx="612.2" cy="293.2" r="2.3"/>
<circle cx="587.7" cy="287.3" r="2.3"/>
<circle cx="620.8" cy="280.8" r="2.3"/>
<circle cx="629.7" cy="265.9" r="2.3"/>
<circle cx="608.9" cy="292.3" r="2.3"/>
<circle cx="623.7" cy="269.5" r="2.3"/>
<circle cx="608.4" cy="293.7" r="2.3"/>
<circle cx="588.5" cy="303.1" r="2.3"/>
<circle cx="598.3" cy="281.0" r="2.3"/>
<circle cx="595.6" cy="301.2" r="2.3"/>
<circle cx="614.0" cy="272.6" r="2.3"/>
<circle cx="590.2" cy="289.7" r="2.3"/>
<circle cx="607.2" cy="278.4" r="2.3"/>
<circle cx="605.2" cy="279.6" r="2.3"/>
<circle cx="601.0" cy="294.5" r="2.3"/>
<circle cx="617.1" cy="273.3" r="2.3"/>
<circle cx="604.6" cy="278.6" r="2.3"/>
<circle cx="606.4" cy="283.6" r="2.3"/>
<circle cx="580.1" cy="317.6" r="2.3"/>
<circle cx="619.5" cy="282.5" r="2.3"/>
<circle cx="600.6" cy="290.9" r="2.3"/>
<circle cx="599.6" cy="286.0" r="2.3"/>
<circle cx="612.0" cy="283.5" r="2.3"/>
<circle cx="620.5" cy="276.9" r="2.3"/>
<circle cx="594.9" cy="295.5" r="2.3"/>
<circle cx="613.8" cy="281.4" r="2.3"/>
<circle cx="594.1" cy="303.9" r="2.3"/>
<circle cx="605.0" cy="282.4" r="2.3"/>
<circle cx="628.1" cy="267.6" r="2.3"/>
<circle cx="612.2" cy="301.2" r="2.3"/>
<circle cx="617.1" cy="268.6" r="2.3"/>
<circle cx="608.6" cy="291.6" r="2.3"/>
<circle cx="569.3" cy="316.7" r="2.3"/>
<circle cx="588.7" cy="290.8" r="2.3"/>
<circle cx="609.0" cy="273.1" r="2.3"/>
<circle cx="598.1" cy="284.5" r="2.3"/>
<circle cx="581.1" cy="298.6" r="2.3"/>
<circle cx="610.2" cy="294.4" r="2.3"/>
<circle cx="604.6" cy="297.8" r="2.3"/>
<circle cx="611.8" cy="288.6" r="2.3"/>
<circle cx="591.0" cy="305.6" r="2.3"/>
<circle cx="601.5" cy="290.2" r="2.3"/>
<circle cx="608.3" cy="274.0" r="2.3"/>
<circle cx="603.0" cy="275.7" r="2.3"/>
<circle cx="585.1" cy="319.5" r="2.3"/>
<circle cx="584.8" cy="305.4" r="2.3"/>
<circle cx="577.9" cy="325.6" r="2.3"/>
<circle cx="567.1" cy="321.1" r="2.3"/>
<circle cx="578.1" cy="305.2" r="2.3"/>
<circle cx="548.7" cy="338.6" r="2.3"/>
<circle cx="581.8" cy="309.7" r="2.3"/>
<circle cx="583.4" cy="312.9" r="2.3"/>
<circle cx="550.6" cy="345.2" r="2.3"/>
<circle cx="554.6" cy="317.9" r="2.3"/>
<circle cx="580.0" cy="303.8" r="2.3"/>
<circle cx="540.4" cy="343.0" r="2.3"/>
<circle cx="563.3" cy="333.9" r="2.3"/>
<circle cx="569.0" cy="326.1" r="2.3"/>
<circle cx="582.0" cy="297.4" r="2.3"/>
<circle cx="570.6" cy="323.5" r="2.3"/>
<circle cx="552.1" cy="329.0" r="2.3"/>
<circle cx="568.3" cy="319.5" r="2.3"/>
<circle cx="549.4" cy="334.5" r="2.3"/>
<circle cx="574.3" cy="317.1" r="2.3"/>
<circle cx="549.9" cy="346.4" r="2.3"/>
<circle cx="555.4" cy="335.1" r="2.3"/>
<circle cx="581.3" cy="309.5" r="2.3"/>
<circle cx="580.9" cy="306.9" r="2.3"/>
<circle cx="573.9" cy="323.3" r="2.3"/>
<circle cx="584.8" cy="310.1" r="2.3"/>
<circle cx="575.5" cy="316.8" r="2.3"/>
<circle cx="557.3" cy="338.2" r="2.3"/>
<circle cx="571.4" cy="323.6" r="2.3"/>
<circle cx="571.7" cy="316.4" r="2.3"/>
<circle cx="593.3" cy="297.9" r="2.3"/>
<circle cx="582.1" cy="317.9" r="2.3"/>
<circle cx="593.0" cy="301.4" r="2.3"/>
<circle cx="581.6" cy="303.4" r="2.3"/>
<circle cx="564.3" cy="324.7" r="2.3"/>
<circle cx="592.4" cy="304.1" r="2.3"/>
<circle cx="550.6" cy="345.9" r="2.3"/>
<circle cx="550.8" cy="347.8" r="2.3"/>
<circle cx="580.5" cy="305.1" r="2.3"/>
<circle cx="548.1" cy="347.0" r="2.3"/>
<circle cx="597.4" cy="296.7" r="2.3"/>
<circle cx="588.3" cy="311.1" r="2.3"/>
<circle cx="580.4" cy="309.1" r="2.3"/>
<circle cx="572.9" cy="319.3" r="2.3"/>
<circle cx="565.2" cy="330.8" r="2.3"/>
<circle cx="574.0" cy="313.4" r="2.3"/>
<circle cx="582.0" cy="322.6" r="2.3"/>
<circle cx="575.7" cy="313.6" r="2.3"/>
<circle cx="549.3" cy="337.0" r="2.3"/>
<circle cx="580.9" cy="308.5" r="2.3"/>
<circle cx="554.7" cy="335.0" r="2.3"/>
<circle cx="567.5" cy="334.2" r="2.3"/>
<circle cx="566.1" cy="324.4" r="2.3"/>
<circle cx="586.1" cy="311.1" r="2.3"/>
<circle cx="585.2" cy="303.1" r="2.3"/>
<circle cx="563.3" cy="324.9" r="2.3"/>
<circle cx="581.7" cy="312.6" r="2.3"/>
<circle cx="582.6" cy="304.2" r="2.3"/>
<circle cx="572.6" cy="315.3" r="2.3"/>
<circle cx="565.4" cy="328.5" r="2.3"/>
<circle cx="597.2" cy="288.7" r="2.3"/>
<circle cx="585.7" cy="317.2" r="2.3"/>
<circle cx="556.9" cy="348.1" r="2.3"/>
<circle cx="543.9" cy="345.4" r="2.3"/>
<circle cx="571.5" cy="336.3" r="2.3"/>
<circle cx="574.5" cy="317.3" r="2.3"/>
<circle cx="586.2" cy="300.1" r="2.3"/>
<circle cx="576.2" cy="321.4" r="2.3"/>
<circle cx="548.7" cy="349.4" r="2.3"/>
<circle cx="573.8" cy="323.2" r="2.3"/>
<circle cx="554.0" cy="343.8" r="2.3"/>
<circle cx="564.0" cy="333.3" r="2.3"/>
<circle cx="590.9" cy="295.5" r="2.3"/>
<circle cx="554.0" cy="333.9" r="2.3"/>
<circle cx="566.2" cy="322.1" r="2.3"/>
<circle cx="598.1" cy="305.3" r="2.3"/>
<circle cx="593.2" cy="300.9" r="2.3"/>
<circle cx="566.9" cy="322.0" r="2.3"/>
<circle cx="598.7" cy="302.4" r="2.3"/>
<circle cx="552.0" cy="338.2" r="2.3"/>
<circle cx="592.8" cy="295.0" r="2.3"/>
<circle cx="598.3" cy="286.6" r="2.3"/>
<circle cx="564.6" cy="328.7" r="2.3"/>
<circle cx="589.2" cy="296.6" r="2.3"/>
<circle cx="579.4" cy="311.9" r="2.3"/>
<circle cx="553.1" cy="338.9" r="2.3"/>
<circle cx="590.1" cy="297.9" r="2.3"/>
<circle cx="570.0" cy="322.8" r="2.3"/>
<circle cx="573.8" cy="312.3" r="2.3"/>
<circle cx="556.0" cy="327.0" r="2.3"/>
<circle cx="573.1" cy="325.7" r="2.3"/>
<circle cx="558.5" cy="330.0" r="2.3"/>
<circle cx="570.0" cy="313.8" r="2.3"/>
<circle cx="587.4" cy="298.1" r="2.3"/>
<circle cx="575.1" cy="323.2" r="2.3"/>
<circle cx="569.0" cy="317.7" r="2.3"/>
<circle cx="573.5" cy="321.4" r="2.3"/>
<circle cx="603.8" cy="289.3" r="2.3"/>
<circle cx="558.7" cy="338.6" r="2.3"/>
<circle cx="541.2" cy="344.4" r="2.3"/>
<circle cx="600.8" cy="311.4" r="2.3"/>
<circle cx="546.6" cy="342.5" r="2.3"/>
<circle cx="579.1" cy="302.8" r="2.3"/>
<circle cx="596.3" cy="303.7" r="2.3"/>
<circle cx="590.0" cy="300.9" r="2.3"/>
<circle cx="594.4" cy="298.5" r="2.3"/>
<circle cx="588.7" cy="294.8" r="2.3"/>
<circle cx="547.8" cy="338.9" r="2.3"/>
<circle cx="557.8" cy="340.3" r="2.3"/>
<circle cx="581.9" cy="319.1" r="2.3"/>
<circle cx="546.3" cy="342.7" r="2.3"/>
<circle cx="597.1" cy="289.9" r="2.3"/>
<circle cx="557.6" cy="342.6" r="2.3"/>
<circle cx="575.2" cy="318.2" r="2.3"/>
<circle cx="588.9" cy="316.0" r="2.3"/>
<circle cx="564.4" cy="325.3" r="2.3"/>
<circle cx="588.3" cy="297.4" r="2.3"/>
<circle cx="575.1" cy="320.1" r="2.3"/>
<circle cx="568.1" cy="334.0" r="2.3"/>
<circle cx="575.3" cy="322.3" r="2.3"/>
<circle cx="581.7" cy="309.3" r="2.3"/>
<circle cx="592.1" cy="295.4" r="2.3"/>
<circle cx="548.3" cy="334.7" r="2.3"/>
<circle cx="575.6" cy="326.1" r="2.3"/>
<circle cx="569.8" cy="324.7" r="2.3"/>
<circle cx="574.9" cy="311.2" r="2.3"/>
<circle cx="576.7" cy="320.2" r="2.3"/>
<circle cx="585.3" cy="294.6" r="2.3"/>
<circle cx="544.7" cy="341.9" r="2.3"/>
<circle cx="586.3" cy="303.4" r="2.3"/>
<circle cx="548.6" cy="340.2" r="2.3"/>
<circle cx="542.9" cy="348.1" r="2.3"/>
<circle cx="589.0" cy="295.2" r="2.3"/>
<circle cx="559.7" cy="335.7" r="2.3"/>
<circle cx="588.8" cy="308.9" r="2.3"/>
<circle cx="583.5" cy="314.9" r="2.3"/>
<circle cx="564.3" cy="319.4" r="2.3"/>
<circle cx="569.5" cy="312.6" r="2.3"/>
<circle cx="575.4" cy="314.4" r="2.3"/>
<circle cx="573.9" cy="309.6" r="2.3"/>
<circle cx="569.2" cy="324.6" r="2.3"/>
<circle cx="564.7" cy="330.5" r="2.3"/>
<circle cx="579.9" cy="305.1" r="2.3"/>
<circle cx="589.5" cy="307.4" r="2.3"/>
<circle cx="563.8" cy="331.5" r="2.3"/>
<circle cx="564.4" cy="318.0" r="2.3"/>
<circle cx="587.1" cy="304.0" r="2.3"/>
<circle cx="571.5" cy="322.1" r="2.3"/>
<circle cx="600.2" cy="308.3" r="2.3"/>
<circle cx="574.5" cy="317.0" r="2.3"/>
<circle cx="562.4" cy="326.7" r="2.3"/>
<circle cx="558.7" cy="336.6" r="2.3"/>
<circle cx="578.3" cy="299.5" r="2.3"/>
<circle cx="583.4" cy="314.2" r="2.3"/>
<circle cx="546.8" cy="340.4" r="2.3"/>
<circle cx="567.1" cy="329.5" r="2.3"/>
<circle cx="593.4" cy="309.4" r="2.3"/>
<circle cx="559.9" cy="324.6" r="2.3"/>
<circle cx="586.3" cy="299.3" r="2.3"/>
<circle cx="582.3" cy="301.1" r="2.3"/>
<circle cx="537.8" cy="356.0" r="2.3"/>
<circle cx="553.8" cy="336.0" r="2.3"/>
<circle cx="600.5" cy="301.3" r="2.3"/>
<circle cx="594.1" cy="302.5" r="2.3"/>
<circle cx="597.7" cy="315.7" r="2.3"/>
<circle cx="584.5" cy="303.0" r="2.3"/>
<circle cx="584.6" cy="301.5" r="2.3"/>
<circle cx="581.2" cy="317.6" r="2.3"/>
<circle cx="571.5" cy="331.3" r="2.3"/>
<circle cx="556.8" cy="328.0" r="2.3"/>
<circle cx="582.3" cy="300.5" r="2.3"/>
<circle cx="640.7" cy="285.4" r="2.3"/>
<circle cx="569.7" cy="309.9" r="2.3"/>
<circle cx="603.8" cy="291.5" r="2.3"/>
<circle cx="587.1" cy="294.4" r="2.3"/>
<circle cx="569.9" cy="297.6" r="2.3"/>
<circle cx="609.9" cy="290.5" r="2.3"/>
<circle cx="606.7" cy="312.5" r="2.3"/>
<circle cx="590.3" cy="307.6" r="2.3"/>
<circle cx="593.6" cy="299.1" r="2.3"/>
<circle cx="559.5" cy="333.3" r="2.3"/>
<circle cx="581.9" cy="277.1" r="2.3"/>
<circle cx="584.8" cy="281.1" r="2.3"/>
<circle cx="563.0" cy="323.1" r="2.3"/>
<circle cx="614.5" cy="304.0" r="2.3"/>
<circle cx="545.9" cy="350.3" r="2.3"/>
<circle cx="582.1" cy="305.7" r="2.3"/>
<circle cx="589.2" cy="331.4" r="2.3"/>
<circle cx="570.2" cy="340.1" r="2.3"/>
<circle cx="611.3" cy="273.7" r="2.3"/>
<circle cx="632.0" cy="265.8" r="2.3"/>
<circle cx="618.0" cy="276.4" r="2.3"/>
<circle cx="601.7" cy="287.3" r="2.3"/>
<circle cx="612.1" cy="305.6" r="2.3"/>
<circle cx="586.1" cy="287.8" r="2.3"/>
<circle cx="624.9" cy="268.8" r="2.3"/>
<circle cx="558.6" cy="313.8" r="2.3"/>
<circle cx="566.7" cy="317.1" r="2.3"/>
<circle cx="567.6" cy="343.0" r="2.3"/>
<circle cx="620.0" cy="285.5" r="2.3"/>
<circle cx="597.6" cy="281.7" r="2.3"/>
<circle cx="568.7" cy="337.1" r="2.3"/>
<circle cx="587.5" cy="309.8" r="2.3"/>
<circle cx="606.7" cy="278.1" r="2.3"/>
<circle cx="551.4" cy="343.8" r="2.3"/>
<circle cx="641.1" cy="267.4" r="2.3"/>
<circle cx="597.6" cy="312.9" r="2.3"/>
<circle cx="552.9" cy="332.2" r="2.3"/>
<circle cx="558.7" cy="337.7" r="2.3"/>
<circle cx="630.6" cy="299.7" r="2.3"/>
<circle cx="601.3" cy="322.3" r="2.3"/>
<circle cx="583.5" cy="305.4" r="2.3"/>
<circle cx="545.5" cy="332.2" r="2.3"/>
<circle cx="566.2" cy="348.4" r="2.3"/>
<circle cx="610.0" cy="297.0" r="2.3"/>
<circle cx="625.5" cy="280.8" r="2.3"/>
<circle cx="591.4" cy="275.3" r="2.3"/>
<circle cx="549.0" cy="331.1" r="2.3"/>
<circle cx="629.7" cy="273.3" r="2.3"/>
<circle cx="550.4" cy="354.9" r="2.3"/>
<circle cx="623.4" cy="315.6" r="2.3"/>
<circle cx="575.0" cy="325.5" r="2.3"/>
<circle cx="632.7" cy="264.2" r="2.3"/>
<circle cx="620.0" cy="291.0" r="2.3"/>
<circle cx="575.1" cy="323.4" r="2.3"/>
<circle cx="605.3" cy="289.2" r="2.3"/>
<circle cx="606.3" cy="297.0" r="2.3"/>
<circle cx="569.4" cy="318.9" r="2.3"/>
<circle cx="554.7" cy="350.0" r="2.3"/>
<circle cx="569.4" cy="310.5" r="2.3"/>
<circle cx="550.4" cy="320.6" r="2.3"/>
<circle cx="590.3" cy="326.1" r="2.3"/>
<circle cx="597.0" cy="276.7" r="2.3"/>
<circle cx="602.8" cy="279.8" r="2.3"/>
<circle cx="568.4" cy="300.0" r="2.3"/>
<circle cx="624.0" cy="300.6" r="2.3"/>
<circle cx="628.0" cy="273.2" r="2.3"/>
<circle cx="607.5" cy="254.4" r="2.3"/>
<circle cx="577.3" cy="294.7" r="2.3"/>
<circle cx="603.8" cy="307.9" r="2.3"/>
<circle cx="599.3" cy="265.5" r="2.3"/>
<circle cx="589.2" cy="331.4" r="2.3"/>
<circle cx="563.4" cy="352.6" r="2.3"/>
<circle cx="554.2" cy="331.4" r="2.3"/>
<circle cx="569.3" cy="354.2" r="2.3"/>
<circle cx="616.7" cy="274.0" r="2.3"/>
<circle cx="548.8" cy="321.8" r="2.3"/>
<circle cx="562.2" cy="348.0" r="2.3"/>
<circle cx="564.1" cy="335.6" r="2.3"/>
<circle cx="590.9" cy="299.9" r="2.3"/>
<circle cx="560.3" cy="316.1" r="2.3"/>
<circle cx="592.4" cy="333.2" r="2.3"/>
<circle cx="586.5" cy="341.0" r="2.3"/>
<circle cx="580.4" cy="314.2" r="2.3"/>
<circle cx="604.7" cy="282.1" r="2.3"/>
<circle cx="584.5" cy="280.0" r="2.3"/>
<circle cx="625.6" cy="291.5" r="2.3"/>
<circle cx="584.9" cy="282.1" r="2.3"/>
<circle cx="580.4" cy="307.2" r="2.3"/>
<circle cx="609.4" cy="268.5" r="2.3"/>
<circle cx="633.3" cy="267.5" r="2.3"/>
<circle cx="645.9" cy="256.4" r="2.3"/>
<circle cx="606.1" cy="296.3" r="2.3"/>
<circle cx="624.2" cy="279.2" r="2.3"/>
<circle cx="586.3" cy="301.0" r="2.3"/>
<circle cx="552.2" cy="344.1" r="2.3"/>
<circle cx="612.7" cy="268.0" r="2.3"/>
<circle cx="562.9" cy="321.1" r="2.3"/>
<circle cx="611.7" cy="259.2" r="2.3"/>
<circle cx="613.2" cy="271.4" r="2.3"/>
<circle cx="598.7" cy="255.2" r="2.3"/>
<circle cx="600.6" cy="274.5" r="2.3"/>
<circle cx="548.9" cy="355.6" r="2.3"/>
<circle cx="541.8" cy="355.6" r="2.3"/>
<circle cx="543.7" cy="355.6" r="2.3"/>
<circle cx="583.3" cy="355.6" r="2.3"/>
<circle cx="540.3" cy="355.6" r="2.3"/>
<circle cx="560.7" cy="355.6" r="2.3"/>
<circle cx="565.2" cy="355.6" r="2.3"/>
<circle cx="558.6" cy="355.6" r="2.3"/>
<circle cx="557.6" cy="355.6" r="2.3"/>
<circle cx="551.7" cy="355.6" r="2.3"/>
<circle cx="542.4" cy="355.6" r="2.3"/>
<circle cx="579.2" cy="355.6" r="2.3"/>
<circle cx="585.1" cy="355.6" r="2.3"/>
<circle cx="561.3" cy="355.6" r="2.3"/>
<circle cx="544.7" cy="355.6" r="2.3"/>
<circle cx="586.3" cy="355.6" r="2.3"/>
<circle cx="542.8" cy="355.6" r="2.3"/>
<circle cx="541.6" cy="355.6" r="2.3"/>
<circle cx="565.3" cy="355.6" r="2.3"/>
<circle cx="580.0" cy="355.6" r="2.3"/>
<circle cx="561.8" cy="355.6" r="2.3"/>
<circle cx="539.7" cy="355.6" r="2.3"/>
<circle cx="537.7" cy="287.0" r="2.3"/>
<circle cx="537.7" cy="344.7" r="2.3"/>
<circle cx="537.7" cy="331.5" r="2.3"/>
<circle cx="537.7" cy="286.3" r="2.3"/>
<circle cx="537.7" cy="300.1" r="2.3"/>
<circle cx="537.7" cy="302.6" r="2.3"/>
<circle cx="537.7" cy="350.3" r="2.3"/>
<circle cx="537.7" cy="295.9" r="2.3"/>
<circle cx="537.6" cy="355.5" r="2.3"/>
<circle cx="538.8" cy="355.3" r="2.3"/>
<circle cx="538.5" cy="356.1" r="2.3"/>
<circle cx="537.1" cy="353.9" r="2.3"/>
<circle cx="537.5" cy="356.3" r="2.3"/>
<circle cx="657.6" cy="242.0" r="2.3"/>
</g>
<g transform="translate(609.49,284.10) rotate(-38)"><ellipse cx="-22" cy="1" rx="23.2" ry="6.4" fill="#505050" fill-opacity="0.35" filter="url(#bl2)"/><ellipse cx="-10" cy="0.5" rx="14.0" ry="6.0" fill="#4a4a4a" fill-opacity="0.7" filter="url(#bl)"/><ellipse rx="15.5" ry="7.5" fill="#474747" filter="url(#bl)"/></g>
<circle cx="537.7" cy="355.6" r="2.3" fill="#333"/>
<g fill="#d43aab" fill-opacity="0.9">
<circle cx="609.6" cy="297.1" r="2.2"/>
<circle cx="614.1" cy="296.7" r="2.2"/>
<circle cx="617.2" cy="304.0" r="2.2"/>
<circle cx="595.1" cy="318.1" r="2.2"/>
<circle cx="590.9" cy="320.1" r="2.2"/>
<circle cx="581.9" cy="326.1" r="2.2"/>
<circle cx="613.2" cy="355.9" r="2.2"/>
<circle cx="625.9" cy="355.9" r="2.2"/>
</g>
<circle cx="600.90" cy="293.10" r="1.80" fill="none" stroke="#1a1a1a" stroke-width="0.8" />
<circle cx="602.50" cy="289.30" r="1.80" fill="none" stroke="#1a1a1a" stroke-width="0.8" />
<circle cx="604.70" cy="288.60" r="1.80" fill="none" stroke="#1a1a1a" stroke-width="0.8" />
<rect x="531.90" y="209.60" width="151.30" height="151.30" fill="none" stroke="#6b6b6b" stroke-width="1.0" />
<line x1="537.70" y1="360.90" x2="537.70" y2="356.90" stroke="#6b6b6b" stroke-width="1.0" />
<line x1="531.90" y1="355.60" x2="535.90" y2="355.60" stroke="#6b6b6b" stroke-width="1.0" />
<line x1="572.55" y1="360.90" x2="572.55" y2="356.90" stroke="#6b6b6b" stroke-width="1.0" />
<line x1="531.90" y1="320.55" x2="535.90" y2="320.55" stroke="#6b6b6b" stroke-width="1.0" />
<line x1="607.40" y1="360.90" x2="607.40" y2="356.90" stroke="#6b6b6b" stroke-width="1.0" />
<line x1="531.90" y1="285.50" x2="535.90" y2="285.50" stroke="#6b6b6b" stroke-width="1.0" />
<line x1="642.25" y1="360.90" x2="642.25" y2="356.90" stroke="#6b6b6b" stroke-width="1.0" />
<line x1="531.90" y1="250.45" x2="535.90" y2="250.45" stroke="#6b6b6b" stroke-width="1.0" />
<line x1="677.10" y1="360.90" x2="677.10" y2="356.90" stroke="#6b6b6b" stroke-width="1.0" />
<line x1="531.90" y1="215.40" x2="535.90" y2="215.40" stroke="#6b6b6b" stroke-width="1.0" />
<text x="534.25" y="375.20" font-size="12.4" fill="#1a1a1a">0</text>
<text x="522.51" y="359.80" font-size="12.4" fill="#1a1a1a">0</text>
<text x="563.93" y="375.20" font-size="12.4" fill="#1a1a1a">0.5</text>
<text x="512.16" y="324.75" font-size="12.4" fill="#1a1a1a">0.5</text>
<text x="598.78" y="375.20" font-size="12.4" fill="#1a1a1a">1.0</text>
<text x="512.16" y="289.70" font-size="12.4" fill="#1a1a1a">1.0</text>
<text x="633.63" y="375.20" font-size="12.4" fill="#1a1a1a">1.5</text>
<text x="512.16" y="254.65" font-size="12.4" fill="#1a1a1a">1.5</text>
<text x="668.48" y="375.20" font-size="12.4" fill="#1a1a1a">2.0</text>
<text x="512.16" y="219.60" font-size="12.4" fill="#1a1a1a">2.0</text>
<text x="553.31" y="390.70" font-size="13.3" fill="#1a1a1a">normalized fitness</text>
<text x="582.00" y="406.70" font-size="13.3" font-style="italic" fill="#1a1a1a">wt x orf<tspan font-style="normal" font-weight="normal" font-size="10.64">Δ</tspan></text>
<text x="-53.59" y="0.00" font-size="13.3" fill="#1a1a1a" transform="translate(489.90,285.25) rotate(-90)">normalized fitness</text>
<text x="-55.83" y="0.00" font-size="13.3" font-style="italic" fill="#1a1a1a" transform="translate(505.90,285.25) rotate(-90)">G2-RNH202 x orf<tspan font-style="normal" font-weight="normal" font-size="10.64">Δ</tspan></text>
<text x="633.57" y="227.20" font-size="14.0" font-weight="bold" fill="#d43aab">8/4790</text>
<text x="566.70" y="255.80" font-size="13.0" font-style="italic" fill="#1a1a1a" textLength="46.50" lengthAdjust="spacingAndGlyphs">mms22<tspan font-style="normal" font-weight="normal" font-size="10.40">Δ</tspan></text>
<line x1="590.90" y1="259.60" x2="602.00" y2="288.60" stroke="#1a1a1a" stroke-width="0.9" />
<text x="534.40" y="270.30" font-size="13.0" font-style="italic" fill="#1a1a1a" textLength="40.20" lengthAdjust="spacingAndGlyphs">mms1<tspan font-style="normal" font-weight="normal" font-size="10.40">Δ</tspan></text>
<line x1="576.80" y1="272.10" x2="600.90" y2="293.10" stroke="#1a1a1a" stroke-width="0.9" />
<text x="629.30" y="265.80" font-size="13.0" font-style="italic" fill="#1a1a1a" textLength="38.00" lengthAdjust="spacingAndGlyphs">rtt101<tspan font-style="normal" font-weight="normal" font-size="10.40">Δ</tspan></text>
<line x1="627.00" y1="268.50" x2="605.20" y2="288.60" stroke="#1a1a1a" stroke-width="0.9" />
<text x="0.80" y="426.00" font-size="16.5" font-weight="bold" textLength="10.40" lengthAdjust="spacingAndGlyphs">E</text>
<g opacity="1">
<ellipse cx="151.9" cy="501.0" rx="52.7" ry="55.0" fill="rgb(213,31,21)" fill-opacity="0.5"/>
<ellipse cx="106.0" cy="500.6" rx="52.7" ry="55.0" fill="rgb(0,155,205)" fill-opacity="0.5"/>
<ellipse cx="128.8" cy="541.9" rx="52.7" ry="55.0" fill="rgb(250,216,28)" fill-opacity="0.5"/>
</g>
<text x="52.00" y="437.90" font-size="13.0" font-style="italic" fill="#1a1a1a" textLength="72.40" lengthAdjust="spacingAndGlyphs">G1-RNH202</text>
<text x="134.40" y="437.90" font-size="13.0" font-style="italic" fill="#1a1a1a" textLength="72.40" lengthAdjust="spacingAndGlyphs">G2-RNH202</text>
<text x="97.60" y="614.90" font-size="13.0" font-style="italic" fill="#1a1a1a" textLength="63.60" lengthAdjust="spacingAndGlyphs">S-RNH202</text>
<text x="79.03" y="488.30" font-size="13.2" fill="#1a1a1a">8</text>
<text x="125.23" y="478.40" font-size="13.2" fill="#1a1a1a">0</text>
<text x="170.93" y="488.30" font-size="13.2" fill="#1a1a1a">2</text>
<text x="125.23" y="520.10" font-size="13.2" fill="#1a1a1a">5</text>
<text x="90.93" y="539.70" font-size="13.2" fill="#1a1a1a">8</text>
<text x="159.23" y="539.70" font-size="13.2" fill="#1a1a1a">1</text>
<text x="121.26" y="574.40" font-size="13.2" fill="#1a1a1a">31</text>
<text x="234.20" y="425.80" font-size="16.5" font-weight="bold" textLength="8.60" lengthAdjust="spacingAndGlyphs">F</text>
<line x1="274.70" y1="442.00" x2="274.70" y2="589.20" stroke="#1a1a1a" stroke-width="1.2" />
<text x="0.00" y="0.00" font-size="14.5" font-weight="bold" textLength="56.00" lengthAdjust="spacingAndGlyphs" transform="translate(270.0,580.0) rotate(-90)">GO term</text>
<text x="62.00" y="0.00" font-size="14.5" font-style="italic" textLength="68.30" lengthAdjust="spacingAndGlyphs" transform="translate(270.0,580.0) rotate(-90)">S-RNH202</text>
<rect x="510.20" y="443.50" width="89.40" height="11.80" fill="#b2b2b2" stroke="none" stroke-width="1.0" />
<text x="398.49" y="454.60" font-size="14.6" fill="#1a1a1a" textLength="102.51" lengthAdjust="spacingAndGlyphs">DNA recombination</text>
<text x="523.89" y="454.80" font-size="14.2" fill="#1a1a1a" textLength="13.43" lengthAdjust="spacingAndGlyphs">15</text>
<rect x="510.20" y="457.71" width="89.10" height="11.80" fill="#b2b2b2" stroke="none" stroke-width="1.0" />
<text x="383.27" y="468.72" font-size="14.6" fill="#1a1a1a" textLength="117.73" lengthAdjust="spacingAndGlyphs">recombinational repair</text>
<text x="524.34" y="468.92" font-size="14.2" fill="#1a1a1a" textLength="12.53" lengthAdjust="spacingAndGlyphs">11</text>
<rect x="510.20" y="471.92" width="89.10" height="11.80" fill="#b2b2b2" stroke="none" stroke-width="1.0" />
<text x="357.51" y="482.84" font-size="14.6" fill="#1a1a1a" textLength="143.49" lengthAdjust="spacingAndGlyphs">meiosis I cell cycle process</text>
<text x="523.89" y="483.04" font-size="14.2" fill="#1a1a1a" textLength="13.43" lengthAdjust="spacingAndGlyphs">12</text>
<rect x="510.20" y="486.13" width="84.60" height="11.80" fill="#b2b2b2" stroke="none" stroke-width="1.0" />
<text x="330.38" y="496.96" font-size="14.6" fill="#1a1a1a" textLength="170.63" lengthAdjust="spacingAndGlyphs">reciprocal meiotic recombination</text>
<text x="523.89" y="497.16" font-size="14.2" fill="#1a1a1a" textLength="13.43" lengthAdjust="spacingAndGlyphs">10</text>
<rect x="510.20" y="500.34" width="84.60" height="11.80" fill="#b2b2b2" stroke="none" stroke-width="1.0" />
<text x="377.33" y="511.08" font-size="14.6" fill="#1a1a1a" textLength="123.67" lengthAdjust="spacingAndGlyphs">DNA metabolic process</text>
<text x="523.89" y="511.28" font-size="14.2" fill="#1a1a1a" textLength="13.43" lengthAdjust="spacingAndGlyphs">19</text>
<rect x="510.20" y="514.55" width="84.60" height="11.80" fill="#b2b2b2" stroke="none" stroke-width="1.0" />
<text x="358.13" y="525.20" font-size="14.6" fill="#1a1a1a" textLength="142.88" lengthAdjust="spacingAndGlyphs">homologous recombination</text>
<text x="523.89" y="525.40" font-size="14.2" fill="#1a1a1a" textLength="13.43" lengthAdjust="spacingAndGlyphs">10</text>
<rect x="510.20" y="528.76" width="84.60" height="11.80" fill="#b2b2b2" stroke="none" stroke-width="1.0" />
<text x="276.80" y="539.32" font-size="14.6" fill="#1a1a1a" textLength="224.21" lengthAdjust="spacingAndGlyphs">cellular response to DNA damage stimulus</text>
<text x="523.89" y="539.52" font-size="14.2" fill="#1a1a1a" textLength="13.43" lengthAdjust="spacingAndGlyphs">17</text>
<rect x="510.20" y="542.97" width="82.70" height="11.80" fill="#b2b2b2" stroke="none" stroke-width="1.0" />
<text x="361.44" y="553.44" font-size="14.6" fill="#1a1a1a" textLength="139.56" lengthAdjust="spacingAndGlyphs">double-strand break repair</text>
<text x="523.89" y="553.64" font-size="14.2" fill="#1a1a1a" textLength="13.43" lengthAdjust="spacingAndGlyphs">12</text>
<rect x="510.20" y="557.18" width="78.80" height="11.80" fill="#b2b2b2" stroke="none" stroke-width="1.0" />
<text x="454.06" y="567.56" font-size="14.6" fill="#1a1a1a" textLength="46.95" lengthAdjust="spacingAndGlyphs">meiosis I</text>
<text x="523.89" y="567.76" font-size="14.2" fill="#1a1a1a" textLength="13.43" lengthAdjust="spacingAndGlyphs">10</text>
<rect x="510.20" y="571.39" width="77.70" height="11.80" fill="#b2b2b2" stroke="none" stroke-width="1.0" />
<text x="442.80" y="581.68" font-size="14.6" fill="#1a1a1a" textLength="58.19" lengthAdjust="spacingAndGlyphs">DNA repair</text>
<text x="523.89" y="581.88" font-size="14.2" fill="#1a1a1a" textLength="13.43" lengthAdjust="spacingAndGlyphs">15</text>
<rect x="510.20" y="439.30" width="151.40" height="151.30" fill="none" stroke="#6b6b6b" stroke-width="1.0" />
<line x1="510.20" y1="590.60" x2="510.20" y2="586.60" stroke="#6b6b6b" stroke-width="1.0" />
<text x="506.87" y="602.90" font-size="13.6" fill="#1a1a1a" textLength="6.66" lengthAdjust="spacingAndGlyphs">0</text>
<line x1="560.67" y1="590.60" x2="560.67" y2="586.60" stroke="#6b6b6b" stroke-width="1.0" />
<text x="557.34" y="602.90" font-size="13.6" fill="#1a1a1a" textLength="6.66" lengthAdjust="spacingAndGlyphs">5</text>
<line x1="611.13" y1="590.60" x2="611.13" y2="586.60" stroke="#6b6b6b" stroke-width="1.0" />
<text x="604.48" y="602.90" font-size="13.6" fill="#1a1a1a" textLength="13.31" lengthAdjust="spacingAndGlyphs">10</text>
<line x1="661.60" y1="590.60" x2="661.60" y2="586.60" stroke="#6b6b6b" stroke-width="1.0" />
<text x="654.95" y="602.90" font-size="13.6" fill="#1a1a1a" textLength="13.31" lengthAdjust="spacingAndGlyphs">15</text>
<text x="614.90" y="581.80" font-size="14.4" fill="#1a1a1a" textLength="40.20" lengthAdjust="spacingAndGlyphs">n = 45</text>
<text x="544.2" y="618.3" font-size="14.2" fill="#1a1a1a" textLength="82.8" lengthAdjust="spacingAndGlyphs">-log<tspan font-size="8" dy="2.5">10</tspan><tspan dy="-2.5">(p-value)</tspan></text>
<text x="1.00" y="644.60" font-size="16.5" font-weight="bold" textLength="11.40" lengthAdjust="spacingAndGlyphs">G</text>
<circle cx="32.80" cy="657.20" r="5.90" fill="#ffe200" stroke="#1a1a1a" stroke-width="1.1" />
<circle cx="47.70" cy="657.20" r="5.90" fill="#db2a1d" stroke="#1a1a1a" stroke-width="1.1" />
<circle cx="63.80" cy="657.20" r="5.90" fill="#0aa0da" stroke="#1a1a1a" stroke-width="1.1" />
<circle cx="63.80" cy="675.80" r="6.20" fill="#a9a9a9" stroke="none" stroke-width="1.0" />
<text x="74.90" y="661.00" font-size="13.6" fill="#1a1a1a" textLength="35.51" lengthAdjust="spacingAndGlyphs">query</text>
<text x="78.20" y="679.40" font-size="13.6" fill="#1a1a1a" textLength="214.51" lengthAdjust="spacingAndGlyphs">verified synthetic sick interactions</text>
<g stroke="#b9b9b9" stroke-width="0.9">
<line x1="173.7" y1="834.2" x2="123.3" y2="778.9"/>
<line x1="173.7" y1="834.2" x2="158.5" y2="761.0"/>
<line x1="173.7" y1="834.2" x2="163.0" y2="798.1"/>
<line x1="173.7" y1="834.2" x2="137.2" y2="826.6"/>
<line x1="173.7" y1="834.2" x2="98.8" y2="850.2"/>
<line x1="173.7" y1="834.2" x2="144.7" y2="862.6"/>
<line x1="173.7" y1="834.2" x2="107.4" y2="928.5"/>
<line x1="173.7" y1="834.2" x2="200.4" y2="808.0"/>
<line x1="173.7" y1="834.2" x2="247.3" y2="820.4"/>
<line x1="173.7" y1="834.2" x2="283.3" y2="809.3"/>
<line x1="173.7" y1="834.2" x2="244.8" y2="862.6"/>
<line x1="173.7" y1="834.2" x2="282.8" y2="863.9"/>
<line x1="173.7" y1="834.2" x2="180.4" y2="872.4"/>
<line x1="173.7" y1="834.2" x2="190.9" y2="909.9"/>
<line x1="173.7" y1="834.2" x2="212.0" y2="942.1"/>
<line x1="173.7" y1="834.2" x2="442.8" y2="656.0"/>
<line x1="173.7" y1="834.2" x2="478.8" y2="648.6"/>
<line x1="173.7" y1="834.2" x2="422.7" y2="687.8"/>
<line x1="173.7" y1="834.2" x2="470.1" y2="696.5"/>
<line x1="173.7" y1="834.2" x2="517.4" y2="704.7"/>
<line x1="173.7" y1="834.2" x2="497.7" y2="730.4"/>
<line x1="173.7" y1="834.2" x2="386.8" y2="822.2"/>
<line x1="173.7" y1="834.2" x2="414.1" y2="814.7"/>
<line x1="173.7" y1="834.2" x2="434.7" y2="833.3"/>
<line x1="173.7" y1="834.2" x2="442.7" y2="857.8"/>
<line x1="173.7" y1="834.2" x2="442.7" y2="889.6"/>
<line x1="173.7" y1="834.2" x2="415.4" y2="906.3"/>
<line x1="557.7" y1="901.0" x2="442.8" y2="656.0"/>
<line x1="557.7" y1="901.0" x2="470.1" y2="696.5"/>
<line x1="557.7" y1="901.0" x2="497.7" y2="730.4"/>
<line x1="557.7" y1="901.0" x2="478.8" y2="648.6"/>
<line x1="557.7" y1="901.0" x2="422.7" y2="687.8"/>
<line x1="557.7" y1="901.0" x2="525.9" y2="864.4"/>
<line x1="557.7" y1="901.0" x2="561.2" y2="853.2"/>
<line x1="557.7" y1="901.0" x2="594.0" y2="869.3"/>
<line x1="557.7" y1="901.0" x2="509.3" y2="898.0"/>
<line x1="557.7" y1="901.0" x2="605.3" y2="904.7"/>
<line x1="557.7" y1="901.0" x2="520.9" y2="932.7"/>
<line x1="557.7" y1="901.0" x2="589.2" y2="937.2"/>
<line x1="557.7" y1="901.0" x2="554.4" y2="948.8"/>
<line x1="557.7" y1="901.0" x2="434.7" y2="833.3"/>
<line x1="557.7" y1="901.0" x2="442.7" y2="857.8"/>
<line x1="557.7" y1="901.0" x2="414.1" y2="814.7"/>
<line x1="557.7" y1="901.0" x2="386.8" y2="822.2"/>
<line x1="557.7" y1="901.0" x2="442.7" y2="889.6"/>
<line x1="402.6" y1="865.5" x2="386.8" y2="822.2"/>
<line x1="402.6" y1="865.5" x2="414.1" y2="814.7"/>
<line x1="402.6" y1="865.5" x2="434.7" y2="833.3"/>
<line x1="402.6" y1="865.5" x2="442.7" y2="857.8"/>
<line x1="402.6" y1="865.5" x2="442.7" y2="889.6"/>
<line x1="402.6" y1="865.5" x2="360.0" y2="900.8"/>
<line x1="402.6" y1="865.5" x2="385.6" y2="912.7"/>
<line x1="402.6" y1="865.5" x2="415.4" y2="906.3"/>
</g><g stroke="#6e6e6e" stroke-width="1.3">
<line x1="173.7" y1="834.2" x2="160.7" y2="722.8"/>
<line x1="173.7" y1="834.2" x2="109.2" y2="741.7"/>
<line x1="173.7" y1="834.2" x2="214.5" y2="729.7"/>
<line x1="173.7" y1="834.2" x2="197.6" y2="764.0"/>
<line x1="173.7" y1="834.2" x2="258.4" y2="761.2"/>
<line x1="173.7" y1="834.2" x2="227.6" y2="784.4"/>
<line x1="173.7" y1="834.2" x2="72.7" y2="781.9"/>
<line x1="173.7" y1="834.2" x2="101.2" y2="811.0"/>
<line x1="173.7" y1="834.2" x2="59.6" y2="834.6"/>
<line x1="173.7" y1="834.2" x2="72.0" y2="887.6"/>
<line x1="173.7" y1="834.2" x2="115.9" y2="885.1"/>
<line x1="173.7" y1="834.2" x2="148.4" y2="907.2"/>
<line x1="173.7" y1="834.2" x2="158.4" y2="948.1"/>
<line x1="173.7" y1="834.2" x2="222.5" y2="892.5"/>
<line x1="173.7" y1="834.2" x2="257.2" y2="911.6"/>
<line x1="173.7" y1="834.2" x2="208.8" y2="850.2"/>
<line x1="173.7" y1="834.2" x2="439.7" y2="728.0"/>
<line x1="173.7" y1="834.2" x2="510.3" y2="669.0"/>
<line x1="557.7" y1="901.0" x2="439.7" y2="728.0"/>
<line x1="557.7" y1="901.0" x2="510.3" y2="669.0"/>
</g>
<circle cx="160.70" cy="722.80" r="12.40" fill="#a8a8a8" stroke="none" stroke-width="1.0" />
<text x="146.93" y="725.80" font-size="8.4" font-weight="bold" font-style="italic">RAD54</text>
<circle cx="109.20" cy="741.70" r="12.40" fill="#a8a8a8" stroke="none" stroke-width="1.0" />
<text x="95.43" y="744.70" font-size="8.4" font-weight="bold" font-style="italic">RAD52</text>
<circle cx="214.50" cy="729.70" r="12.40" fill="#a8a8a8" stroke="none" stroke-width="1.0" />
<text x="202.37" y="732.70" font-size="8.4" font-weight="bold" font-style="italic">MMS4</text>
<circle cx="197.60" cy="764.00" r="12.40" fill="#a8a8a8" stroke="none" stroke-width="1.0" />
<text x="183.59" y="767.00" font-size="8.4" font-weight="bold" font-style="italic">MUS81</text>
<circle cx="258.40" cy="761.20" r="12.40" fill="#a8a8a8" stroke="none" stroke-width="1.0" />
<text x="247.19" y="764.20" font-size="8.4" font-weight="bold" font-style="italic">SGS1</text>
<circle cx="227.60" cy="784.40" r="12.40" fill="#a8a8a8" stroke="none" stroke-width="1.0" />
<text x="217.57" y="787.40" font-size="8.4" font-weight="bold" font-style="italic">RMI1</text>
<circle cx="72.70" cy="781.90" r="12.40" fill="#a8a8a8" stroke="none" stroke-width="1.0" />
<text x="57.61" y="784.90" font-size="8.4" font-weight="bold" font-style="italic">RTT101</text>
<circle cx="101.20" cy="811.00" r="12.40" fill="#a8a8a8" stroke="none" stroke-width="1.0" />
<text x="89.07" y="814.00" font-size="8.4" font-weight="bold" font-style="italic">MMS1</text>
<circle cx="59.60" cy="834.60" r="12.40" fill="#a8a8a8" stroke="none" stroke-width="1.0" />
<text x="48.95" y="837.60" font-size="8.4" font-weight="bold" font-style="italic">ASF1</text>
<circle cx="72.00" cy="887.60" r="12.40" fill="#a8a8a8" stroke="none" stroke-width="1.0" />
<text x="56.74" y="890.60" font-size="8.4" font-weight="bold" font-style="italic">RTT107</text>
<circle cx="115.90" cy="885.10" r="12.40" fill="#a8a8a8" stroke="none" stroke-width="1.0" />
<text x="100.81" y="888.10" font-size="8.4" font-weight="bold" font-style="italic">RTT109</text>
<circle cx="148.40" cy="907.20" r="12.40" fill="#a8a8a8" stroke="none" stroke-width="1.0" />
<text x="134.46" y="910.20" font-size="8.4" font-weight="bold" font-style="italic">RAD57</text>
<circle cx="158.40" cy="948.10" r="12.40" fill="#a8a8a8" stroke="none" stroke-width="1.0" />
<text x="144.58" y="951.10" font-size="8.4" font-weight="bold" font-style="italic">RAD55</text>
<circle cx="222.50" cy="892.50" r="12.40" fill="#a8a8a8" stroke="none" stroke-width="1.0" />
<text x="208.81" y="895.50" font-size="8.4" font-weight="bold" font-style="italic">MRE11</text>
<circle cx="257.20" cy="911.60" r="12.40" fill="#a8a8a8" stroke="none" stroke-width="1.0" />
<text x="246.42" y="914.60" font-size="8.4" font-weight="bold" font-style="italic">XRS2</text>
<circle cx="208.80" cy="850.20" r="12.40" fill="#a8a8a8" stroke="none" stroke-width="1.0" />
<text x="197.36" y="853.20" font-size="8.4" font-weight="bold" font-style="italic">RNR1</text>
<circle cx="439.70" cy="728.00" r="12.40" fill="#a8a8a8" stroke="none" stroke-width="1.0" />
<text x="428.81" y="731.00" font-size="8.4" font-weight="bold" font-style="italic">TOP3</text>
<circle cx="510.30" cy="669.00" r="12.40" fill="#a8a8a8" stroke="none" stroke-width="1.0" />
<text x="496.53" y="672.00" font-size="8.4" font-weight="bold" font-style="italic">RAD50</text>
<circle cx="123.30" cy="778.90" r="12.40" fill="#e9e9e9" stroke="none" stroke-width="1.0" />
<text x="103.92" y="781.90" font-size="8.6" font-style="italic" fill="#8c8c8c">YDR250C</text>
<circle cx="158.50" cy="761.00" r="12.40" fill="#e9e9e9" stroke="none" stroke-width="1.0" />
<text x="147.74" y="764.00" font-size="8.6" font-style="italic" fill="#8c8c8c">YAP6</text>
<circle cx="163.00" cy="798.10" r="12.40" fill="#e9e9e9" stroke="none" stroke-width="1.0" />
<text x="149.38" y="801.10" font-size="8.6" font-style="italic" fill="#8c8c8c">FUN12</text>
<circle cx="137.20" cy="826.60" r="12.40" fill="#e9e9e9" stroke="none" stroke-width="1.0" />
<text x="128.12" y="829.60" font-size="8.6" font-style="italic" fill="#8c8c8c">IST1</text>
<circle cx="98.80" cy="850.20" r="12.40" fill="#e9e9e9" stroke="none" stroke-width="1.0" />
<text x="88.12" y="853.20" font-size="8.6" font-style="italic" fill="#8c8c8c">PPA2</text>
<circle cx="144.70" cy="862.60" r="12.40" fill="#e9e9e9" stroke="none" stroke-width="1.0" />
<text x="132.49" y="865.60" font-size="8.6" font-style="italic" fill="#8c8c8c">AIM10</text>
<circle cx="107.40" cy="928.50" r="12.40" fill="#e9e9e9" stroke="none" stroke-width="1.0" />
<text x="96.40" y="931.50" font-size="8.6" font-style="italic" fill="#8c8c8c">PBY1</text>
<circle cx="200.40" cy="808.00" r="12.40" fill="#e9e9e9" stroke="none" stroke-width="1.0" />
<text x="188.70" y="811.00" font-size="8.6" font-style="italic" fill="#8c8c8c">MTH1</text>
<circle cx="247.30" cy="820.40" r="12.40" fill="#e9e9e9" stroke="none" stroke-width="1.0" />
<text x="230.57" y="823.40" font-size="8.6" font-style="italic" fill="#8c8c8c">MRPL23</text>
<circle cx="283.30" cy="809.30" r="12.40" fill="#e9e9e9" stroke="none" stroke-width="1.0" />
<text x="264.15" y="812.30" font-size="8.6" font-style="italic" fill="#8c8c8c">YBR099C</text>
<circle cx="244.80" cy="862.60" r="12.40" fill="#e9e9e9" stroke="none" stroke-width="1.0" />
<text x="225.10" y="865.60" font-size="8.6" font-style="italic" fill="#8c8c8c">YJR018W</text>
<circle cx="282.80" cy="863.90" r="12.40" fill="#e9e9e9" stroke="none" stroke-width="1.0" />
<text x="271.09" y="866.90" font-size="8.6" font-style="italic" fill="#8c8c8c">HOP2</text>
<circle cx="180.40" cy="872.40" r="12.40" fill="#e9e9e9" stroke="none" stroke-width="1.0" />
<text x="168.93" y="875.40" font-size="8.6" font-style="italic" fill="#8c8c8c">MEF1</text>
<circle cx="190.90" cy="909.90" r="12.40" fill="#e9e9e9" stroke="none" stroke-width="1.0" />
<text x="174.17" y="912.90" font-size="8.6" font-style="italic" fill="#8c8c8c">MRPL10</text>
<circle cx="212.00" cy="942.10" r="12.40" fill="#e9e9e9" stroke="none" stroke-width="1.0" />
<text x="200.05" y="945.10" font-size="8.6" font-style="italic" fill="#8c8c8c">HRQ1</text>
<circle cx="442.80" cy="656.00" r="12.40" fill="#e9e9e9" stroke="none" stroke-width="1.0" />
<text x="432.53" y="659.00" font-size="8.6" font-style="italic" fill="#8c8c8c">INM2</text>
<circle cx="478.80" cy="648.60" r="12.40" fill="#e9e9e9" stroke="none" stroke-width="1.0" />
<text x="468.05" y="651.60" font-size="8.6" font-style="italic" fill="#8c8c8c">PFK1</text>
<circle cx="422.70" cy="687.80" r="12.40" fill="#e9e9e9" stroke="none" stroke-width="1.0" />
<text x="410.08" y="690.80" font-size="8.6" font-style="italic" fill="#8c8c8c">ATP25</text>
<circle cx="470.10" cy="696.50" r="12.40" fill="#e9e9e9" stroke="none" stroke-width="1.0" />
<text x="458.15" y="699.50" font-size="8.6" font-style="italic" fill="#8c8c8c">NAM2</text>
<circle cx="517.40" cy="704.70" r="12.40" fill="#e9e9e9" stroke="none" stroke-width="1.0" />
<text x="505.93" y="707.70" font-size="8.6" font-style="italic" fill="#8c8c8c">EOS1</text>
<circle cx="497.70" cy="730.40" r="12.40" fill="#e9e9e9" stroke="none" stroke-width="1.0" />
<text x="478.32" y="733.40" font-size="8.6" font-style="italic" fill="#8c8c8c">YDR278C</text>
<circle cx="386.80" cy="822.20" r="12.40" fill="#e9e9e9" stroke="none" stroke-width="1.0" />
<text x="372.46" y="825.20" font-size="8.6" font-style="italic" fill="#8c8c8c">RSM22</text>
<circle cx="414.10" cy="814.70" r="12.40" fill="#e9e9e9" stroke="none" stroke-width="1.0" />
<text x="403.59" y="817.70" font-size="8.6" font-style="italic" fill="#8c8c8c">IMG2</text>
<circle cx="434.70" cy="833.30" r="12.40" fill="#e9e9e9" stroke="none" stroke-width="1.0" />
<text x="422.99" y="836.30" font-size="8.6" font-style="italic" fill="#8c8c8c">MSE1</text>
<circle cx="442.70" cy="857.80" r="12.40" fill="#e9e9e9" stroke="none" stroke-width="1.0" />
<text x="433.70" y="860.80" font-size="8.6" font-style="italic" fill="#8c8c8c">ZIP1</text>
<circle cx="442.70" cy="889.60" r="12.40" fill="#e9e9e9" stroke="none" stroke-width="1.0" />
<text x="430.75" y="892.60" font-size="8.6" font-style="italic" fill="#8c8c8c">GCN2</text>
<circle cx="360.00" cy="900.80" r="12.40" fill="#e9e9e9" stroke="none" stroke-width="1.0" />
<text x="341.33" y="903.80" font-size="8.6" font-style="italic" fill="#8c8c8c">YLR236C</text>
<circle cx="385.60" cy="912.70" r="12.40" fill="#e9e9e9" stroke="none" stroke-width="1.0" />
<text x="372.45" y="915.70" font-size="8.6" font-style="italic" fill="#8c8c8c">FYV10</text>
<circle cx="415.40" cy="906.30" r="12.40" fill="#e9e9e9" stroke="none" stroke-width="1.0" />
<text x="403.69" y="909.30" font-size="8.6" font-style="italic" fill="#8c8c8c">PMP3</text>
<circle cx="525.90" cy="864.40" r="12.40" fill="#e9e9e9" stroke="none" stroke-width="1.0" />
<text x="514.89" y="867.40" font-size="8.6" font-style="italic" fill="#8c8c8c">PEX5</text>
<circle cx="561.20" cy="853.20" r="12.40" fill="#e9e9e9" stroke="none" stroke-width="1.0" />
<text x="549.32" y="856.20" font-size="8.6" font-style="italic" fill="#8c8c8c">TOM5</text>
<circle cx="594.00" cy="869.30" r="12.40" fill="#e9e9e9" stroke="none" stroke-width="1.0" />
<text x="582.98" y="872.30" font-size="8.6" font-style="italic" fill="#8c8c8c">AKR1</text>
<circle cx="509.30" cy="898.00" r="12.40" fill="#e9e9e9" stroke="none" stroke-width="1.0" />
<text x="488.88" y="901.00" font-size="8.6" font-style="italic" fill="#8c8c8c">YML090W</text>
<circle cx="605.30" cy="904.70" r="12.40" fill="#e9e9e9" stroke="none" stroke-width="1.0" />
<text x="592.78" y="907.70" font-size="8.6" font-style="italic" fill="#8c8c8c">LYS14</text>
<circle cx="520.90" cy="932.70" r="12.40" fill="#e9e9e9" stroke="none" stroke-width="1.0" />
<text x="508.95" y="935.70" font-size="8.6" font-style="italic" fill="#8c8c8c">PHM6</text>
<circle cx="589.20" cy="937.20" r="12.40" fill="#e9e9e9" stroke="none" stroke-width="1.0" />
<text x="577.49" y="940.20" font-size="8.6" font-style="italic" fill="#8c8c8c">YME1</text>
<circle cx="554.40" cy="948.80" r="12.40" fill="#e9e9e9" stroke="none" stroke-width="1.0" />
<text x="542.21" y="951.80" font-size="8.6" font-style="italic" fill="#8c8c8c">MHR1</text>
<ellipse cx="173.7" cy="834.2" rx="20.8" ry="14.0" fill="#f9dd12" stroke="#1a1a1a" stroke-width="1.5"/>
<text x="170.07" y="831.60" font-size="9.6" font-style="italic" textLength="8.26" lengthAdjust="spacingAndGlyphs">S-</text>
<text x="157.87" y="841.50" font-size="9.6" font-style="italic" textLength="31.66" lengthAdjust="spacingAndGlyphs">RNH202</text>
<ellipse cx="402.6" cy="865.5" rx="20.2" ry="14.2" fill="#db2a1d" stroke="#1a1a1a" stroke-width="1.5"/>
<text x="396.22" y="862.90" font-size="9.6" font-style="italic" textLength="13.76" lengthAdjust="spacingAndGlyphs">G2-</text>
<text x="386.77" y="872.80" font-size="9.6" font-style="italic" textLength="31.66" lengthAdjust="spacingAndGlyphs">RNH202</text>
<ellipse cx="557.7" cy="901.0" rx="21.0" ry="14.3" fill="#0aa0da" stroke="#1a1a1a" stroke-width="1.5"/>
<text x="551.32" y="898.40" font-size="9.6" font-style="italic" textLength="13.76" lengthAdjust="spacingAndGlyphs">G1-</text>
<text x="541.87" y="908.30" font-size="9.6" font-style="italic" textLength="31.66" lengthAdjust="spacingAndGlyphs">RNH202</text>
</svg></body></html>
